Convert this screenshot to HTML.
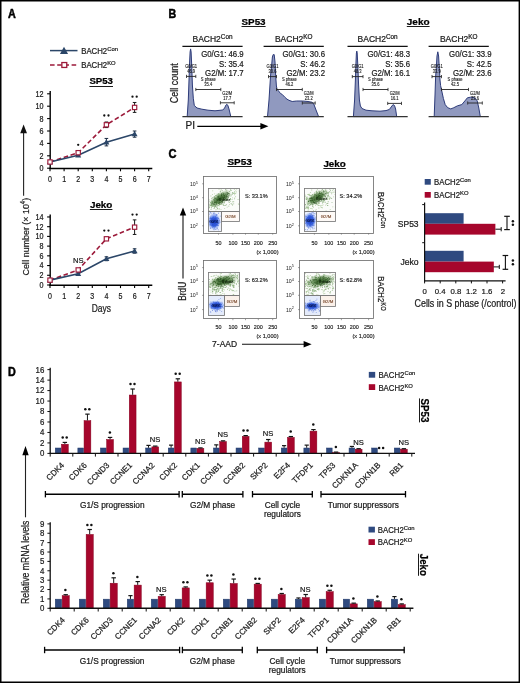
<!DOCTYPE html>
<html><head><meta charset="utf-8"><title>Figure</title>
<style>html,body{margin:0;padding:0;background:#fff;}svg{display:block;filter:blur(0.3px);}</style>
</head><body>
<svg width="520" height="683" viewBox="0 0 520 683" font-family='"Liberation Sans", sans-serif'>
<rect x="0" y="0" width="520" height="683" fill="#ffffff" stroke="none" stroke-width="0"/>
<rect x="0" y="0" width="520" height="1.5" fill="#000" stroke="none" stroke-width="0"/>
<rect x="0" y="0" width="1.5" height="683" fill="#000" stroke="none" stroke-width="0"/>
<rect x="518.6" y="0" width="1.4" height="683" fill="#000" stroke="none" stroke-width="0"/>
<rect x="0" y="681.5" width="520" height="1.5" fill="#000" stroke="none" stroke-width="0"/>
<text x="8" y="17.8" font-size="12" text-anchor="start" font-weight="bold" fill="#000" textLength="7.8" lengthAdjust="spacingAndGlyphs" stroke="#000" stroke-width="0.5">A</text>
<text x="168.6" y="17.5" font-size="12" text-anchor="start" font-weight="bold" fill="#000" textLength="7.7" lengthAdjust="spacingAndGlyphs" stroke="#000" stroke-width="0.5">B</text>
<text x="168.5" y="158.3" font-size="12.4" text-anchor="start" font-weight="bold" fill="#000" textLength="8" lengthAdjust="spacingAndGlyphs" stroke="#000" stroke-width="0.5">C</text>
<text x="8" y="375.6" font-size="12.4" text-anchor="start" font-weight="bold" fill="#000" textLength="7.8" lengthAdjust="spacingAndGlyphs" stroke="#000" stroke-width="0.5">D</text>
<line x1="50" y1="50.6" x2="77.5" y2="50.6" stroke="#2b4668" stroke-width="1.5"/>
<path d="M64 46.78L68.08 54.06L59.92 54.06Z" fill="#2b4668"/>
<text x="81.2" y="53.6" font-size="8.3" text-anchor="start" fill="#1a1a1a" stroke="#1a1a1a" stroke-width="0.22" textLength="36.75" lengthAdjust="spacingAndGlyphs">BACH2<tspan font-size="6.23" dy="-2.99">Con</tspan></text>
<line x1="50" y1="65" x2="77.5" y2="65" stroke="#9c1a3a" stroke-width="1.5" stroke-dasharray="4.6 2.6"/>
<rect x="61.85" y="62.55" width="4.9" height="4.9" fill="#fff" stroke="#9c1a3a" stroke-width="1.3"/>
<text x="81.2" y="68" font-size="8.3" text-anchor="start" fill="#1a1a1a" stroke="#1a1a1a" stroke-width="0.22" textLength="34.47" lengthAdjust="spacingAndGlyphs">BACH2<tspan font-size="6.23" dy="-2.99">KO</tspan></text>
<text x="89.4" y="84.4" font-size="9.3" text-anchor="start" font-weight="bold" fill="#000" stroke="#000" stroke-width="0.22" textLength="23.6" lengthAdjust="spacingAndGlyphs">SP53</text>
<line x1="89.4" y1="86.5" x2="113" y2="86.5" stroke="#000" stroke-width="0.9"/>
<line x1="50.2" y1="90.9" x2="50.2" y2="168.7" stroke="#000" stroke-width="1.4"/>
<line x1="47.1" y1="168.2" x2="50" y2="168.2" stroke="#000" stroke-width="1.1"/>
<text x="43.6" y="171.1" font-size="8.2" text-anchor="end" font-weight="normal" fill="#1a1a1a" stroke="#1a1a1a" stroke-width="0.22" textLength="4.01" lengthAdjust="spacingAndGlyphs">0</text>
<line x1="47.1" y1="155.8" x2="50" y2="155.8" stroke="#000" stroke-width="1.1"/>
<text x="43.6" y="158.7" font-size="8.2" text-anchor="end" font-weight="normal" fill="#1a1a1a" stroke="#1a1a1a" stroke-width="0.22" textLength="4.01" lengthAdjust="spacingAndGlyphs">2</text>
<line x1="47.1" y1="143.4" x2="50" y2="143.4" stroke="#000" stroke-width="1.1"/>
<text x="43.6" y="146.3" font-size="8.2" text-anchor="end" font-weight="normal" fill="#1a1a1a" stroke="#1a1a1a" stroke-width="0.22" textLength="4.01" lengthAdjust="spacingAndGlyphs">4</text>
<line x1="47.1" y1="131" x2="50" y2="131" stroke="#000" stroke-width="1.1"/>
<text x="43.6" y="133.9" font-size="8.2" text-anchor="end" font-weight="normal" fill="#1a1a1a" stroke="#1a1a1a" stroke-width="0.22" textLength="4.01" lengthAdjust="spacingAndGlyphs">6</text>
<line x1="47.1" y1="118.6" x2="50" y2="118.6" stroke="#000" stroke-width="1.1"/>
<text x="43.6" y="121.5" font-size="8.2" text-anchor="end" font-weight="normal" fill="#1a1a1a" stroke="#1a1a1a" stroke-width="0.22" textLength="4.01" lengthAdjust="spacingAndGlyphs">8</text>
<line x1="47.1" y1="106.2" x2="50" y2="106.2" stroke="#000" stroke-width="1.1"/>
<text x="43.6" y="109.1" font-size="8.2" text-anchor="end" font-weight="normal" fill="#1a1a1a" stroke="#1a1a1a" stroke-width="0.22" textLength="8.03" lengthAdjust="spacingAndGlyphs">10</text>
<line x1="47.1" y1="93.8" x2="50" y2="93.8" stroke="#000" stroke-width="1.1"/>
<text x="43.6" y="96.7" font-size="8.2" text-anchor="end" font-weight="normal" fill="#1a1a1a" stroke="#1a1a1a" stroke-width="0.22" textLength="8.03" lengthAdjust="spacingAndGlyphs">12</text>
<line x1="49.5" y1="168.5" x2="152.3" y2="168.5" stroke="#000" stroke-width="1.4"/>
<line x1="50" y1="168.2" x2="50" y2="171.3" stroke="#000" stroke-width="1.1"/>
<text x="50" y="181.8" font-size="8.6" text-anchor="middle" font-weight="normal" fill="#1a1a1a" stroke="#1a1a1a" stroke-width="0.22" textLength="3.92" lengthAdjust="spacingAndGlyphs">0</text>
<line x1="64.1" y1="168.2" x2="64.1" y2="171.3" stroke="#000" stroke-width="1.1"/>
<text x="64.1" y="181.8" font-size="8.6" text-anchor="middle" font-weight="normal" fill="#1a1a1a" stroke="#1a1a1a" stroke-width="0.22" textLength="3.92" lengthAdjust="spacingAndGlyphs">1</text>
<line x1="78.2" y1="168.2" x2="78.2" y2="171.3" stroke="#000" stroke-width="1.1"/>
<text x="78.2" y="181.8" font-size="8.6" text-anchor="middle" font-weight="normal" fill="#1a1a1a" stroke="#1a1a1a" stroke-width="0.22" textLength="3.92" lengthAdjust="spacingAndGlyphs">2</text>
<line x1="92.3" y1="168.2" x2="92.3" y2="171.3" stroke="#000" stroke-width="1.1"/>
<text x="92.3" y="181.8" font-size="8.6" text-anchor="middle" font-weight="normal" fill="#1a1a1a" stroke="#1a1a1a" stroke-width="0.22" textLength="3.92" lengthAdjust="spacingAndGlyphs">3</text>
<line x1="106.4" y1="168.2" x2="106.4" y2="171.3" stroke="#000" stroke-width="1.1"/>
<text x="106.4" y="181.8" font-size="8.6" text-anchor="middle" font-weight="normal" fill="#1a1a1a" stroke="#1a1a1a" stroke-width="0.22" textLength="3.92" lengthAdjust="spacingAndGlyphs">4</text>
<line x1="120.5" y1="168.2" x2="120.5" y2="171.3" stroke="#000" stroke-width="1.1"/>
<text x="120.5" y="181.8" font-size="8.6" text-anchor="middle" font-weight="normal" fill="#1a1a1a" stroke="#1a1a1a" stroke-width="0.22" textLength="3.92" lengthAdjust="spacingAndGlyphs">5</text>
<line x1="134.6" y1="168.2" x2="134.6" y2="171.3" stroke="#000" stroke-width="1.1"/>
<text x="134.6" y="181.8" font-size="8.6" text-anchor="middle" font-weight="normal" fill="#1a1a1a" stroke="#1a1a1a" stroke-width="0.22" textLength="3.92" lengthAdjust="spacingAndGlyphs">6</text>
<line x1="148.7" y1="168.2" x2="148.7" y2="171.3" stroke="#000" stroke-width="1.1"/>
<text x="148.7" y="181.8" font-size="8.6" text-anchor="middle" font-weight="normal" fill="#1a1a1a" stroke="#1a1a1a" stroke-width="0.22" textLength="3.92" lengthAdjust="spacingAndGlyphs">7</text>
<polyline points="50,162 78.2,152.7 106.4,124.8 134.6,107.44" fill="none" stroke="#9c1a3a" stroke-width="1.6" stroke-dasharray="4.6 2.6"/>
<polyline points="50,162 78.2,155.18 106.4,142.16 134.6,134.1" fill="none" stroke="#2b4668" stroke-width="1.6"/>
<path d="M50 158.9L53 164.25L47 164.25Z" fill="#2b4668"/>
<line x1="78.2" y1="154.25" x2="78.2" y2="156.11" stroke="#1a2a40" stroke-width="1"/>
<line x1="76.4" y1="154.25" x2="80" y2="154.25" stroke="#1a2a40" stroke-width="1"/>
<line x1="76.4" y1="156.11" x2="80" y2="156.11" stroke="#1a2a40" stroke-width="1"/>
<path d="M78.2 152.08L81.2 157.43L75.2 157.43Z" fill="#2b4668"/>
<line x1="106.4" y1="138.44" x2="106.4" y2="145.88" stroke="#1a2a40" stroke-width="1"/>
<line x1="104.6" y1="138.44" x2="108.2" y2="138.44" stroke="#1a2a40" stroke-width="1"/>
<line x1="104.6" y1="145.88" x2="108.2" y2="145.88" stroke="#1a2a40" stroke-width="1"/>
<path d="M106.4 139.06L109.4 144.41L103.4 144.41Z" fill="#2b4668"/>
<line x1="134.6" y1="131" x2="134.6" y2="137.2" stroke="#1a2a40" stroke-width="1"/>
<line x1="132.8" y1="131" x2="136.4" y2="131" stroke="#1a2a40" stroke-width="1"/>
<line x1="132.8" y1="137.2" x2="136.4" y2="137.2" stroke="#1a2a40" stroke-width="1"/>
<path d="M134.6 131L137.6 136.35L131.6 136.35Z" fill="#2b4668"/>
<rect x="47.85" y="159.85" width="4.3" height="4.3" fill="#fff" stroke="#9c1a3a" stroke-width="1.15"/>
<line x1="78.2" y1="151.46" x2="78.2" y2="153.94" stroke="#1a1a1a" stroke-width="1"/>
<line x1="76.4" y1="151.46" x2="80" y2="151.46" stroke="#1a1a1a" stroke-width="1"/>
<line x1="76.4" y1="153.94" x2="80" y2="153.94" stroke="#1a1a1a" stroke-width="1"/>
<rect x="76.05" y="150.55" width="4.3" height="4.3" fill="#fff" stroke="#9c1a3a" stroke-width="1.15"/>
<line x1="106.4" y1="122.01" x2="106.4" y2="127.59" stroke="#1a1a1a" stroke-width="1"/>
<line x1="104.6" y1="122.01" x2="108.2" y2="122.01" stroke="#1a1a1a" stroke-width="1"/>
<line x1="104.6" y1="127.59" x2="108.2" y2="127.59" stroke="#1a1a1a" stroke-width="1"/>
<rect x="104.25" y="122.65" width="4.3" height="4.3" fill="#fff" stroke="#9c1a3a" stroke-width="1.15"/>
<line x1="134.6" y1="102.48" x2="134.6" y2="112.4" stroke="#1a1a1a" stroke-width="1"/>
<line x1="132.8" y1="102.48" x2="136.4" y2="102.48" stroke="#1a1a1a" stroke-width="1"/>
<line x1="132.8" y1="112.4" x2="136.4" y2="112.4" stroke="#1a1a1a" stroke-width="1"/>
<rect x="132.45" y="105.29" width="4.3" height="4.3" fill="#fff" stroke="#9c1a3a" stroke-width="1.15"/>
<circle cx="78.2" cy="144.8" r="1.15" fill="#111"/>
<circle cx="104.3" cy="115.5" r="1.15" fill="#111"/>
<circle cx="108.5" cy="115.5" r="1.15" fill="#111"/>
<circle cx="132.5" cy="96.7" r="1.15" fill="#111"/>
<circle cx="136.7" cy="96.7" r="1.15" fill="#111"/>
<text x="89.9" y="207.9" font-size="9.3" text-anchor="start" font-weight="bold" fill="#000" stroke="#000" stroke-width="0.22" textLength="22.5" lengthAdjust="spacingAndGlyphs">Jeko</text>
<line x1="89.9" y1="209.5" x2="112.4" y2="209.5" stroke="#000" stroke-width="0.9"/>
<line x1="50.2" y1="214.6" x2="50.2" y2="285.5" stroke="#000" stroke-width="1.4"/>
<line x1="47.1" y1="285" x2="50" y2="285" stroke="#000" stroke-width="1.1"/>
<text x="43.6" y="287.9" font-size="8.2" text-anchor="end" font-weight="normal" fill="#1a1a1a" stroke="#1a1a1a" stroke-width="0.22" textLength="4.01" lengthAdjust="spacingAndGlyphs">0</text>
<line x1="47.1" y1="275.28" x2="50" y2="275.28" stroke="#000" stroke-width="1.1"/>
<text x="43.6" y="278.18" font-size="8.2" text-anchor="end" font-weight="normal" fill="#1a1a1a" stroke="#1a1a1a" stroke-width="0.22" textLength="4.01" lengthAdjust="spacingAndGlyphs">2</text>
<line x1="47.1" y1="265.56" x2="50" y2="265.56" stroke="#000" stroke-width="1.1"/>
<text x="43.6" y="268.46" font-size="8.2" text-anchor="end" font-weight="normal" fill="#1a1a1a" stroke="#1a1a1a" stroke-width="0.22" textLength="4.01" lengthAdjust="spacingAndGlyphs">4</text>
<line x1="47.1" y1="255.84" x2="50" y2="255.84" stroke="#000" stroke-width="1.1"/>
<text x="43.6" y="258.74" font-size="8.2" text-anchor="end" font-weight="normal" fill="#1a1a1a" stroke="#1a1a1a" stroke-width="0.22" textLength="4.01" lengthAdjust="spacingAndGlyphs">6</text>
<line x1="47.1" y1="246.12" x2="50" y2="246.12" stroke="#000" stroke-width="1.1"/>
<text x="43.6" y="249.02" font-size="8.2" text-anchor="end" font-weight="normal" fill="#1a1a1a" stroke="#1a1a1a" stroke-width="0.22" textLength="4.01" lengthAdjust="spacingAndGlyphs">8</text>
<line x1="47.1" y1="236.4" x2="50" y2="236.4" stroke="#000" stroke-width="1.1"/>
<text x="43.6" y="239.3" font-size="8.2" text-anchor="end" font-weight="normal" fill="#1a1a1a" stroke="#1a1a1a" stroke-width="0.22" textLength="8.03" lengthAdjust="spacingAndGlyphs">10</text>
<line x1="47.1" y1="226.68" x2="50" y2="226.68" stroke="#000" stroke-width="1.1"/>
<text x="43.6" y="229.58" font-size="8.2" text-anchor="end" font-weight="normal" fill="#1a1a1a" stroke="#1a1a1a" stroke-width="0.22" textLength="8.03" lengthAdjust="spacingAndGlyphs">12</text>
<line x1="47.1" y1="216.96" x2="50" y2="216.96" stroke="#000" stroke-width="1.1"/>
<text x="43.6" y="219.86" font-size="8.2" text-anchor="end" font-weight="normal" fill="#1a1a1a" stroke="#1a1a1a" stroke-width="0.22" textLength="8.03" lengthAdjust="spacingAndGlyphs">14</text>
<line x1="49.5" y1="285.3" x2="152.3" y2="285.3" stroke="#000" stroke-width="1.4"/>
<line x1="50" y1="285" x2="50" y2="288.1" stroke="#000" stroke-width="1.1"/>
<text x="50" y="298.6" font-size="8.6" text-anchor="middle" font-weight="normal" fill="#1a1a1a" stroke="#1a1a1a" stroke-width="0.22" textLength="3.92" lengthAdjust="spacingAndGlyphs">0</text>
<line x1="64.1" y1="285" x2="64.1" y2="288.1" stroke="#000" stroke-width="1.1"/>
<text x="64.1" y="298.6" font-size="8.6" text-anchor="middle" font-weight="normal" fill="#1a1a1a" stroke="#1a1a1a" stroke-width="0.22" textLength="3.92" lengthAdjust="spacingAndGlyphs">1</text>
<line x1="78.2" y1="285" x2="78.2" y2="288.1" stroke="#000" stroke-width="1.1"/>
<text x="78.2" y="298.6" font-size="8.6" text-anchor="middle" font-weight="normal" fill="#1a1a1a" stroke="#1a1a1a" stroke-width="0.22" textLength="3.92" lengthAdjust="spacingAndGlyphs">2</text>
<line x1="92.3" y1="285" x2="92.3" y2="288.1" stroke="#000" stroke-width="1.1"/>
<text x="92.3" y="298.6" font-size="8.6" text-anchor="middle" font-weight="normal" fill="#1a1a1a" stroke="#1a1a1a" stroke-width="0.22" textLength="3.92" lengthAdjust="spacingAndGlyphs">3</text>
<line x1="106.4" y1="285" x2="106.4" y2="288.1" stroke="#000" stroke-width="1.1"/>
<text x="106.4" y="298.6" font-size="8.6" text-anchor="middle" font-weight="normal" fill="#1a1a1a" stroke="#1a1a1a" stroke-width="0.22" textLength="3.92" lengthAdjust="spacingAndGlyphs">4</text>
<line x1="120.5" y1="285" x2="120.5" y2="288.1" stroke="#000" stroke-width="1.1"/>
<text x="120.5" y="298.6" font-size="8.6" text-anchor="middle" font-weight="normal" fill="#1a1a1a" stroke="#1a1a1a" stroke-width="0.22" textLength="3.92" lengthAdjust="spacingAndGlyphs">5</text>
<line x1="134.6" y1="285" x2="134.6" y2="288.1" stroke="#000" stroke-width="1.1"/>
<text x="134.6" y="298.6" font-size="8.6" text-anchor="middle" font-weight="normal" fill="#1a1a1a" stroke="#1a1a1a" stroke-width="0.22" textLength="3.92" lengthAdjust="spacingAndGlyphs">6</text>
<line x1="148.7" y1="285" x2="148.7" y2="288.1" stroke="#000" stroke-width="1.1"/>
<text x="148.7" y="298.6" font-size="8.6" text-anchor="middle" font-weight="normal" fill="#1a1a1a" stroke="#1a1a1a" stroke-width="0.22" textLength="3.92" lengthAdjust="spacingAndGlyphs">7</text>
<polyline points="50,280.14 78.2,269.93 106.4,238.83 134.6,227.17" fill="none" stroke="#9c1a3a" stroke-width="1.6" stroke-dasharray="4.6 2.6"/>
<polyline points="50,280.14 78.2,273.82 106.4,258.76 134.6,250.98" fill="none" stroke="#2b4668" stroke-width="1.6"/>
<path d="M50 277.04L53 282.39L47 282.39Z" fill="#2b4668"/>
<line x1="78.2" y1="272.36" x2="78.2" y2="275.28" stroke="#1a2a40" stroke-width="1"/>
<line x1="76.4" y1="272.36" x2="80" y2="272.36" stroke="#1a2a40" stroke-width="1"/>
<line x1="76.4" y1="275.28" x2="80" y2="275.28" stroke="#1a2a40" stroke-width="1"/>
<path d="M78.2 270.72L81.2 276.07L75.2 276.07Z" fill="#2b4668"/>
<line x1="106.4" y1="256.81" x2="106.4" y2="260.7" stroke="#1a2a40" stroke-width="1"/>
<line x1="104.6" y1="256.81" x2="108.2" y2="256.81" stroke="#1a2a40" stroke-width="1"/>
<line x1="104.6" y1="260.7" x2="108.2" y2="260.7" stroke="#1a2a40" stroke-width="1"/>
<path d="M106.4 255.66L109.4 261.01L103.4 261.01Z" fill="#2b4668"/>
<line x1="134.6" y1="248.79" x2="134.6" y2="253.17" stroke="#1a2a40" stroke-width="1"/>
<line x1="132.8" y1="248.79" x2="136.4" y2="248.79" stroke="#1a2a40" stroke-width="1"/>
<line x1="132.8" y1="253.17" x2="136.4" y2="253.17" stroke="#1a2a40" stroke-width="1"/>
<path d="M134.6 247.88L137.6 253.23L131.6 253.23Z" fill="#2b4668"/>
<rect x="47.85" y="277.99" width="4.3" height="4.3" fill="#fff" stroke="#9c1a3a" stroke-width="1.15"/>
<line x1="78.2" y1="268.96" x2="78.2" y2="270.91" stroke="#1a1a1a" stroke-width="1"/>
<line x1="76.4" y1="268.96" x2="80" y2="268.96" stroke="#1a1a1a" stroke-width="1"/>
<line x1="76.4" y1="270.91" x2="80" y2="270.91" stroke="#1a1a1a" stroke-width="1"/>
<rect x="76.05" y="267.78" width="4.3" height="4.3" fill="#fff" stroke="#9c1a3a" stroke-width="1.15"/>
<line x1="106.4" y1="237.37" x2="106.4" y2="240.29" stroke="#1a1a1a" stroke-width="1"/>
<line x1="104.6" y1="237.37" x2="108.2" y2="237.37" stroke="#1a1a1a" stroke-width="1"/>
<line x1="104.6" y1="240.29" x2="108.2" y2="240.29" stroke="#1a1a1a" stroke-width="1"/>
<rect x="104.25" y="236.68" width="4.3" height="4.3" fill="#fff" stroke="#9c1a3a" stroke-width="1.15"/>
<line x1="134.6" y1="219.88" x2="134.6" y2="234.46" stroke="#1a1a1a" stroke-width="1"/>
<line x1="132.8" y1="219.88" x2="136.4" y2="219.88" stroke="#1a1a1a" stroke-width="1"/>
<line x1="132.8" y1="234.46" x2="136.4" y2="234.46" stroke="#1a1a1a" stroke-width="1"/>
<rect x="132.45" y="225.02" width="4.3" height="4.3" fill="#fff" stroke="#9c1a3a" stroke-width="1.15"/>
<text x="78.2" y="263.3" font-size="7.6" text-anchor="middle" font-weight="normal" fill="#1a1a1a" stroke="#1a1a1a" stroke-width="0.21">NS</text>
<circle cx="104.3" cy="230.6" r="1.15" fill="#111"/>
<circle cx="108.5" cy="230.6" r="1.15" fill="#111"/>
<circle cx="132.5" cy="214.6" r="1.15" fill="#111"/>
<circle cx="136.7" cy="214.6" r="1.15" fill="#111"/>
<text x="101.3" y="312.4" font-size="10.2" text-anchor="middle" font-weight="normal" fill="#1a1a1a" stroke="#1a1a1a" stroke-width="0.22" textLength="19.2" lengthAdjust="spacingAndGlyphs">Days</text>
<line x1="23.6" y1="131" x2="23.6" y2="195.7" stroke="#222" stroke-width="1.1"/>
<path d="M23.6 124.6L27 133.2L20.2 133.2Z" fill="#111"/>
<text x="0" y="0" font-size="9.6" fill="#1a1a1a" stroke="#1a1a1a" stroke-width="0.2" text-anchor="middle" textLength="77.6" lengthAdjust="spacingAndGlyphs" transform="translate(28.6 236.7) rotate(-90)">Cel<tspan dx="0.5">l</tspan> number (× 10<tspan font-size="6.4" dy="-3.8">4</tspan><tspan dy="3.8">)</tspan></text>
<text x="241.5" y="25" font-size="9.5" text-anchor="start" font-weight="bold" fill="#000" stroke="#000" stroke-width="0.22" textLength="24.1" lengthAdjust="spacingAndGlyphs">SP53</text>
<line x1="241.5" y1="26.5" x2="265.6" y2="26.5" stroke="#000" stroke-width="0.9"/>
<text x="406.8" y="25.1" font-size="9.6" text-anchor="start" font-weight="bold" fill="#000" stroke="#000" stroke-width="0.22" textLength="22.8" lengthAdjust="spacingAndGlyphs">Jeko</text>
<line x1="406.8" y1="26.5" x2="429.6" y2="26.5" stroke="#000" stroke-width="0.9"/>
<text x="212.5" y="41.6" font-size="8.5" text-anchor="middle" fill="#1a1a1a" stroke="#1a1a1a" stroke-width="0.22">BACH2<tspan font-size="6.38" dy="-3.06">Con</tspan></text>
<line x1="182.4" y1="46.4" x2="242.6" y2="46.4" stroke="#111" stroke-width="1.1"/>
<text x="293.7" y="41.6" font-size="8.5" text-anchor="middle" fill="#1a1a1a" stroke="#1a1a1a" stroke-width="0.22">BACH2<tspan font-size="6.38" dy="-3.06">KO</tspan></text>
<line x1="263.6" y1="46.4" x2="323.8" y2="46.4" stroke="#111" stroke-width="1.1"/>
<text x="377.6" y="41.6" font-size="8.5" text-anchor="middle" fill="#1a1a1a" stroke="#1a1a1a" stroke-width="0.22">BACH2<tspan font-size="6.38" dy="-3.06">Con</tspan></text>
<line x1="347.5" y1="46.4" x2="407.7" y2="46.4" stroke="#111" stroke-width="1.1"/>
<text x="458.7" y="41.6" font-size="8.5" text-anchor="middle" fill="#1a1a1a" stroke="#1a1a1a" stroke-width="0.22">BACH2<tspan font-size="6.38" dy="-3.06">KO</tspan></text>
<line x1="428.6" y1="46.4" x2="488.8" y2="46.4" stroke="#111" stroke-width="1.1"/>
<path d="M187.2 116.6 L188.3 100 L189 80 L189.6 62 L190.1 52 L190.6 48.9 L191.1 52 L191.7 65 L192.4 85 L193.3 98.2 L194.3 105.5 L197 108 L201.9 109.2 L208 110.2 L215 110.8 L222.8 110 L224.6 108 L226 105 L226.8 104.3 L227.8 105.2 L229 109 L230.8 116.6Z" fill="#9099bf" stroke="#2e3c7a" stroke-width="1.0" stroke-linejoin="round"/>
<path d="M267.5 116.6 L269 100 L270.6 75 L271.6 66 L272.4 57 L273.2 54.6 L274.2 54.6 L275 62 L275.7 76 L276.4 86 L277 89 L278.2 90.5 L280.5 93.5 L282.2 94.4 L284.8 97.2 L287 99.2 L289 100.3 L292.2 101.5 L296.5 101 L302.6 101 L308 101.5 L311.8 102.2 L313.7 103.8 L316 110 L318.6 116.6Z" fill="#9099bf" stroke="#2e3c7a" stroke-width="1.0" stroke-linejoin="round"/>
<path d="M353.4 116.6 L354.6 100 L355.4 80 L356 62 L356.4 53 L356.8 51.1 L357.2 53 L357.8 65 L358.6 85 L359.4 100 L360.4 106 L362 108.5 L366 110.2 L372 110.8 L380 111.2 L386 110.6 L389.3 109.5 L391.2 107 L393 104.6 L394.5 105.5 L395.6 109 L396.7 116.6Z" fill="#9099bf" stroke="#2e3c7a" stroke-width="1.0" stroke-linejoin="round"/>
<path d="M434.2 116.6 L435 95 L435.6 77 L436.3 68 L437 56 L437.8 51.8 L438.6 56 L439.3 68 L440 80 L440.6 85.5 L441.5 89.8 L443.4 98.5 L445.2 104.6 L447.7 107.7 L450.8 108.9 L453.8 107.7 L457.5 105.8 L461.8 104.6 L464.9 100.9 L467.4 97.8 L470.5 97.2 L474.8 97.8 L477.2 100.9 L478.8 108 L480.3 116.6Z" fill="#9099bf" stroke="#2e3c7a" stroke-width="1.0" stroke-linejoin="round"/>
<line x1="182.4" y1="116.7" x2="242.6" y2="116.7" stroke="#333" stroke-width="1.3"/>
<text x="243.7" y="57.3" font-size="8.8" text-anchor="end" font-weight="normal" fill="#1a1a1a" stroke="#1a1a1a" stroke-width="0.22" textLength="42.52" lengthAdjust="spacingAndGlyphs">G0/G1: 46.9</text>
<text x="243.7" y="66.8" font-size="8.8" text-anchor="end" font-weight="normal" fill="#1a1a1a" stroke="#1a1a1a" stroke-width="0.22" textLength="24.74" lengthAdjust="spacingAndGlyphs">S: 35.4</text>
<text x="243.7" y="76.2" font-size="8.8" text-anchor="end" font-weight="normal" fill="#1a1a1a" stroke="#1a1a1a" stroke-width="0.22" textLength="38.61" lengthAdjust="spacingAndGlyphs">G2/M: 17.7</text>
<line x1="263.6" y1="116.7" x2="323.8" y2="116.7" stroke="#333" stroke-width="1.3"/>
<text x="325" y="57.3" font-size="8.8" text-anchor="end" font-weight="normal" fill="#1a1a1a" stroke="#1a1a1a" stroke-width="0.22" textLength="42.52" lengthAdjust="spacingAndGlyphs">G0/G1: 30.6</text>
<text x="325" y="66.8" font-size="8.8" text-anchor="end" font-weight="normal" fill="#1a1a1a" stroke="#1a1a1a" stroke-width="0.22" textLength="24.74" lengthAdjust="spacingAndGlyphs">S: 46.2</text>
<text x="325" y="76.2" font-size="8.8" text-anchor="end" font-weight="normal" fill="#1a1a1a" stroke="#1a1a1a" stroke-width="0.22" textLength="38.61" lengthAdjust="spacingAndGlyphs">G2/M: 23.2</text>
<line x1="347.5" y1="116.7" x2="407.7" y2="116.7" stroke="#333" stroke-width="1.3"/>
<text x="410" y="57.3" font-size="8.8" text-anchor="end" font-weight="normal" fill="#1a1a1a" stroke="#1a1a1a" stroke-width="0.22" textLength="42.52" lengthAdjust="spacingAndGlyphs">G0/G1: 48.3</text>
<text x="410" y="66.8" font-size="8.8" text-anchor="end" font-weight="normal" fill="#1a1a1a" stroke="#1a1a1a" stroke-width="0.22" textLength="24.74" lengthAdjust="spacingAndGlyphs">S: 35.6</text>
<text x="410" y="76.2" font-size="8.8" text-anchor="end" font-weight="normal" fill="#1a1a1a" stroke="#1a1a1a" stroke-width="0.22" textLength="38.61" lengthAdjust="spacingAndGlyphs">G2/M: 16.1</text>
<line x1="428.6" y1="116.7" x2="488.8" y2="116.7" stroke="#333" stroke-width="1.3"/>
<text x="491.6" y="57.3" font-size="8.8" text-anchor="end" font-weight="normal" fill="#1a1a1a" stroke="#1a1a1a" stroke-width="0.22" textLength="42.52" lengthAdjust="spacingAndGlyphs">G0/G1: 33.9</text>
<text x="491.6" y="66.8" font-size="8.8" text-anchor="end" font-weight="normal" fill="#1a1a1a" stroke="#1a1a1a" stroke-width="0.22" textLength="24.74" lengthAdjust="spacingAndGlyphs">S: 42.5</text>
<text x="491.6" y="76.2" font-size="8.8" text-anchor="end" font-weight="normal" fill="#1a1a1a" stroke="#1a1a1a" stroke-width="0.22" textLength="38.61" lengthAdjust="spacingAndGlyphs">G2/M: 23.6</text>
<line x1="186.5" y1="76.4" x2="195.8" y2="76.4" stroke="#222" stroke-width="0.9"/>
<line x1="186.5" y1="74.8" x2="186.5" y2="78" stroke="#222" stroke-width="0.8"/>
<line x1="195.8" y1="74.8" x2="195.8" y2="78" stroke="#222" stroke-width="0.8"/>
<text x="191.15" y="68.1" font-size="4.5" text-anchor="middle" font-weight="normal" fill="#1a1a1a" stroke="#1a1a1a" stroke-width="0.12" textLength="11.93" lengthAdjust="spacingAndGlyphs">G0/G1</text>
<text x="191.15" y="73.2" font-size="4.5" text-anchor="middle" font-weight="normal" fill="#1a1a1a" stroke="#1a1a1a" stroke-width="0.12" textLength="7.88" lengthAdjust="spacingAndGlyphs">46.9</text>
<line x1="195.8" y1="89.5" x2="220.8" y2="89.5" stroke="#222" stroke-width="0.9"/>
<line x1="195.8" y1="87.9" x2="195.8" y2="91.1" stroke="#222" stroke-width="0.8"/>
<line x1="220.8" y1="87.9" x2="220.8" y2="91.1" stroke="#222" stroke-width="0.8"/>
<text x="208.3" y="81.2" font-size="4.5" text-anchor="middle" font-weight="normal" fill="#1a1a1a" stroke="#1a1a1a" stroke-width="0.12" textLength="14.86" lengthAdjust="spacingAndGlyphs">S phase</text>
<text x="208.3" y="86.3" font-size="4.5" text-anchor="middle" font-weight="normal" fill="#1a1a1a" stroke="#1a1a1a" stroke-width="0.12" textLength="7.88" lengthAdjust="spacingAndGlyphs">35.4</text>
<line x1="220.4" y1="102.8" x2="234.2" y2="102.8" stroke="#222" stroke-width="0.9"/>
<line x1="220.4" y1="101.2" x2="220.4" y2="104.4" stroke="#222" stroke-width="0.8"/>
<line x1="234.2" y1="101.2" x2="234.2" y2="104.4" stroke="#222" stroke-width="0.8"/>
<text x="227.3" y="94.5" font-size="4.5" text-anchor="middle" font-weight="normal" fill="#1a1a1a" stroke="#1a1a1a" stroke-width="0.12" textLength="9.9" lengthAdjust="spacingAndGlyphs">G2/M</text>
<text x="227.3" y="99.6" font-size="4.5" text-anchor="middle" font-weight="normal" fill="#1a1a1a" stroke="#1a1a1a" stroke-width="0.12" textLength="7.88" lengthAdjust="spacingAndGlyphs">17.7</text>
<line x1="268.5" y1="76.6" x2="276.5" y2="76.6" stroke="#222" stroke-width="0.9"/>
<line x1="268.5" y1="75" x2="268.5" y2="78.2" stroke="#222" stroke-width="0.8"/>
<line x1="276.5" y1="75" x2="276.5" y2="78.2" stroke="#222" stroke-width="0.8"/>
<text x="272.5" y="68.3" font-size="4.5" text-anchor="middle" font-weight="normal" fill="#1a1a1a" stroke="#1a1a1a" stroke-width="0.12" textLength="11.93" lengthAdjust="spacingAndGlyphs">G0/G1</text>
<text x="272.5" y="73.4" font-size="4.5" text-anchor="middle" font-weight="normal" fill="#1a1a1a" stroke="#1a1a1a" stroke-width="0.12" textLength="7.88" lengthAdjust="spacingAndGlyphs">30.6</text>
<line x1="276.5" y1="89.5" x2="302.3" y2="89.5" stroke="#222" stroke-width="0.9"/>
<line x1="276.5" y1="87.9" x2="276.5" y2="91.1" stroke="#222" stroke-width="0.8"/>
<line x1="302.3" y1="87.9" x2="302.3" y2="91.1" stroke="#222" stroke-width="0.8"/>
<text x="289.4" y="81.2" font-size="4.5" text-anchor="middle" font-weight="normal" fill="#1a1a1a" stroke="#1a1a1a" stroke-width="0.12" textLength="14.86" lengthAdjust="spacingAndGlyphs">S phase</text>
<text x="289.4" y="86.3" font-size="4.5" text-anchor="middle" font-weight="normal" fill="#1a1a1a" stroke="#1a1a1a" stroke-width="0.12" textLength="7.88" lengthAdjust="spacingAndGlyphs">46.2</text>
<line x1="302.3" y1="103" x2="315.2" y2="103" stroke="#222" stroke-width="0.9"/>
<line x1="302.3" y1="101.4" x2="302.3" y2="104.6" stroke="#222" stroke-width="0.8"/>
<line x1="315.2" y1="101.4" x2="315.2" y2="104.6" stroke="#222" stroke-width="0.8"/>
<text x="308.75" y="94.7" font-size="4.5" text-anchor="middle" font-weight="normal" fill="#1a1a1a" stroke="#1a1a1a" stroke-width="0.12" textLength="9.9" lengthAdjust="spacingAndGlyphs">G2/M</text>
<text x="308.75" y="99.8" font-size="4.5" text-anchor="middle" font-weight="normal" fill="#1a1a1a" stroke="#1a1a1a" stroke-width="0.12" textLength="7.88" lengthAdjust="spacingAndGlyphs">23.2</text>
<line x1="352.3" y1="76.6" x2="363" y2="76.6" stroke="#222" stroke-width="0.9"/>
<line x1="352.3" y1="75" x2="352.3" y2="78.2" stroke="#222" stroke-width="0.8"/>
<line x1="363" y1="75" x2="363" y2="78.2" stroke="#222" stroke-width="0.8"/>
<text x="357.65" y="68.3" font-size="4.5" text-anchor="middle" font-weight="normal" fill="#1a1a1a" stroke="#1a1a1a" stroke-width="0.12" textLength="11.93" lengthAdjust="spacingAndGlyphs">G0/G1</text>
<text x="357.65" y="73.4" font-size="4.5" text-anchor="middle" font-weight="normal" fill="#1a1a1a" stroke="#1a1a1a" stroke-width="0.12" textLength="7.88" lengthAdjust="spacingAndGlyphs">48.3</text>
<line x1="363" y1="89.5" x2="388" y2="89.5" stroke="#222" stroke-width="0.9"/>
<line x1="363" y1="87.9" x2="363" y2="91.1" stroke="#222" stroke-width="0.8"/>
<line x1="388" y1="87.9" x2="388" y2="91.1" stroke="#222" stroke-width="0.8"/>
<text x="375.5" y="81.2" font-size="4.5" text-anchor="middle" font-weight="normal" fill="#1a1a1a" stroke="#1a1a1a" stroke-width="0.12" textLength="14.86" lengthAdjust="spacingAndGlyphs">S phase</text>
<text x="375.5" y="86.3" font-size="4.5" text-anchor="middle" font-weight="normal" fill="#1a1a1a" stroke="#1a1a1a" stroke-width="0.12" textLength="7.88" lengthAdjust="spacingAndGlyphs">35.6</text>
<line x1="387.7" y1="103.4" x2="401.5" y2="103.4" stroke="#222" stroke-width="0.9"/>
<line x1="387.7" y1="101.8" x2="387.7" y2="105" stroke="#222" stroke-width="0.8"/>
<line x1="401.5" y1="101.8" x2="401.5" y2="105" stroke="#222" stroke-width="0.8"/>
<text x="394.6" y="95.1" font-size="4.5" text-anchor="middle" font-weight="normal" fill="#1a1a1a" stroke="#1a1a1a" stroke-width="0.12" textLength="9.9" lengthAdjust="spacingAndGlyphs">G2/M</text>
<text x="394.6" y="100.2" font-size="4.5" text-anchor="middle" font-weight="normal" fill="#1a1a1a" stroke="#1a1a1a" stroke-width="0.12" textLength="7.88" lengthAdjust="spacingAndGlyphs">16.1</text>
<line x1="432" y1="76.6" x2="441.5" y2="76.6" stroke="#222" stroke-width="0.9"/>
<line x1="432" y1="75" x2="432" y2="78.2" stroke="#222" stroke-width="0.8"/>
<line x1="441.5" y1="75" x2="441.5" y2="78.2" stroke="#222" stroke-width="0.8"/>
<text x="436.75" y="68.3" font-size="4.5" text-anchor="middle" font-weight="normal" fill="#1a1a1a" stroke="#1a1a1a" stroke-width="0.12" textLength="11.93" lengthAdjust="spacingAndGlyphs">G0/G1</text>
<text x="436.75" y="73.4" font-size="4.5" text-anchor="middle" font-weight="normal" fill="#1a1a1a" stroke="#1a1a1a" stroke-width="0.12" textLength="7.88" lengthAdjust="spacingAndGlyphs">33.9</text>
<line x1="441.5" y1="89.5" x2="468.5" y2="89.5" stroke="#222" stroke-width="0.9"/>
<line x1="441.5" y1="87.9" x2="441.5" y2="91.1" stroke="#222" stroke-width="0.8"/>
<line x1="468.5" y1="87.9" x2="468.5" y2="91.1" stroke="#222" stroke-width="0.8"/>
<text x="455" y="81.2" font-size="4.5" text-anchor="middle" font-weight="normal" fill="#1a1a1a" stroke="#1a1a1a" stroke-width="0.12" textLength="14.86" lengthAdjust="spacingAndGlyphs">S phase</text>
<text x="455" y="86.3" font-size="4.5" text-anchor="middle" font-weight="normal" fill="#1a1a1a" stroke="#1a1a1a" stroke-width="0.12" textLength="7.88" lengthAdjust="spacingAndGlyphs">42.5</text>
<line x1="467.7" y1="103" x2="482.3" y2="103" stroke="#222" stroke-width="0.9"/>
<line x1="467.7" y1="101.4" x2="467.7" y2="104.6" stroke="#222" stroke-width="0.8"/>
<line x1="482.3" y1="101.4" x2="482.3" y2="104.6" stroke="#222" stroke-width="0.8"/>
<text x="475" y="94.7" font-size="4.5" text-anchor="middle" font-weight="normal" fill="#1a1a1a" stroke="#1a1a1a" stroke-width="0.12" textLength="9.9" lengthAdjust="spacingAndGlyphs">G2/M</text>
<text x="475" y="99.8" font-size="4.5" text-anchor="middle" font-weight="normal" fill="#1a1a1a" stroke="#1a1a1a" stroke-width="0.12" textLength="7.88" lengthAdjust="spacingAndGlyphs">23.6</text>
<text x="0" y="0" font-size="10.4" text-anchor="middle" font-weight="normal" fill="#1a1a1a" stroke="#1a1a1a" stroke-width="0.22" textLength="40" lengthAdjust="spacingAndGlyphs" transform="translate(178.0 83.3) rotate(-90)">Cell count</text>
<text x="185.6" y="129.3" font-size="10" text-anchor="start" font-weight="normal" fill="#1a1a1a" stroke="#1a1a1a" stroke-width="0.22">PI</text>
<line x1="197.3" y1="126.3" x2="262" y2="126.3" stroke="#000" stroke-width="1.2"/>
<path d="M268.4 126.3L260.4 123.0L260.4 129.6Z" fill="#000"/>
<text x="227.4" y="165.4" font-size="9.5" text-anchor="start" font-weight="bold" fill="#000" stroke="#000" stroke-width="0.22" textLength="24.4" lengthAdjust="spacingAndGlyphs">SP53</text>
<line x1="227.4" y1="166.5" x2="251.8" y2="166.5" stroke="#000" stroke-width="0.9"/>
<text x="323.4" y="167" font-size="9.6" text-anchor="start" font-weight="bold" fill="#000" stroke="#000" stroke-width="0.22" textLength="22.4" lengthAdjust="spacingAndGlyphs">Jeko</text>
<line x1="323.4" y1="168.5" x2="345.8" y2="168.5" stroke="#000" stroke-width="0.9"/>
<rect x="203.5" y="176.5" width="73" height="57" fill="none" stroke="#707070" stroke-width="0.85"/>
<text x="197.9" y="185.7" font-size="5.2" text-anchor="end" fill="#1a1a1a">10<tspan font-size="3.8" dy="-2.1">5</tspan></text>
<line x1="202.1" y1="183.8" x2="203.7" y2="183.8" stroke="#666" stroke-width="0.6"/>
<text x="197.9" y="199.6" font-size="5.2" text-anchor="end" fill="#1a1a1a">10<tspan font-size="3.8" dy="-2.1">4</tspan></text>
<line x1="202.1" y1="197.7" x2="203.7" y2="197.7" stroke="#666" stroke-width="0.6"/>
<text x="197.9" y="213.4" font-size="5.2" text-anchor="end" fill="#1a1a1a">10<tspan font-size="3.8" dy="-2.1">3</tspan></text>
<line x1="202.1" y1="211.5" x2="203.7" y2="211.5" stroke="#666" stroke-width="0.6"/>
<text x="197.9" y="227.7" font-size="5.2" text-anchor="end" fill="#1a1a1a">10<tspan font-size="3.8" dy="-2.1">2</tspan></text>
<line x1="202.1" y1="225.8" x2="203.7" y2="225.8" stroke="#666" stroke-width="0.6"/>
<text x="218.5" y="244.6" font-size="5.4" text-anchor="middle" font-weight="normal" fill="#1a1a1a" stroke="#1a1a1a" stroke-width="0.15">50</text>
<line x1="218.5" y1="233.3" x2="218.5" y2="234.7" stroke="#666" stroke-width="0.6"/>
<text x="232.9" y="244.6" font-size="5.4" text-anchor="middle" font-weight="normal" fill="#1a1a1a" stroke="#1a1a1a" stroke-width="0.15">100</text>
<line x1="232.9" y1="233.3" x2="232.9" y2="234.7" stroke="#666" stroke-width="0.6"/>
<text x="245.5" y="244.6" font-size="5.4" text-anchor="middle" font-weight="normal" fill="#1a1a1a" stroke="#1a1a1a" stroke-width="0.15">150</text>
<line x1="245.5" y1="233.3" x2="245.5" y2="234.7" stroke="#666" stroke-width="0.6"/>
<text x="258.3" y="244.6" font-size="5.4" text-anchor="middle" font-weight="normal" fill="#1a1a1a" stroke="#1a1a1a" stroke-width="0.15">200</text>
<line x1="258.3" y1="233.3" x2="258.3" y2="234.7" stroke="#666" stroke-width="0.6"/>
<text x="272.7" y="244.6" font-size="5.4" text-anchor="middle" font-weight="normal" fill="#1a1a1a" stroke="#1a1a1a" stroke-width="0.15">250</text>
<line x1="272.7" y1="233.3" x2="272.7" y2="234.7" stroke="#666" stroke-width="0.6"/>
<text x="278.5" y="254.1" font-size="5.6" text-anchor="end" font-weight="normal" fill="#1a1a1a" stroke="#1a1a1a" stroke-width="0.15">(x 1,000)</text>
<rect x="208.1" y="211.2" width="13.2" height="19.9" fill="#eef2fc" stroke="none" stroke-width="0"/>
<rect x="221.3" y="211.2" width="18.3" height="10.1" fill="#fefaf7" stroke="none" stroke-width="0"/>
<rect x="208.1" y="188.1" width="31.5" height="23.1" fill="#fbfcfa" stroke="none" stroke-width="0"/>
<defs><radialGradient id="g380G"><stop offset="0" stop-color="#1d4812" stop-opacity="0.95"/><stop offset="0.5" stop-color="#3c7229" stop-opacity="0.7"/><stop offset="1" stop-color="#8fb47a" stop-opacity="0"/></radialGradient><radialGradient id="g380B"><stop offset="0" stop-color="#1638c0" stop-opacity="1"/><stop offset="0.55" stop-color="#2a5ae6" stop-opacity="0.85"/><stop offset="1" stop-color="#7fa2f0" stop-opacity="0.15"/></radialGradient></defs>
<ellipse cx="220" cy="198.6" rx="13.65" ry="5.88" fill="url(#g380G)" transform="rotate(-35 220 198.6)"/>
<path d="M209.13 210.45h.8v.8h-.8zM218.9 207.89h.8v.8h-.8zM236.28 188.81h.8v.8h-.8zM208.65 199.26h.8v.8h-.8zM229.62 199.74h.8v.8h-.8zM216.76 208.6h.8v.8h-.8zM232.24 197.4h.8v.8h-.8zM235.26 195.89h.8v.8h-.8zM233.93 189.06h.8v.8h-.8zM210.52 195.61h.8v.8h-.8zM218.63 189.23h.8v.8h-.8zM229.26 204.13h.8v.8h-.8zM234 190.92h.8v.8h-.8zM234.45 197.45h.8v.8h-.8zM238.79 190.59h.8v.8h-.8zM235.45 192.68h.8v.8h-.8zM235.95 191.45h.8v.8h-.8zM215.65 209.47h.8v.8h-.8zM235.04 192.89h.8v.8h-.8zM224.29 208.22h.8v.8h-.8zM226.74 206.74h.8v.8h-.8zM211.96 194.28h.8v.8h-.8zM235.31 190.43h.8v.8h-.8zM214.33 193.55h.8v.8h-.8zM220.76 189.33h.8v.8h-.8zM234.31 194.35h.8v.8h-.8zM212.32 190.49h.8v.8h-.8zM218.86 193.66h.8v.8h-.8zM215.4 209.57h.8v.8h-.8zM219.14 199.58h.8v.8h-.8zM221.25 204.08h.8v.8h-.8zM220.15 200.93h.8v.8h-.8zM219.8 203.96h.8v.8h-.8zM220.62 208.92h.8v.8h-.8zM219.94 198.71h.8v.8h-.8zM219.11 202h.8v.8h-.8zM214.1 197.74h.8v.8h-.8zM226.16 195.88h.8v.8h-.8zM220.83 201.85h.8v.8h-.8zM237.93 203.61h.8v.8h-.8zM218.7 209.31h.8v.8h-.8zM234.22 193.12h.8v.8h-.8zM220.31 200.92h.8v.8h-.8zM237.66 199.08h.8v.8h-.8zM223.07 195.1h.8v.8h-.8zM221.92 203.7h.8v.8h-.8zM238.82 204.18h.8v.8h-.8zM223.11 196.06h.8v.8h-.8zM221.42 200.97h.8v.8h-.8z" fill="#86b06c" opacity="0.7"/>
<path d="M229.57 194h.8v.8h-.8zM227.08 199.57h.8v.8h-.8zM218.82 205.47h.8v.8h-.8zM219.82 191.34h.8v.8h-.8zM223.42 202.68h.8v.8h-.8zM210.62 209.27h.8v.8h-.8zM227.37 198.13h.8v.8h-.8zM231.97 192.02h.8v.8h-.8zM217.9 193.63h.8v.8h-.8zM213.56 196.84h.8v.8h-.8zM211.29 202.06h.8v.8h-.8zM209.3 207.28h.8v.8h-.8zM232.49 192.72h.8v.8h-.8zM213.63 207.9h.8v.8h-.8zM228.87 193.17h.8v.8h-.8zM233.75 192.04h.8v.8h-.8zM223.6 201.76h.8v.8h-.8zM215.41 206.51h.8v.8h-.8zM230.28 189.2h.8v.8h-.8zM209.03 205.61h.8v.8h-.8zM230.71 195.36h.8v.8h-.8zM211.89 205.49h.8v.8h-.8zM225.07 189.26h.8v.8h-.8zM230.08 198.93h.8v.8h-.8zM221.8 189.94h.8v.8h-.8zM224.14 201.62h.8v.8h-.8zM222.89 204.18h.8v.8h-.8zM222.5 192.07h.8v.8h-.8zM231.52 194.24h.8v.8h-.8zM217.35 194.8h.8v.8h-.8zM230.79 190.15h.8v.8h-.8zM216.63 206.01h.8v.8h-.8zM230.38 190.02h.8v.8h-.8zM223.7 202.58h.8v.8h-.8zM216.86 205.16h.8v.8h-.8zM210.46 205.22h.8v.8h-.8zM226.43 199.06h.8v.8h-.8zM215.54 195.48h.8v.8h-.8zM218.21 205.17h.8v.8h-.8zM229.62 195.79h.8v.8h-.8zM218.54 193.78h.8v.8h-.8zM211.24 200.91h.8v.8h-.8zM211.74 206.19h.8v.8h-.8zM231.83 193.58h.8v.8h-.8zM229.97 198.11h.8v.8h-.8zM214.44 205.91h.8v.8h-.8zM211.45 200.41h.8v.8h-.8zM216.03 195.14h.8v.8h-.8zM225.71 199.83h.8v.8h-.8zM214.54 206.09h.8v.8h-.8zM213.86 196.11h.8v.8h-.8zM233.1 192.93h.8v.8h-.8zM225.38 189.46h.8v.8h-.8zM220.2 203.76h.8v.8h-.8zM229.07 191.18h.8v.8h-.8zM211.43 205.53h.8v.8h-.8zM225.41 200.41h.8v.8h-.8zM210.4 202.21h.8v.8h-.8zM216.63 193.7h.8v.8h-.8zM214.91 195.14h.8v.8h-.8zM226.39 189.75h.8v.8h-.8zM228.2 197.49h.8v.8h-.8zM211.88 197.34h.8v.8h-.8zM208.69 204.01h.8v.8h-.8zM209.31 200.75h.8v.8h-.8zM220.09 190.67h.8v.8h-.8zM210.39 205.21h.8v.8h-.8zM208.85 207.39h.8v.8h-.8zM217.93 193.22h.8v.8h-.8zM211.27 198h.8v.8h-.8zM211.15 204.23h.8v.8h-.8zM228.79 193.05h.8v.8h-.8zM210.73 205.07h.8v.8h-.8zM217.33 208.12h.8v.8h-.8zM216.22 203.32h.8v.8h-.8zM216.21 199.31h.8v.8h-.8zM213.03 204.08h.8v.8h-.8zM219.06 204.11h.8v.8h-.8zM210.49 205.12h.8v.8h-.8zM216.53 207.09h.8v.8h-.8zM215.17 202.14h.8v.8h-.8zM216.93 201.91h.8v.8h-.8zM210.98 207.13h.8v.8h-.8zM211.05 207.53h.8v.8h-.8zM213.78 205.35h.8v.8h-.8zM214.01 207.42h.8v.8h-.8zM211.18 203.81h.8v.8h-.8zM213.74 202.64h.8v.8h-.8zM213.47 199.27h.8v.8h-.8zM213.69 205.34h.8v.8h-.8zM216.03 202.99h.8v.8h-.8zM210.07 204.69h.8v.8h-.8zM217.34 203.5h.8v.8h-.8zM211.95 200.94h.8v.8h-.8zM209.92 202.46h.8v.8h-.8zM215.28 206.24h.8v.8h-.8zM210.93 204.06h.8v.8h-.8zM211.73 204.74h.8v.8h-.8zM214.67 205.77h.8v.8h-.8zM212.96 205.59h.8v.8h-.8zM214.23 207.36h.8v.8h-.8zM213.99 199.51h.8v.8h-.8zM222.94 205.19h.8v.8h-.8zM225.23 205.22h.8v.8h-.8zM233.33 203.56h.8v.8h-.8zM231.95 201.47h.8v.8h-.8zM231.63 199.31h.8v.8h-.8zM228.42 205.8h.8v.8h-.8zM223.91 205.25h.8v.8h-.8zM229.85 201.24h.8v.8h-.8zM234.21 198.5h.8v.8h-.8zM228.91 201.95h.8v.8h-.8zM233.32 201.33h.8v.8h-.8zM231.6 203.86h.8v.8h-.8zM225.99 198.58h.8v.8h-.8zM232.07 204.78h.8v.8h-.8zM230.69 203.26h.8v.8h-.8zM225.85 204.33h.8v.8h-.8zM228.32 201.56h.8v.8h-.8z" fill="#3e7a2a" opacity="0.6"/>
<path d="M219.22 201.68h.8v.8h-.8zM217.52 198.77h.8v.8h-.8zM212.32 202.92h.8v.8h-.8zM228.58 193.82h.8v.8h-.8zM223.48 197.08h.8v.8h-.8zM225.07 197.52h.8v.8h-.8zM212.04 201.85h.8v.8h-.8zM222.25 196.8h.8v.8h-.8zM222.53 193.65h.8v.8h-.8zM223.3 198.24h.8v.8h-.8zM213.49 199.49h.8v.8h-.8zM217.1 200.11h.8v.8h-.8zM225.46 196.01h.8v.8h-.8zM214.32 197.84h.8v.8h-.8zM214.33 203.78h.8v.8h-.8zM217.28 196.46h.8v.8h-.8zM223.7 195.7h.8v.8h-.8zM223.33 193.24h.8v.8h-.8zM221.04 194.22h.8v.8h-.8zM222.91 198.72h.8v.8h-.8zM225.28 197.62h.8v.8h-.8zM228.61 195.2h.8v.8h-.8zM220.95 202.99h.8v.8h-.8zM223.91 195.12h.8v.8h-.8zM224.02 199h.8v.8h-.8zM213.93 200.8h.8v.8h-.8zM228.1 193.06h.8v.8h-.8zM218.16 198.41h.8v.8h-.8zM215.39 204.95h.8v.8h-.8zM223 197.21h.8v.8h-.8zM222.52 199.69h.8v.8h-.8zM219.29 200.48h.8v.8h-.8zM224.42 195.51h.8v.8h-.8zM227.22 196.35h.8v.8h-.8zM215.83 199.67h.8v.8h-.8zM222.05 201.74h.8v.8h-.8zM218.3 201.7h.8v.8h-.8zM223.63 197.24h.8v.8h-.8zM218.2 203.11h.8v.8h-.8zM220.96 195.34h.8v.8h-.8zM215.49 201.27h.8v.8h-.8zM218.11 199.61h.8v.8h-.8zM221.71 202.13h.8v.8h-.8zM218.82 202.52h.8v.8h-.8zM219.29 200.04h.8v.8h-.8zM226.48 194.76h.8v.8h-.8zM227.41 191.95h.8v.8h-.8zM226.44 192.77h.8v.8h-.8zM222.66 200.23h.8v.8h-.8zM223.2 199.52h.8v.8h-.8zM227.21 192.67h.8v.8h-.8zM217.85 197.12h.8v.8h-.8zM224.04 197.8h.8v.8h-.8zM221.18 198.39h.8v.8h-.8zM221.02 194.85h.8v.8h-.8zM221.86 201.42h.8v.8h-.8zM221.95 202.39h.8v.8h-.8zM218.45 199.54h.8v.8h-.8zM215.98 202.57h.8v.8h-.8zM221.93 201.24h.8v.8h-.8zM225.81 191.73h.8v.8h-.8zM224.95 193.77h.8v.8h-.8zM221.18 195.5h.8v.8h-.8zM227.76 196.87h.8v.8h-.8zM225.9 196.08h.8v.8h-.8zM216.61 198.64h.8v.8h-.8zM226.43 198.57h.8v.8h-.8zM212.8 203.2h.8v.8h-.8zM224.18 199.76h.8v.8h-.8zM219.28 198.14h.8v.8h-.8zM211.32 202.9h.8v.8h-.8zM227.12 194.12h.8v.8h-.8zM225.92 196.84h.8v.8h-.8zM220.7 200.7h.8v.8h-.8zM220.87 194.51h.8v.8h-.8zM222.68 197.64h.8v.8h-.8zM214.65 197.51h.8v.8h-.8zM213.87 204.18h.8v.8h-.8zM220.76 200.66h.8v.8h-.8zM214.09 202.12h.8v.8h-.8zM224.42 197.37h.8v.8h-.8zM225.41 195.85h.8v.8h-.8zM219.34 202.98h.8v.8h-.8zM218.46 195.59h.8v.8h-.8zM215.17 201.98h.8v.8h-.8zM219.52 199.71h.8v.8h-.8zM220.41 199.19h.8v.8h-.8zM222.91 195.62h.8v.8h-.8zM221.2 192.97h.8v.8h-.8zM215.32 204.46h.8v.8h-.8zM224.25 196.5h.8v.8h-.8zM221.23 200.7h.8v.8h-.8zM220.55 201.83h.8v.8h-.8zM226.72 198.4h.8v.8h-.8zM219.39 203.36h.8v.8h-.8zM227.58 193.32h.8v.8h-.8zM226.1 194.45h.8v.8h-.8zM227.85 195.78h.8v.8h-.8zM221.72 197.67h.8v.8h-.8zM219.72 202.2h.8v.8h-.8zM216.05 204.18h.8v.8h-.8zM224.25 195.36h.8v.8h-.8zM220.83 199.26h.8v.8h-.8zM226.53 197.51h.8v.8h-.8zM219.39 199.06h.8v.8h-.8zM217.74 198.64h.8v.8h-.8zM217.74 196.41h.8v.8h-.8zM226.24 195.99h.8v.8h-.8zM217.76 196.84h.8v.8h-.8zM212.51 204.03h.8v.8h-.8zM217.33 198.91h.8v.8h-.8zM224.98 198.15h.8v.8h-.8zM217.74 195.97h.8v.8h-.8zM218.73 199.16h.8v.8h-.8zM226.36 195.61h.8v.8h-.8zM215.4 198.15h.8v.8h-.8zM216.45 201.61h.8v.8h-.8zM223.08 194.4h.8v.8h-.8z" fill="#1b4411" opacity="0.7"/>
<ellipse cx="214" cy="221.5" rx="6.4" ry="8.4" fill="url(#g380B)"/>
<path d="M212.76 226.37h.8v.8h-.8zM218.9 219.8h.8v.8h-.8zM216.98 218h.8v.8h-.8zM214.25 224.96h.8v.8h-.8zM219.33 219.73h.8v.8h-.8zM213.74 222.41h.8v.8h-.8zM208.73 221.57h.8v.8h-.8zM211.62 223.22h.8v.8h-.8zM210.02 212.37h.8v.8h-.8zM214.13 222.7h.8v.8h-.8zM212.07 225.61h.8v.8h-.8zM213.04 218.7h.8v.8h-.8zM215.68 214.25h.8v.8h-.8zM211.62 221.4h.8v.8h-.8zM216.99 220.75h.8v.8h-.8zM215.09 218.47h.8v.8h-.8zM215.06 229.19h.8v.8h-.8zM211.73 221.58h.8v.8h-.8zM214.61 226.23h.8v.8h-.8zM209.65 211.8h.8v.8h-.8zM216.13 225.17h.8v.8h-.8zM214.72 222.67h.8v.8h-.8zM217.27 223.2h.8v.8h-.8zM219.86 215.78h.8v.8h-.8zM216.86 219.78h.8v.8h-.8zM213.98 220.32h.8v.8h-.8zM212.24 217.63h.8v.8h-.8zM211.78 224.45h.8v.8h-.8zM214.13 221.81h.8v.8h-.8zM213.39 225.72h.8v.8h-.8zM215.74 220.84h.8v.8h-.8zM216.34 220.8h.8v.8h-.8zM209.94 228.22h.8v.8h-.8zM215.64 217.08h.8v.8h-.8zM217.8 223.09h.8v.8h-.8zM215.17 225.62h.8v.8h-.8zM214.7 220.81h.8v.8h-.8zM214.11 220.18h.8v.8h-.8zM215.24 221.86h.8v.8h-.8zM216.38 219.79h.8v.8h-.8zM212.51 224.62h.8v.8h-.8zM218.71 219.82h.8v.8h-.8zM213.57 228.82h.8v.8h-.8zM212.85 224.89h.8v.8h-.8zM219.91 221.68h.8v.8h-.8zM218.32 218.22h.8v.8h-.8zM214.73 221.14h.8v.8h-.8zM214.4 226.72h.8v.8h-.8zM211.98 223.8h.8v.8h-.8zM210.29 223.8h.8v.8h-.8zM216.01 220.22h.8v.8h-.8zM215.87 214.34h.8v.8h-.8zM216.67 214.36h.8v.8h-.8zM211.55 218.93h.8v.8h-.8zM212.59 225.47h.8v.8h-.8zM214.29 219.66h.8v.8h-.8zM215.91 228.81h.8v.8h-.8zM214.02 223.19h.8v.8h-.8zM218.36 222.74h.8v.8h-.8zM213.86 223.43h.8v.8h-.8zM217.4 224.59h.8v.8h-.8zM213.04 216.63h.8v.8h-.8zM214.36 226.27h.8v.8h-.8zM210.16 216.75h.8v.8h-.8zM213.91 212.55h.8v.8h-.8zM213.08 219.48h.8v.8h-.8zM215.59 218.26h.8v.8h-.8zM210.89 219.68h.8v.8h-.8zM213.82 218.43h.8v.8h-.8zM214.04 224.97h.8v.8h-.8zM218.17 229.38h.8v.8h-.8zM211.24 219.56h.8v.8h-.8zM211.45 221.35h.8v.8h-.8zM215.84 215.22h.8v.8h-.8zM215.63 221.38h.8v.8h-.8zM218.2 212.87h.8v.8h-.8zM216.84 222.47h.8v.8h-.8zM215.67 223.54h.8v.8h-.8zM218.59 220.47h.8v.8h-.8zM217.08 219.61h.8v.8h-.8zM216.56 217.74h.8v.8h-.8zM213.62 229.5h.8v.8h-.8zM215.57 220.77h.8v.8h-.8zM209.97 217.85h.8v.8h-.8zM214.68 225.84h.8v.8h-.8zM215.5 223.92h.8v.8h-.8zM213.85 227.75h.8v.8h-.8zM212.62 218.96h.8v.8h-.8zM217.13 221.79h.8v.8h-.8zM213.02 218.84h.8v.8h-.8zM213.1 224.38h.8v.8h-.8zM215.25 215.91h.8v.8h-.8zM215.5 222.33h.8v.8h-.8zM210.48 225.07h.8v.8h-.8zM213.01 219.95h.8v.8h-.8zM216.8 227.6h.8v.8h-.8zM211.58 223.52h.8v.8h-.8zM212.26 227.02h.8v.8h-.8zM211.72 225.25h.8v.8h-.8zM212.47 223.81h.8v.8h-.8zM213.67 218.41h.8v.8h-.8zM211.97 222.17h.8v.8h-.8zM218.44 222.04h.8v.8h-.8zM209.1 213.66h.8v.8h-.8zM218.16 224.92h.8v.8h-.8zM211.13 225.47h.8v.8h-.8zM215.75 224.49h.8v.8h-.8zM217.17 224.89h.8v.8h-.8zM214.6 223.77h.8v.8h-.8zM212.84 221.67h.8v.8h-.8zM217.12 219.45h.8v.8h-.8zM218.04 217.86h.8v.8h-.8zM214.94 219.06h.8v.8h-.8zM214.56 218.31h.8v.8h-.8zM215.07 218.92h.8v.8h-.8zM214.71 226.07h.8v.8h-.8zM210.56 220.99h.8v.8h-.8zM215.9 223.93h.8v.8h-.8zM212.82 211.77h.8v.8h-.8zM218.38 223.02h.8v.8h-.8zM214.05 220.21h.8v.8h-.8zM214.93 219.53h.8v.8h-.8zM210.39 218.08h.8v.8h-.8zM211.9 218.67h.8v.8h-.8zM209.92 224.44h.8v.8h-.8zM209.39 224.55h.8v.8h-.8zM210.43 223.13h.8v.8h-.8zM218.84 222.44h.8v.8h-.8zM211.43 221.72h.8v.8h-.8zM214.52 213.49h.8v.8h-.8zM211.86 222.25h.8v.8h-.8zM212.35 221.87h.8v.8h-.8zM216.58 225.04h.8v.8h-.8zM217.19 224.22h.8v.8h-.8zM212.99 221.41h.8v.8h-.8zM213.05 220.05h.8v.8h-.8zM213.37 213.53h.8v.8h-.8zM212.83 221.39h.8v.8h-.8zM210.57 221.39h.8v.8h-.8zM215.81 220.74h.8v.8h-.8zM213.27 213.07h.8v.8h-.8zM215.83 220.1h.8v.8h-.8zM217 223.22h.8v.8h-.8zM214.08 218.79h.8v.8h-.8zM216.25 219.26h.8v.8h-.8zM214.79 219.14h.8v.8h-.8zM214.71 224.99h.8v.8h-.8zM210.92 221.35h.8v.8h-.8zM216.17 222.17h.8v.8h-.8zM210.8 212.63h.8v.8h-.8zM217.02 228.57h.8v.8h-.8zM217.25 225.26h.8v.8h-.8zM211.82 218.2h.8v.8h-.8zM217.13 217.29h.8v.8h-.8zM211.58 218.13h.8v.8h-.8zM214.81 218.04h.8v.8h-.8zM218.61 221.14h.8v.8h-.8zM210.18 227.55h.8v.8h-.8zM211.95 222.52h.8v.8h-.8zM213.96 220.05h.8v.8h-.8zM215.14 218.3h.8v.8h-.8zM209.54 218h.8v.8h-.8zM213.92 221.76h.8v.8h-.8zM215.96 222.05h.8v.8h-.8zM211.21 218.22h.8v.8h-.8zM215.71 223.95h.8v.8h-.8zM213.57 220.7h.8v.8h-.8zM217.3 221.57h.8v.8h-.8zM216.6 224.19h.8v.8h-.8z" fill="#1d44c8" opacity="0.55"/>
<rect x="208.5" y="188.5" width="31" height="23" fill="none" stroke="#7a7a7a" stroke-width="0.85"/>
<rect x="208.5" y="211.5" width="13" height="20" fill="none" stroke="#7a7a7a" stroke-width="0.85"/>
<rect x="221.5" y="211.5" width="18" height="10" fill="none" stroke="#7a7a7a" stroke-width="0.85"/>
<text x="224.5" y="200.8" font-size="3.4" text-anchor="middle" font-weight="normal" fill="#10200c" stroke="#10200c" stroke-width="0.09" textLength="11.23" lengthAdjust="spacingAndGlyphs">S phase</text>
<text x="214" y="222.7" font-size="3.4" text-anchor="middle" font-weight="normal" fill="#0a1440" stroke="#0a1440" stroke-width="0.09" textLength="9.01" lengthAdjust="spacingAndGlyphs">G0/G1</text>
<text x="230.45" y="217.85" font-size="4.3" text-anchor="middle" font-weight="normal" fill="#7a4a2e" stroke="#7a4a2e" stroke-width="0.12">G2/M</text>
<text x="245" y="197.8" font-size="5.6" text-anchor="start" font-weight="normal" fill="#1a1a1a" stroke="#1a1a1a" stroke-width="0.15">S: 33.1%</text>
<rect x="299.5" y="176.5" width="74" height="57" fill="none" stroke="#707070" stroke-width="0.85"/>
<text x="293.8" y="185.7" font-size="5.2" text-anchor="end" fill="#1a1a1a">10<tspan font-size="3.8" dy="-2.1">5</tspan></text>
<line x1="298" y1="183.8" x2="299.6" y2="183.8" stroke="#666" stroke-width="0.6"/>
<text x="293.8" y="199.6" font-size="5.2" text-anchor="end" fill="#1a1a1a">10<tspan font-size="3.8" dy="-2.1">4</tspan></text>
<line x1="298" y1="197.7" x2="299.6" y2="197.7" stroke="#666" stroke-width="0.6"/>
<text x="293.8" y="213.4" font-size="5.2" text-anchor="end" fill="#1a1a1a">10<tspan font-size="3.8" dy="-2.1">3</tspan></text>
<line x1="298" y1="211.5" x2="299.6" y2="211.5" stroke="#666" stroke-width="0.6"/>
<text x="293.8" y="227.7" font-size="5.2" text-anchor="end" fill="#1a1a1a">10<tspan font-size="3.8" dy="-2.1">2</tspan></text>
<line x1="298" y1="225.8" x2="299.6" y2="225.8" stroke="#666" stroke-width="0.6"/>
<text x="314.4" y="244.6" font-size="5.4" text-anchor="middle" font-weight="normal" fill="#1a1a1a" stroke="#1a1a1a" stroke-width="0.15">50</text>
<line x1="314.4" y1="233.3" x2="314.4" y2="234.7" stroke="#666" stroke-width="0.6"/>
<text x="328.8" y="244.6" font-size="5.4" text-anchor="middle" font-weight="normal" fill="#1a1a1a" stroke="#1a1a1a" stroke-width="0.15">100</text>
<line x1="328.8" y1="233.3" x2="328.8" y2="234.7" stroke="#666" stroke-width="0.6"/>
<text x="341.4" y="244.6" font-size="5.4" text-anchor="middle" font-weight="normal" fill="#1a1a1a" stroke="#1a1a1a" stroke-width="0.15">150</text>
<line x1="341.4" y1="233.3" x2="341.4" y2="234.7" stroke="#666" stroke-width="0.6"/>
<text x="354.2" y="244.6" font-size="5.4" text-anchor="middle" font-weight="normal" fill="#1a1a1a" stroke="#1a1a1a" stroke-width="0.15">200</text>
<line x1="354.2" y1="233.3" x2="354.2" y2="234.7" stroke="#666" stroke-width="0.6"/>
<text x="368.6" y="244.6" font-size="5.4" text-anchor="middle" font-weight="normal" fill="#1a1a1a" stroke="#1a1a1a" stroke-width="0.15">250</text>
<line x1="368.6" y1="233.3" x2="368.6" y2="234.7" stroke="#666" stroke-width="0.6"/>
<text x="374.5" y="254.1" font-size="5.6" text-anchor="end" font-weight="normal" fill="#1a1a1a" stroke="#1a1a1a" stroke-width="0.15">(x 1,000)</text>
<rect x="304" y="211.1" width="12.5" height="20" fill="#eef2fc" stroke="none" stroke-width="0"/>
<rect x="316.5" y="211.1" width="19.1" height="10" fill="#fefaf7" stroke="none" stroke-width="0"/>
<rect x="304" y="188.2" width="31.6" height="22.9" fill="#fbfcfa" stroke="none" stroke-width="0"/>
<defs><radialGradient id="g476G"><stop offset="0" stop-color="#1d4812" stop-opacity="0.95"/><stop offset="0.5" stop-color="#3c7229" stop-opacity="0.7"/><stop offset="1" stop-color="#8fb47a" stop-opacity="0"/></radialGradient><radialGradient id="g476B"><stop offset="0" stop-color="#1638c0" stop-opacity="1"/><stop offset="0.55" stop-color="#2a5ae6" stop-opacity="0.85"/><stop offset="1" stop-color="#7fa2f0" stop-opacity="0.15"/></radialGradient></defs>
<ellipse cx="317" cy="197.6" rx="13.65" ry="5.88" fill="url(#g476G)" transform="rotate(-30 317 197.6)"/>
<path d="M333.27 196.45h.8v.8h-.8zM321.56 205.11h.8v.8h-.8zM331.5 192.15h.8v.8h-.8zM334.62 190.38h.8v.8h-.8zM332.89 188.79h.8v.8h-.8zM307.98 194.29h.8v.8h-.8zM311.36 189.58h.8v.8h-.8zM322.63 204.56h.8v.8h-.8zM308 194.04h.8v.8h-.8zM334.94 192.08h.8v.8h-.8zM334.61 194.13h.8v.8h-.8zM309.99 208.19h.8v.8h-.8zM333.67 191.77h.8v.8h-.8zM311.3 208.14h.8v.8h-.8zM320.56 206.77h.8v.8h-.8zM331.3 193.36h.8v.8h-.8zM308.95 194.46h.8v.8h-.8zM307.6 209.72h.8v.8h-.8zM329.04 198.12h.8v.8h-.8zM308.7 193.75h.8v.8h-.8zM307.5 208h.8v.8h-.8zM309.96 192.15h.8v.8h-.8zM327.57 198.43h.8v.8h-.8zM323.43 202.16h.8v.8h-.8zM325.33 204.73h.8v.8h-.8zM332.68 191.64h.8v.8h-.8zM329.74 197.07h.8v.8h-.8zM329.2 199.15h.8v.8h-.8zM304.78 196h.8v.8h-.8zM316.93 188.94h.8v.8h-.8zM332.79 188.85h.8v.8h-.8zM305.71 196.38h.8v.8h-.8zM304.95 194.66h.8v.8h-.8zM311.85 208.49h.8v.8h-.8zM305.87 197.17h.8v.8h-.8zM304.87 198.45h.8v.8h-.8zM306.13 196.95h.8v.8h-.8zM317.6 203.2h.8v.8h-.8zM318.47 207.62h.8v.8h-.8zM318.13 205.32h.8v.8h-.8zM309.06 194.67h.8v.8h-.8zM306.28 198.06h.8v.8h-.8zM317.28 203.58h.8v.8h-.8zM308.37 209.52h.8v.8h-.8zM315.35 210.47h.8v.8h-.8zM307.17 207.21h.8v.8h-.8zM304.94 205.46h.8v.8h-.8zM315.77 209.14h.8v.8h-.8zM306.91 207.74h.8v.8h-.8zM305.24 208.03h.8v.8h-.8zM318.17 200.41h.8v.8h-.8zM321.91 207.37h.8v.8h-.8zM308.64 195.2h.8v.8h-.8zM308.07 208.16h.8v.8h-.8zM319.12 201.84h.8v.8h-.8zM306.28 207.62h.8v.8h-.8zM305.89 205.71h.8v.8h-.8zM314.66 194.68h.8v.8h-.8zM318.94 205.16h.8v.8h-.8zM314.31 194.91h.8v.8h-.8zM315.69 196.65h.8v.8h-.8zM307.16 194.17h.8v.8h-.8zM313.22 209.9h.8v.8h-.8zM305.88 198.93h.8v.8h-.8zM325.71 210.46h.8v.8h-.8zM334.96 206.82h.8v.8h-.8zM315.15 196.81h.8v.8h-.8zM318.35 202.99h.8v.8h-.8zM329.8 209.15h.8v.8h-.8zM321.13 206.97h.8v.8h-.8zM332.45 206.44h.8v.8h-.8zM332.25 190.15h.8v.8h-.8zM315.02 198.38h.8v.8h-.8zM312.41 205.19h.8v.8h-.8z" fill="#86b06c" opacity="0.7"/>
<path d="M321.39 201.19h.8v.8h-.8zM308.79 198.6h.8v.8h-.8zM328.23 194.9h.8v.8h-.8zM328.93 191.2h.8v.8h-.8zM327.35 193.2h.8v.8h-.8zM327.5 192h.8v.8h-.8zM323.12 200.16h.8v.8h-.8zM305.19 204.12h.8v.8h-.8zM316.51 190.61h.8v.8h-.8zM314.45 193.83h.8v.8h-.8zM314.31 194.01h.8v.8h-.8zM312.95 206.64h.8v.8h-.8zM316.98 192.07h.8v.8h-.8zM318.77 203.26h.8v.8h-.8zM306.17 198.58h.8v.8h-.8zM306.15 206.76h.8v.8h-.8zM322.45 200.81h.8v.8h-.8zM310.23 195.29h.8v.8h-.8zM309.51 194.69h.8v.8h-.8zM328.08 193.72h.8v.8h-.8zM317.52 204.58h.8v.8h-.8zM325.88 191.23h.8v.8h-.8zM321.47 189.79h.8v.8h-.8zM305.41 207.43h.8v.8h-.8zM312.32 206.31h.8v.8h-.8zM326.54 192.24h.8v.8h-.8zM322.99 199.16h.8v.8h-.8zM311.74 195.4h.8v.8h-.8zM327.79 195.62h.8v.8h-.8zM323.44 190.67h.8v.8h-.8zM320.18 200.95h.8v.8h-.8zM314.29 192.4h.8v.8h-.8zM307.11 196.74h.8v.8h-.8zM315.93 192.11h.8v.8h-.8zM324.99 196.7h.8v.8h-.8zM329.51 189.2h.8v.8h-.8zM323.59 200.1h.8v.8h-.8zM311.41 195.65h.8v.8h-.8zM309.19 198.24h.8v.8h-.8zM326.13 197.29h.8v.8h-.8zM307.8 207.26h.8v.8h-.8zM315.79 191.1h.8v.8h-.8zM321.94 189.09h.8v.8h-.8zM309.61 197.86h.8v.8h-.8zM315.21 204.72h.8v.8h-.8zM316.46 190.65h.8v.8h-.8zM310.05 204h.8v.8h-.8zM324.56 199.47h.8v.8h-.8zM327.53 192.91h.8v.8h-.8zM325.3 190.74h.8v.8h-.8zM327.16 195.37h.8v.8h-.8zM305.16 203.93h.8v.8h-.8zM319.55 191.12h.8v.8h-.8zM323.06 201h.8v.8h-.8zM308.35 207.57h.8v.8h-.8zM307.41 206.61h.8v.8h-.8zM322.44 202.07h.8v.8h-.8zM325.37 190.65h.8v.8h-.8zM329.27 196.41h.8v.8h-.8zM318.55 190.51h.8v.8h-.8zM307.21 204.41h.8v.8h-.8zM312.28 205.66h.8v.8h-.8zM330.11 190.16h.8v.8h-.8zM316.21 203.13h.8v.8h-.8zM307.78 205.82h.8v.8h-.8zM321.94 202.82h.8v.8h-.8zM324.02 200.36h.8v.8h-.8zM307.56 203.35h.8v.8h-.8zM307.24 204.44h.8v.8h-.8zM307.25 198.17h.8v.8h-.8zM328.51 192.1h.8v.8h-.8zM307.47 202.74h.8v.8h-.8zM311.94 194.08h.8v.8h-.8zM312.54 204.14h.8v.8h-.8zM309.04 204.98h.8v.8h-.8zM316.27 203.96h.8v.8h-.8zM330.47 191.69h.8v.8h-.8zM323.04 190.24h.8v.8h-.8zM325.53 189.63h.8v.8h-.8zM324.97 189.53h.8v.8h-.8zM306.58 199.21h.8v.8h-.8zM310.79 195.23h.8v.8h-.8zM310.55 196.82h.8v.8h-.8zM327.84 193.39h.8v.8h-.8zM318.49 191.04h.8v.8h-.8zM325.93 191.8h.8v.8h-.8zM311.45 203.63h.8v.8h-.8zM311.57 203.6h.8v.8h-.8zM310.38 199.82h.8v.8h-.8zM310.71 200.21h.8v.8h-.8zM310.77 201.19h.8v.8h-.8zM310.87 202.36h.8v.8h-.8zM311.73 201.38h.8v.8h-.8zM309.48 203.13h.8v.8h-.8zM307.9 199.71h.8v.8h-.8zM307.7 201.53h.8v.8h-.8zM307.99 200.78h.8v.8h-.8zM312.25 199.68h.8v.8h-.8zM314.4 203.04h.8v.8h-.8zM307.87 201.48h.8v.8h-.8zM309.95 204.5h.8v.8h-.8zM313.89 201.68h.8v.8h-.8zM308.11 203.64h.8v.8h-.8zM327.67 196.56h.8v.8h-.8zM326.59 198.34h.8v.8h-.8zM331.29 197.93h.8v.8h-.8zM327.41 205.08h.8v.8h-.8zM320.27 205.52h.8v.8h-.8zM327.04 203.23h.8v.8h-.8zM331.61 201.91h.8v.8h-.8zM326.79 199.12h.8v.8h-.8zM321.63 199.32h.8v.8h-.8zM324.83 201.87h.8v.8h-.8zM330.46 197.63h.8v.8h-.8zM321.88 200.38h.8v.8h-.8zM327.11 196.74h.8v.8h-.8zM325.96 203.41h.8v.8h-.8zM327.11 205.05h.8v.8h-.8zM327.62 202.82h.8v.8h-.8zM327.78 201.01h.8v.8h-.8zM321.24 199.05h.8v.8h-.8z" fill="#3e7a2a" opacity="0.6"/>
<path d="M311.6 199.04h.8v.8h-.8zM318.34 199.49h.8v.8h-.8zM312.7 202.2h.8v.8h-.8zM309.27 200.4h.8v.8h-.8zM309.87 197.7h.8v.8h-.8zM312.84 201.93h.8v.8h-.8zM320.81 194.46h.8v.8h-.8zM317.8 194.46h.8v.8h-.8zM316.08 201.82h.8v.8h-.8zM318.53 198.9h.8v.8h-.8zM317.82 198.44h.8v.8h-.8zM313.92 195.8h.8v.8h-.8zM308.04 201.11h.8v.8h-.8zM322.26 193.85h.8v.8h-.8zM317.8 196.58h.8v.8h-.8zM318.1 200.4h.8v.8h-.8zM315.02 194.57h.8v.8h-.8zM321.08 192.38h.8v.8h-.8zM309.93 199.96h.8v.8h-.8zM318.55 197.57h.8v.8h-.8zM315.39 200.67h.8v.8h-.8zM319.45 196.43h.8v.8h-.8zM322.19 196.59h.8v.8h-.8zM319 197.25h.8v.8h-.8zM311.22 198.1h.8v.8h-.8zM320.54 196.81h.8v.8h-.8zM315.88 195.07h.8v.8h-.8zM315.33 203.03h.8v.8h-.8zM323.44 194.36h.8v.8h-.8zM313.47 202.68h.8v.8h-.8zM325.67 193.53h.8v.8h-.8zM311.12 200.22h.8v.8h-.8zM318.63 195.1h.8v.8h-.8zM318 194.43h.8v.8h-.8zM322.49 194.45h.8v.8h-.8zM317.19 200.68h.8v.8h-.8zM310.32 198.29h.8v.8h-.8zM311.53 203.49h.8v.8h-.8zM319.13 195.11h.8v.8h-.8zM318.11 196.27h.8v.8h-.8zM320.26 199.24h.8v.8h-.8zM314.26 202.58h.8v.8h-.8zM323.16 198.45h.8v.8h-.8zM320.53 193.28h.8v.8h-.8zM321.09 198.95h.8v.8h-.8zM320.66 197.74h.8v.8h-.8zM318.92 200.66h.8v.8h-.8zM312.04 200.08h.8v.8h-.8zM315.67 201.05h.8v.8h-.8zM324.65 195.94h.8v.8h-.8zM313.93 194.39h.8v.8h-.8zM322.2 196.58h.8v.8h-.8zM315.71 199.14h.8v.8h-.8zM323.07 191.38h.8v.8h-.8zM312.52 201.79h.8v.8h-.8zM325.18 195.7h.8v.8h-.8zM311.63 198.11h.8v.8h-.8zM309.51 198.6h.8v.8h-.8zM316.44 193.34h.8v.8h-.8zM315.83 199.54h.8v.8h-.8zM317.77 201.84h.8v.8h-.8zM325.65 193.02h.8v.8h-.8zM314.44 202.03h.8v.8h-.8zM313.49 201.66h.8v.8h-.8zM310.66 202.04h.8v.8h-.8zM312.66 199.38h.8v.8h-.8zM319.19 192.54h.8v.8h-.8zM319.52 193.16h.8v.8h-.8zM313.64 202.05h.8v.8h-.8zM312.9 201.31h.8v.8h-.8zM317.3 200.87h.8v.8h-.8zM311.2 197.2h.8v.8h-.8zM315.79 197.69h.8v.8h-.8zM312.27 197.38h.8v.8h-.8zM321.31 196.66h.8v.8h-.8zM315.28 200.81h.8v.8h-.8zM310.44 200.14h.8v.8h-.8zM318.55 199.26h.8v.8h-.8zM314.2 199.29h.8v.8h-.8zM312.77 200.58h.8v.8h-.8zM312.48 203.66h.8v.8h-.8zM319.94 195.45h.8v.8h-.8zM318.39 196.06h.8v.8h-.8zM321.24 200.01h.8v.8h-.8zM318.65 193.19h.8v.8h-.8zM319.07 192.19h.8v.8h-.8zM310.46 201.29h.8v.8h-.8zM315.08 202.29h.8v.8h-.8zM324.09 194.72h.8v.8h-.8zM322.35 194.63h.8v.8h-.8zM313.36 196.76h.8v.8h-.8zM316.36 195.81h.8v.8h-.8zM318.44 197.94h.8v.8h-.8zM311.01 197.33h.8v.8h-.8zM310.57 199.93h.8v.8h-.8zM316.27 202.67h.8v.8h-.8zM315.34 203.08h.8v.8h-.8zM321.23 195.73h.8v.8h-.8zM323.66 191.26h.8v.8h-.8zM325.22 193.26h.8v.8h-.8zM314.26 200.32h.8v.8h-.8zM312.42 197.69h.8v.8h-.8z" fill="#1b4411" opacity="0.7"/>
<ellipse cx="310" cy="220.5" rx="6.2" ry="8.2" fill="url(#g476B)"/>
<path d="M309.8 226.31h.8v.8h-.8zM304.59 211.77h.8v.8h-.8zM308.35 216.55h.8v.8h-.8zM308.09 221.35h.8v.8h-.8zM310.17 221.75h.8v.8h-.8zM309.88 224.7h.8v.8h-.8zM310.55 219.3h.8v.8h-.8zM311.21 213.59h.8v.8h-.8zM311.79 221.37h.8v.8h-.8zM308.73 217.09h.8v.8h-.8zM305.18 216.37h.8v.8h-.8zM312.38 222.95h.8v.8h-.8zM309.92 222.82h.8v.8h-.8zM307.94 220.82h.8v.8h-.8zM310.14 223h.8v.8h-.8zM309.76 219.85h.8v.8h-.8zM309.54 217.59h.8v.8h-.8zM314.78 213.48h.8v.8h-.8zM312.37 224.28h.8v.8h-.8zM312.63 215.19h.8v.8h-.8zM307.03 221.71h.8v.8h-.8zM311.72 215.89h.8v.8h-.8zM308.69 218.69h.8v.8h-.8zM310.21 222.02h.8v.8h-.8zM309.02 214.92h.8v.8h-.8zM314.24 227.7h.8v.8h-.8zM309.64 225.12h.8v.8h-.8zM311.51 223.48h.8v.8h-.8zM311.64 217.06h.8v.8h-.8zM311.96 225.06h.8v.8h-.8zM306.94 229.37h.8v.8h-.8zM308.85 217.79h.8v.8h-.8zM307.23 221.02h.8v.8h-.8zM309.89 223.52h.8v.8h-.8zM312.31 222.65h.8v.8h-.8zM310.93 219.56h.8v.8h-.8zM309.58 216.78h.8v.8h-.8zM310.61 220.39h.8v.8h-.8zM311.09 216.64h.8v.8h-.8zM310.13 220.72h.8v.8h-.8zM312.06 215.7h.8v.8h-.8zM311.43 224.93h.8v.8h-.8zM312.04 218.84h.8v.8h-.8zM308.32 219.43h.8v.8h-.8zM312.49 227.5h.8v.8h-.8zM309.46 217.6h.8v.8h-.8zM311.28 221.42h.8v.8h-.8zM306.9 217.17h.8v.8h-.8zM309.65 223.53h.8v.8h-.8zM305.93 215.91h.8v.8h-.8zM311.7 214.98h.8v.8h-.8zM310.37 222.09h.8v.8h-.8zM309.62 215.91h.8v.8h-.8zM309.8 219h.8v.8h-.8zM311.15 216.72h.8v.8h-.8zM313.72 212.94h.8v.8h-.8zM309.4 220.53h.8v.8h-.8zM313.28 217.76h.8v.8h-.8zM311.86 217.94h.8v.8h-.8zM312.52 228.34h.8v.8h-.8zM308.63 222.5h.8v.8h-.8zM306.84 224.89h.8v.8h-.8zM314.13 220.66h.8v.8h-.8zM306.13 222.31h.8v.8h-.8zM313.92 225.41h.8v.8h-.8zM312.77 212.24h.8v.8h-.8zM307.68 226.91h.8v.8h-.8zM305.82 225.6h.8v.8h-.8zM313.82 219h.8v.8h-.8zM305.82 220.04h.8v.8h-.8zM309.32 220.29h.8v.8h-.8zM312.38 219.85h.8v.8h-.8zM310.65 222.41h.8v.8h-.8zM309.98 228.81h.8v.8h-.8zM311.51 220.88h.8v.8h-.8zM309.29 217.68h.8v.8h-.8zM314.58 221.18h.8v.8h-.8zM306.32 217.96h.8v.8h-.8zM309.53 218.49h.8v.8h-.8zM313.7 215.26h.8v.8h-.8zM311.68 221.15h.8v.8h-.8zM305.98 220.71h.8v.8h-.8zM309.68 222.76h.8v.8h-.8zM308.47 221.87h.8v.8h-.8zM312.68 225.2h.8v.8h-.8zM309.96 217.8h.8v.8h-.8zM307.27 223.53h.8v.8h-.8zM312.23 215.84h.8v.8h-.8zM310.52 216.46h.8v.8h-.8zM310.19 224.57h.8v.8h-.8zM312.63 212.47h.8v.8h-.8zM313.89 222.3h.8v.8h-.8zM310.02 225.22h.8v.8h-.8zM307.82 217.32h.8v.8h-.8zM308.73 220.17h.8v.8h-.8zM306.31 222.68h.8v.8h-.8zM311.85 220.82h.8v.8h-.8zM315.8 219.02h.8v.8h-.8zM314.46 218.03h.8v.8h-.8zM312.58 211.77h.8v.8h-.8zM310.68 219.71h.8v.8h-.8zM308.31 217.75h.8v.8h-.8zM308.82 217.25h.8v.8h-.8zM308.13 218.14h.8v.8h-.8zM306.39 219.89h.8v.8h-.8zM312.68 219.37h.8v.8h-.8zM308.32 226.62h.8v.8h-.8zM313.33 224.66h.8v.8h-.8zM313.94 219.02h.8v.8h-.8zM309.56 225.52h.8v.8h-.8zM308.11 219.96h.8v.8h-.8zM311.29 222.18h.8v.8h-.8zM309.06 224.94h.8v.8h-.8zM309.39 223.77h.8v.8h-.8zM313.65 223.47h.8v.8h-.8zM312.5 215.27h.8v.8h-.8zM305.53 217.71h.8v.8h-.8zM311.62 227.27h.8v.8h-.8zM305.83 221.88h.8v.8h-.8zM307.09 217.2h.8v.8h-.8zM309.06 223.62h.8v.8h-.8zM310.73 225.82h.8v.8h-.8zM306.64 224.51h.8v.8h-.8zM313.17 220.81h.8v.8h-.8zM311.63 217.96h.8v.8h-.8zM306.28 218.67h.8v.8h-.8zM308.35 227.94h.8v.8h-.8zM310.69 221.91h.8v.8h-.8zM312.54 216.99h.8v.8h-.8zM313.13 222.2h.8v.8h-.8zM304.83 223.21h.8v.8h-.8zM311.88 222.54h.8v.8h-.8zM315.4 218.63h.8v.8h-.8zM311.75 223.87h.8v.8h-.8zM306.93 225.91h.8v.8h-.8zM305.05 214.64h.8v.8h-.8zM311.78 215.59h.8v.8h-.8zM309.6 213.08h.8v.8h-.8zM310.24 215.39h.8v.8h-.8zM311.17 213.59h.8v.8h-.8zM311.53 219.3h.8v.8h-.8zM310.22 220.2h.8v.8h-.8zM310.45 214.54h.8v.8h-.8zM306.81 218.45h.8v.8h-.8zM307.4 217.75h.8v.8h-.8zM306.39 221.97h.8v.8h-.8zM309.52 216.8h.8v.8h-.8zM306.64 224.14h.8v.8h-.8zM307.75 223.14h.8v.8h-.8zM311.53 211.96h.8v.8h-.8zM306.31 220.51h.8v.8h-.8zM311.17 224.02h.8v.8h-.8zM312.74 225.16h.8v.8h-.8zM308.73 219.55h.8v.8h-.8zM312.65 218.58h.8v.8h-.8zM313.6 213.33h.8v.8h-.8zM312.23 219.72h.8v.8h-.8zM311.06 220.59h.8v.8h-.8zM306.33 218.4h.8v.8h-.8zM315.16 216.77h.8v.8h-.8zM305.91 219.9h.8v.8h-.8zM308.66 216.39h.8v.8h-.8zM307.13 225.23h.8v.8h-.8zM305.08 229.32h.8v.8h-.8zM308.14 215.57h.8v.8h-.8zM312.68 223.04h.8v.8h-.8zM306.44 223.88h.8v.8h-.8zM313.84 219.35h.8v.8h-.8zM305.56 222.82h.8v.8h-.8zM313.13 220.4h.8v.8h-.8zM311.43 223.97h.8v.8h-.8zM308.35 220.33h.8v.8h-.8z" fill="#1d44c8" opacity="0.55"/>
<rect x="304.5" y="188.5" width="31" height="23" fill="none" stroke="#7a7a7a" stroke-width="0.85"/>
<rect x="304.5" y="211.5" width="12" height="20" fill="none" stroke="#7a7a7a" stroke-width="0.85"/>
<rect x="316.5" y="211.5" width="19" height="10" fill="none" stroke="#7a7a7a" stroke-width="0.85"/>
<text x="321.5" y="199.8" font-size="3.4" text-anchor="middle" font-weight="normal" fill="#10200c" stroke="#10200c" stroke-width="0.09" textLength="11.23" lengthAdjust="spacingAndGlyphs">S phase</text>
<text x="310" y="221.7" font-size="3.4" text-anchor="middle" font-weight="normal" fill="#0a1440" stroke="#0a1440" stroke-width="0.09" textLength="9.01" lengthAdjust="spacingAndGlyphs">G0/G1</text>
<text x="326.05" y="217.7" font-size="4.3" text-anchor="middle" font-weight="normal" fill="#7a4a2e" stroke="#7a4a2e" stroke-width="0.12">G2/M</text>
<text x="339.5" y="197.8" font-size="5.6" text-anchor="start" font-weight="normal" fill="#1a1a1a" stroke="#1a1a1a" stroke-width="0.15">S: 34.2%</text>
<rect x="203.5" y="260.5" width="73" height="58" fill="none" stroke="#707070" stroke-width="0.85"/>
<text x="197.9" y="269.5" font-size="5.2" text-anchor="end" fill="#1a1a1a">10<tspan font-size="3.8" dy="-2.1">5</tspan></text>
<line x1="202.1" y1="267.6" x2="203.7" y2="267.6" stroke="#666" stroke-width="0.6"/>
<text x="197.9" y="283.4" font-size="5.2" text-anchor="end" fill="#1a1a1a">10<tspan font-size="3.8" dy="-2.1">4</tspan></text>
<line x1="202.1" y1="281.5" x2="203.7" y2="281.5" stroke="#666" stroke-width="0.6"/>
<text x="197.9" y="297.2" font-size="5.2" text-anchor="end" fill="#1a1a1a">10<tspan font-size="3.8" dy="-2.1">3</tspan></text>
<line x1="202.1" y1="295.3" x2="203.7" y2="295.3" stroke="#666" stroke-width="0.6"/>
<text x="197.9" y="311.5" font-size="5.2" text-anchor="end" fill="#1a1a1a">10<tspan font-size="3.8" dy="-2.1">2</tspan></text>
<line x1="202.1" y1="309.6" x2="203.7" y2="309.6" stroke="#666" stroke-width="0.6"/>
<text x="218.5" y="328.9" font-size="5.4" text-anchor="middle" font-weight="normal" fill="#1a1a1a" stroke="#1a1a1a" stroke-width="0.15">50</text>
<line x1="218.5" y1="318.8" x2="218.5" y2="320.2" stroke="#666" stroke-width="0.6"/>
<text x="232.9" y="328.9" font-size="5.4" text-anchor="middle" font-weight="normal" fill="#1a1a1a" stroke="#1a1a1a" stroke-width="0.15">100</text>
<line x1="232.9" y1="318.8" x2="232.9" y2="320.2" stroke="#666" stroke-width="0.6"/>
<text x="245.5" y="328.9" font-size="5.4" text-anchor="middle" font-weight="normal" fill="#1a1a1a" stroke="#1a1a1a" stroke-width="0.15">150</text>
<line x1="245.5" y1="318.8" x2="245.5" y2="320.2" stroke="#666" stroke-width="0.6"/>
<text x="258.3" y="328.9" font-size="5.4" text-anchor="middle" font-weight="normal" fill="#1a1a1a" stroke="#1a1a1a" stroke-width="0.15">200</text>
<line x1="258.3" y1="318.8" x2="258.3" y2="320.2" stroke="#666" stroke-width="0.6"/>
<text x="272.7" y="328.9" font-size="5.4" text-anchor="middle" font-weight="normal" fill="#1a1a1a" stroke="#1a1a1a" stroke-width="0.15">250</text>
<line x1="272.7" y1="318.8" x2="272.7" y2="320.2" stroke="#666" stroke-width="0.6"/>
<text x="278.5" y="338.4" font-size="5.6" text-anchor="end" font-weight="normal" fill="#1a1a1a" stroke="#1a1a1a" stroke-width="0.15">(x 1,000)</text>
<rect x="208.1" y="295.6" width="16.5" height="20.2" fill="#e4ebfb" stroke="none" stroke-width="0"/>
<rect x="224.6" y="295.6" width="15" height="10.6" fill="#fbf1ea" stroke="none" stroke-width="0"/>
<rect x="208.1" y="272.4" width="31.5" height="23.2" fill="#fbfcfa" stroke="none" stroke-width="0"/>
<defs><radialGradient id="g464G"><stop offset="0" stop-color="#1d4812" stop-opacity="0.95"/><stop offset="0.5" stop-color="#3c7229" stop-opacity="0.7"/><stop offset="1" stop-color="#8fb47a" stop-opacity="0"/></radialGradient><radialGradient id="g464B"><stop offset="0" stop-color="#0e2a9a" stop-opacity="1"/><stop offset="0.55" stop-color="#2a5ae6" stop-opacity="0.85"/><stop offset="1" stop-color="#7fa2f0" stop-opacity="0.15"/></radialGradient></defs>
<ellipse cx="223" cy="281" rx="15.75" ry="6.3" fill="url(#g464G)" transform="rotate(-12 223 281)"/>
<path d="M215.76 291.28h.8v.8h-.8zM216.84 290.77h.8v.8h-.8zM238.4 283.54h.8v.8h-.8zM231.95 289.64h.8v.8h-.8zM233.77 286.49h.8v.8h-.8zM238.45 282.78h.8v.8h-.8zM230.79 288.9h.8v.8h-.8zM221 273.07h.8v.8h-.8zM219.87 273.31h.8v.8h-.8zM215.8 274.83h.8v.8h-.8zM218.04 290.86h.8v.8h-.8zM214.64 289.85h.8v.8h-.8zM233.52 285.56h.8v.8h-.8zM210.58 289.78h.8v.8h-.8zM211.53 276.25h.8v.8h-.8zM212.31 290.97h.8v.8h-.8zM213.06 275.58h.8v.8h-.8zM238.73 282.76h.8v.8h-.8zM214.3 275.34h.8v.8h-.8zM232.63 286.43h.8v.8h-.8zM229.61 288.81h.8v.8h-.8zM209.44 287.01h.8v.8h-.8zM209.01 286.2h.8v.8h-.8zM213.93 280.85h.8v.8h-.8zM217.98 275.86h.8v.8h-.8zM208.68 289.53h.8v.8h-.8zM215.12 278.06h.8v.8h-.8zM222.43 293.23h.8v.8h-.8zM222.7 291.17h.8v.8h-.8zM222.08 290.7h.8v.8h-.8zM222.71 286.29h.8v.8h-.8zM216.42 281.85h.8v.8h-.8zM217.37 294.39h.8v.8h-.8zM216.09 279.87h.8v.8h-.8zM220.06 294.47h.8v.8h-.8zM210.36 294.71h.8v.8h-.8zM226.81 277.14h.8v.8h-.8zM227.16 289.1h.8v.8h-.8zM220.83 294.65h.8v.8h-.8zM213.8 279.12h.8v.8h-.8zM231.42 290.27h.8v.8h-.8zM219.33 294.87h.8v.8h-.8zM220.97 294.59h.8v.8h-.8zM222.11 283.46h.8v.8h-.8zM210.58 291.73h.8v.8h-.8zM213.2 282.25h.8v.8h-.8zM209.84 286.9h.8v.8h-.8zM210.72 276.23h.8v.8h-.8zM221.67 283.25h.8v.8h-.8zM215.8 294.87h.8v.8h-.8zM237.6 281.65h.8v.8h-.8zM227.56 283.64h.8v.8h-.8zM216.28 280.28h.8v.8h-.8zM232.8 294.1h.8v.8h-.8zM224.12 287.02h.8v.8h-.8zM226.99 284.06h.8v.8h-.8zM233.34 293.91h.8v.8h-.8zM222.86 289.16h.8v.8h-.8zM238.39 285.65h.8v.8h-.8zM223.96 289.54h.8v.8h-.8zM237.75 279.85h.8v.8h-.8zM223.95 293.58h.8v.8h-.8zM221.72 289.06h.8v.8h-.8z" fill="#86b06c" opacity="0.7"/>
<path d="M234.98 274.27h.8v.8h-.8zM210.34 283.31h.8v.8h-.8zM212.21 278.88h.8v.8h-.8zM218.61 288.32h.8v.8h-.8zM229.73 274.63h.8v.8h-.8zM209.51 283.94h.8v.8h-.8zM222.76 287.44h.8v.8h-.8zM209.72 286.11h.8v.8h-.8zM233.45 284.55h.8v.8h-.8zM213.89 288.62h.8v.8h-.8zM233.72 275.23h.8v.8h-.8zM209.65 283.38h.8v.8h-.8zM222.2 288.75h.8v.8h-.8zM212.21 287.6h.8v.8h-.8zM217.43 288.1h.8v.8h-.8zM234.32 282.21h.8v.8h-.8zM215.74 286.55h.8v.8h-.8zM235.88 283.29h.8v.8h-.8zM237.6 273.74h.8v.8h-.8zM239.03 278.83h.8v.8h-.8zM210.38 287.09h.8v.8h-.8zM219.9 274.67h.8v.8h-.8zM229.37 274.76h.8v.8h-.8zM208.72 286.72h.8v.8h-.8zM230.87 274.5h.8v.8h-.8zM237.18 275.09h.8v.8h-.8zM214.19 279.35h.8v.8h-.8zM238.99 279.91h.8v.8h-.8zM212 285.66h.8v.8h-.8zM223.19 286.54h.8v.8h-.8zM237.63 276.68h.8v.8h-.8zM217.47 275.79h.8v.8h-.8zM232.51 283.43h.8v.8h-.8zM231.83 284.88h.8v.8h-.8zM212.79 280.3h.8v.8h-.8zM229.73 286.11h.8v.8h-.8zM218.51 286.42h.8v.8h-.8zM238.33 281.3h.8v.8h-.8zM236.45 277.43h.8v.8h-.8zM233.22 282.08h.8v.8h-.8zM235.76 275.19h.8v.8h-.8zM230.14 285.31h.8v.8h-.8zM230.17 273.07h.8v.8h-.8zM214.72 286.9h.8v.8h-.8zM208.82 281.46h.8v.8h-.8zM228.78 273.47h.8v.8h-.8zM210.53 283.84h.8v.8h-.8zM221.05 287.82h.8v.8h-.8zM218.62 286.35h.8v.8h-.8zM237.07 276.54h.8v.8h-.8zM215.39 277.16h.8v.8h-.8zM220.09 287.15h.8v.8h-.8zM234.34 277.1h.8v.8h-.8zM237.13 281.33h.8v.8h-.8zM214.13 287.11h.8v.8h-.8zM212.25 286.03h.8v.8h-.8zM232.6 275.39h.8v.8h-.8zM209.59 284.23h.8v.8h-.8zM226.2 286.06h.8v.8h-.8zM233.39 282.27h.8v.8h-.8zM235.97 276.82h.8v.8h-.8zM237.34 278.52h.8v.8h-.8zM233.53 274.77h.8v.8h-.8zM231.66 275.04h.8v.8h-.8zM232.97 285.28h.8v.8h-.8zM214.48 289.15h.8v.8h-.8zM229.37 274.65h.8v.8h-.8zM229.41 284.83h.8v.8h-.8zM220.3 288.14h.8v.8h-.8zM231.58 275.28h.8v.8h-.8zM232.32 274.65h.8v.8h-.8zM209.57 285.03h.8v.8h-.8zM237.03 278.24h.8v.8h-.8zM222.22 286.35h.8v.8h-.8zM223.12 286.73h.8v.8h-.8zM234.64 273.01h.8v.8h-.8zM211.93 278.67h.8v.8h-.8zM237.39 275.41h.8v.8h-.8zM218.44 289.09h.8v.8h-.8zM221.09 276.11h.8v.8h-.8zM219.9 276.09h.8v.8h-.8zM234.82 275.69h.8v.8h-.8zM212.79 289.18h.8v.8h-.8zM234.58 280.65h.8v.8h-.8zM229.04 284.82h.8v.8h-.8zM232.87 274.42h.8v.8h-.8zM216.13 289.02h.8v.8h-.8zM237.68 279.64h.8v.8h-.8zM217.62 286.62h.8v.8h-.8zM234.7 275.92h.8v.8h-.8zM209.17 279.25h.8v.8h-.8zM212.35 286.02h.8v.8h-.8zM215.78 284.92h.8v.8h-.8zM216.71 284.56h.8v.8h-.8zM212.08 289.59h.8v.8h-.8zM216.46 288.96h.8v.8h-.8zM216.73 284.15h.8v.8h-.8zM219.64 288.28h.8v.8h-.8zM216.09 286.49h.8v.8h-.8zM218.68 288.94h.8v.8h-.8zM221.57 290.52h.8v.8h-.8zM212.98 287.5h.8v.8h-.8zM220.5 286.86h.8v.8h-.8zM217.88 290.84h.8v.8h-.8zM216.65 289.46h.8v.8h-.8zM216.66 285.09h.8v.8h-.8zM221.93 287.9h.8v.8h-.8zM212.94 285.28h.8v.8h-.8zM217.76 283.61h.8v.8h-.8zM216.63 291.99h.8v.8h-.8zM215.58 293.43h.8v.8h-.8zM216.4 291.61h.8v.8h-.8zM218.73 285.82h.8v.8h-.8zM215.07 292.58h.8v.8h-.8zM211.44 285.57h.8v.8h-.8zM218.1 286.27h.8v.8h-.8zM215.67 289.49h.8v.8h-.8zM218.52 290.12h.8v.8h-.8zM215.1 286.66h.8v.8h-.8zM217.3 288.35h.8v.8h-.8zM215.48 287.3h.8v.8h-.8zM212.32 288.4h.8v.8h-.8zM213.84 289.42h.8v.8h-.8zM220.26 292.18h.8v.8h-.8zM219.53 292.2h.8v.8h-.8zM213.52 288.49h.8v.8h-.8zM212.4 292.82h.8v.8h-.8zM220.11 286.4h.8v.8h-.8zM215.54 291.37h.8v.8h-.8zM215.82 290.25h.8v.8h-.8zM221.83 289.98h.8v.8h-.8zM215.52 289.01h.8v.8h-.8zM212.42 290.9h.8v.8h-.8zM212.2 291.48h.8v.8h-.8zM213.62 289.88h.8v.8h-.8zM216.52 288.5h.8v.8h-.8zM228.92 290.25h.8v.8h-.8zM232.92 290.05h.8v.8h-.8zM233.55 287.25h.8v.8h-.8zM230.24 284.38h.8v.8h-.8zM236.19 283.86h.8v.8h-.8zM231.76 283.76h.8v.8h-.8zM230.63 283.77h.8v.8h-.8zM229.74 284.56h.8v.8h-.8zM225.46 287.32h.8v.8h-.8zM232.58 290.37h.8v.8h-.8zM224.98 287.2h.8v.8h-.8zM233.66 285.04h.8v.8h-.8zM233.16 287.04h.8v.8h-.8zM233.23 285.97h.8v.8h-.8zM234.51 290.72h.8v.8h-.8zM236.35 290.46h.8v.8h-.8zM234.31 283.01h.8v.8h-.8zM229.62 288.55h.8v.8h-.8zM229.85 283.53h.8v.8h-.8zM232.18 285.52h.8v.8h-.8zM229.64 284.23h.8v.8h-.8zM227.76 287.58h.8v.8h-.8z" fill="#3e7a2a" opacity="0.6"/>
<path d="M230.87 276.32h.8v.8h-.8zM228.51 282.89h.8v.8h-.8zM226.09 282.95h.8v.8h-.8zM220.75 280.49h.8v.8h-.8zM232.08 279.16h.8v.8h-.8zM219.01 279.29h.8v.8h-.8zM212.81 281.1h.8v.8h-.8zM227.85 281.76h.8v.8h-.8zM222.87 278.92h.8v.8h-.8zM228.59 281.41h.8v.8h-.8zM224.61 280.93h.8v.8h-.8zM223.42 277.02h.8v.8h-.8zM220.03 277.57h.8v.8h-.8zM227.69 283.07h.8v.8h-.8zM214.02 280.87h.8v.8h-.8zM213.29 284.42h.8v.8h-.8zM223.28 282.27h.8v.8h-.8zM225.94 276.91h.8v.8h-.8zM224.37 285.13h.8v.8h-.8zM220.89 278.36h.8v.8h-.8zM223.83 283.57h.8v.8h-.8zM219.15 284.04h.8v.8h-.8zM231.54 278.53h.8v.8h-.8zM217.96 281.24h.8v.8h-.8zM212.55 282.3h.8v.8h-.8zM219.98 282.58h.8v.8h-.8zM218.81 284.57h.8v.8h-.8zM226.83 283.57h.8v.8h-.8zM223.47 282.08h.8v.8h-.8zM217.3 278.72h.8v.8h-.8zM230.44 281.36h.8v.8h-.8zM225.42 278.48h.8v.8h-.8zM224.62 278.19h.8v.8h-.8zM215.35 282.53h.8v.8h-.8zM217.75 282.81h.8v.8h-.8zM220.09 278.29h.8v.8h-.8zM218.1 284.51h.8v.8h-.8zM216.89 280.37h.8v.8h-.8zM226.45 278.63h.8v.8h-.8zM214.32 281.26h.8v.8h-.8zM219.77 282.89h.8v.8h-.8zM222.18 282.75h.8v.8h-.8zM220.74 284.43h.8v.8h-.8zM221.72 285.7h.8v.8h-.8zM229.31 282.3h.8v.8h-.8zM217.17 278.7h.8v.8h-.8zM219.83 278.48h.8v.8h-.8zM227.97 276.54h.8v.8h-.8zM217.94 280.04h.8v.8h-.8zM226.01 280.68h.8v.8h-.8zM227.22 282.62h.8v.8h-.8zM220.43 285.66h.8v.8h-.8zM232.09 280h.8v.8h-.8zM218.24 279.87h.8v.8h-.8zM220.62 278.17h.8v.8h-.8zM222.76 281.21h.8v.8h-.8zM222.55 282.38h.8v.8h-.8zM230.81 280.32h.8v.8h-.8zM222.6 279.2h.8v.8h-.8zM218.52 277.77h.8v.8h-.8zM222.49 283h.8v.8h-.8zM233.23 277.28h.8v.8h-.8zM227.8 278.97h.8v.8h-.8zM222.97 279.68h.8v.8h-.8zM215.06 281.77h.8v.8h-.8zM232.63 280.48h.8v.8h-.8zM217.26 283.79h.8v.8h-.8zM221.31 283.6h.8v.8h-.8zM224.27 284.03h.8v.8h-.8zM211.42 283h.8v.8h-.8zM231.78 277.51h.8v.8h-.8zM230.11 281.91h.8v.8h-.8zM218.84 284.21h.8v.8h-.8zM231.3 280.57h.8v.8h-.8zM218.21 282.72h.8v.8h-.8zM219.21 283.85h.8v.8h-.8zM224.47 280.97h.8v.8h-.8zM216.91 283.45h.8v.8h-.8zM221.65 281.13h.8v.8h-.8zM217.79 279.34h.8v.8h-.8zM223.64 283.29h.8v.8h-.8zM227.12 276.97h.8v.8h-.8zM220.36 284.08h.8v.8h-.8zM226.55 276.77h.8v.8h-.8zM223.47 282.19h.8v.8h-.8zM228.57 282.95h.8v.8h-.8zM219.02 280.96h.8v.8h-.8zM220.08 279.16h.8v.8h-.8zM225.71 281.1h.8v.8h-.8zM216.79 283.39h.8v.8h-.8zM222.8 280.71h.8v.8h-.8zM224.65 276.09h.8v.8h-.8zM211.84 282.95h.8v.8h-.8zM217.78 286.17h.8v.8h-.8zM227.94 278.44h.8v.8h-.8zM220.68 286.11h.8v.8h-.8zM213.61 281.4h.8v.8h-.8zM224.87 282.37h.8v.8h-.8zM224.11 279.31h.8v.8h-.8zM217 279.28h.8v.8h-.8zM229.88 280.04h.8v.8h-.8zM217.09 277.89h.8v.8h-.8zM212.83 281.39h.8v.8h-.8zM228.43 281.69h.8v.8h-.8zM223.3 282.92h.8v.8h-.8zM214.92 282.07h.8v.8h-.8zM219.11 280.87h.8v.8h-.8zM219.71 282.65h.8v.8h-.8zM222.78 278.85h.8v.8h-.8zM218.27 283.72h.8v.8h-.8zM223.42 278.53h.8v.8h-.8zM223.29 279.43h.8v.8h-.8zM224.71 284.91h.8v.8h-.8zM225.81 284.06h.8v.8h-.8zM219.12 277.31h.8v.8h-.8zM230.98 282.3h.8v.8h-.8zM222.17 279.87h.8v.8h-.8zM218.87 280.64h.8v.8h-.8zM218.69 278.88h.8v.8h-.8zM227.97 284.48h.8v.8h-.8zM224.78 281.22h.8v.8h-.8zM218.99 283.54h.8v.8h-.8zM224.63 280.42h.8v.8h-.8zM220.1 283.74h.8v.8h-.8zM223.66 279.72h.8v.8h-.8zM217.63 278.13h.8v.8h-.8zM216.91 282.69h.8v.8h-.8zM228.24 276.21h.8v.8h-.8zM231.82 280.95h.8v.8h-.8zM220.16 280.9h.8v.8h-.8zM228.61 283.49h.8v.8h-.8zM215.97 285.18h.8v.8h-.8zM222.07 281.98h.8v.8h-.8zM228.87 280.45h.8v.8h-.8zM218.32 278.87h.8v.8h-.8zM225.79 280.35h.8v.8h-.8zM217.92 284.82h.8v.8h-.8zM215.84 279.42h.8v.8h-.8zM212.4 281.83h.8v.8h-.8zM232.26 280.53h.8v.8h-.8zM212.99 283.62h.8v.8h-.8zM223.98 284.04h.8v.8h-.8zM220.04 283.58h.8v.8h-.8zM212.23 284.69h.8v.8h-.8zM214.48 281.23h.8v.8h-.8zM225.21 281.97h.8v.8h-.8zM220.83 285.08h.8v.8h-.8zM231.65 277.61h.8v.8h-.8zM229.12 281.04h.8v.8h-.8zM229.46 277.51h.8v.8h-.8zM223.09 281.94h.8v.8h-.8zM227.91 282.98h.8v.8h-.8zM220.28 278.58h.8v.8h-.8zM217.61 283.9h.8v.8h-.8zM218.31 279.64h.8v.8h-.8zM219.3 280.71h.8v.8h-.8zM220.29 283.6h.8v.8h-.8zM229.21 278.25h.8v.8h-.8zM215.82 278.88h.8v.8h-.8zM218.09 278.4h.8v.8h-.8zM233.62 280.37h.8v.8h-.8zM215.9 280.53h.8v.8h-.8zM221.32 281.52h.8v.8h-.8zM226.58 280.12h.8v.8h-.8zM221.1 283.13h.8v.8h-.8zM226.7 282.27h.8v.8h-.8zM223.11 279.06h.8v.8h-.8zM226.5 275.96h.8v.8h-.8z" fill="#1b4411" opacity="0.7"/>
<ellipse cx="216.2" cy="305.5" rx="8" ry="5" fill="url(#g464B)"/>
<path d="M213.44 307.32h.8v.8h-.8zM215.59 305.85h.8v.8h-.8zM217.94 308.91h.8v.8h-.8zM218.78 306.11h.8v.8h-.8zM215.5 303.34h.8v.8h-.8zM214.73 307.33h.8v.8h-.8zM217.17 304.46h.8v.8h-.8zM210.49 301.39h.8v.8h-.8zM217.58 308.25h.8v.8h-.8zM217.8 301.82h.8v.8h-.8zM215.29 306.09h.8v.8h-.8zM212.26 306.43h.8v.8h-.8zM215.34 303.26h.8v.8h-.8zM210.88 307.67h.8v.8h-.8zM217.73 303.12h.8v.8h-.8zM211.85 307.89h.8v.8h-.8zM218.76 304.68h.8v.8h-.8zM223.03 304.72h.8v.8h-.8zM211.67 308.43h.8v.8h-.8zM215.39 306.43h.8v.8h-.8zM216.36 302.82h.8v.8h-.8zM211.11 304.98h.8v.8h-.8zM222.22 302.81h.8v.8h-.8zM222.02 306.09h.8v.8h-.8zM211.43 306.21h.8v.8h-.8zM218.63 303.09h.8v.8h-.8zM211.45 306.68h.8v.8h-.8zM212.73 301.54h.8v.8h-.8zM215.17 305.96h.8v.8h-.8zM213.81 302.34h.8v.8h-.8zM217.11 300.82h.8v.8h-.8zM218.49 306.81h.8v.8h-.8zM223.38 307.86h.8v.8h-.8zM217.72 306.21h.8v.8h-.8zM216.32 301.96h.8v.8h-.8zM222.46 306.91h.8v.8h-.8zM214.98 302.44h.8v.8h-.8zM222.55 306.92h.8v.8h-.8zM211.13 307.3h.8v.8h-.8zM217.91 304.39h.8v.8h-.8zM213.51 308.37h.8v.8h-.8zM215.67 307.62h.8v.8h-.8zM214.9 307.45h.8v.8h-.8zM219.74 302.79h.8v.8h-.8zM211.62 305.3h.8v.8h-.8zM219.76 306.24h.8v.8h-.8zM221.5 301.82h.8v.8h-.8zM218.31 303.84h.8v.8h-.8zM216.63 306.36h.8v.8h-.8zM212.06 304.89h.8v.8h-.8zM211.23 306.21h.8v.8h-.8zM212.57 304.18h.8v.8h-.8zM217.13 303.76h.8v.8h-.8zM221.1 303.8h.8v.8h-.8zM219.83 306.25h.8v.8h-.8zM211.78 304.92h.8v.8h-.8zM212.63 304.54h.8v.8h-.8zM215.04 310.35h.8v.8h-.8zM214.41 309.68h.8v.8h-.8zM218.11 302.02h.8v.8h-.8zM220.59 306.54h.8v.8h-.8zM215.31 304.83h.8v.8h-.8zM217.31 304.69h.8v.8h-.8zM213.92 304.51h.8v.8h-.8zM221.19 303.85h.8v.8h-.8zM217.82 302.43h.8v.8h-.8zM213.16 301.84h.8v.8h-.8zM215.36 307.32h.8v.8h-.8zM217.5 304.19h.8v.8h-.8zM218.81 304.58h.8v.8h-.8zM217.79 306.23h.8v.8h-.8zM218.51 298.9h.8v.8h-.8zM210.65 307.56h.8v.8h-.8zM215.74 311.47h.8v.8h-.8zM215.2 304.03h.8v.8h-.8zM222.56 306.98h.8v.8h-.8zM215.33 307.43h.8v.8h-.8zM212.85 304.31h.8v.8h-.8zM213.84 304.91h.8v.8h-.8zM219.51 304.22h.8v.8h-.8zM217.57 304.17h.8v.8h-.8zM219.96 298.17h.8v.8h-.8zM215.32 305.95h.8v.8h-.8zM211.61 308.19h.8v.8h-.8zM217.12 308.91h.8v.8h-.8zM220.29 307.2h.8v.8h-.8zM215.56 302.61h.8v.8h-.8zM215.26 304.28h.8v.8h-.8zM217.26 304.26h.8v.8h-.8zM221.19 304.25h.8v.8h-.8zM215.17 307.96h.8v.8h-.8zM216.21 302.28h.8v.8h-.8zM217.96 304.98h.8v.8h-.8zM211.71 303.52h.8v.8h-.8zM218.25 306.3h.8v.8h-.8zM214.97 311.26h.8v.8h-.8zM217.98 303.87h.8v.8h-.8zM217.2 305.18h.8v.8h-.8zM210.29 310.98h.8v.8h-.8zM215.42 304.77h.8v.8h-.8zM213.8 308.1h.8v.8h-.8zM216.32 310.03h.8v.8h-.8zM219.55 309.87h.8v.8h-.8zM215.7 306.5h.8v.8h-.8zM214.36 305.05h.8v.8h-.8zM208.85 303.96h.8v.8h-.8zM212.16 303.77h.8v.8h-.8zM221.36 306.19h.8v.8h-.8zM221.4 307.78h.8v.8h-.8zM220.1 308.16h.8v.8h-.8zM213.63 307.63h.8v.8h-.8zM214.83 304.09h.8v.8h-.8zM221.27 311.24h.8v.8h-.8zM212.05 310.11h.8v.8h-.8zM219.72 303.25h.8v.8h-.8zM217.36 306.48h.8v.8h-.8zM217.79 304.55h.8v.8h-.8zM210.75 305.58h.8v.8h-.8zM219.85 307.58h.8v.8h-.8zM219 308.42h.8v.8h-.8zM212 305.39h.8v.8h-.8zM217.64 308.15h.8v.8h-.8zM216.86 306.87h.8v.8h-.8zM216.77 311.06h.8v.8h-.8zM210.12 303.7h.8v.8h-.8zM217.15 310.04h.8v.8h-.8zM218.16 307.27h.8v.8h-.8zM220.52 306.03h.8v.8h-.8zM212.57 305.24h.8v.8h-.8zM217.63 304.77h.8v.8h-.8zM213.37 304.55h.8v.8h-.8zM209.84 302.79h.8v.8h-.8zM215.82 304.54h.8v.8h-.8zM216.36 309.22h.8v.8h-.8zM217.47 305.41h.8v.8h-.8zM211.23 302.65h.8v.8h-.8zM217.79 303.19h.8v.8h-.8zM218.02 302.66h.8v.8h-.8zM216.77 305.31h.8v.8h-.8zM220.42 304.46h.8v.8h-.8zM214.62 306.15h.8v.8h-.8zM216.43 309.97h.8v.8h-.8zM215.11 304.08h.8v.8h-.8zM214.85 306.75h.8v.8h-.8zM217.19 307.34h.8v.8h-.8zM210.34 312.06h.8v.8h-.8zM223.99 305.42h.8v.8h-.8z" fill="#1d44c8" opacity="0.55"/>
<rect x="208.5" y="272.5" width="31" height="23" fill="none" stroke="#7a7a7a" stroke-width="0.85"/>
<rect x="208.5" y="295.5" width="16" height="20" fill="none" stroke="#7a7a7a" stroke-width="0.85"/>
<rect x="224.5" y="295.5" width="15" height="11" fill="none" stroke="#7a7a7a" stroke-width="0.85"/>
<text x="227.5" y="283.2" font-size="3.4" text-anchor="middle" font-weight="normal" fill="#10200c" stroke="#10200c" stroke-width="0.09" textLength="11.23" lengthAdjust="spacingAndGlyphs">S phase</text>
<text x="216.2" y="306.7" font-size="3.4" text-anchor="middle" font-weight="normal" fill="#0a1440" stroke="#0a1440" stroke-width="0.09" textLength="9.01" lengthAdjust="spacingAndGlyphs">G0/G1</text>
<text x="232.1" y="302.5" font-size="4.3" text-anchor="middle" font-weight="normal" fill="#7a4a2e" stroke="#7a4a2e" stroke-width="0.12">G2/M</text>
<text x="245" y="281.6" font-size="5.6" text-anchor="start" font-weight="normal" fill="#1a1a1a" stroke="#1a1a1a" stroke-width="0.15">S: 63.2%</text>
<rect x="299.5" y="260.5" width="74" height="58" fill="none" stroke="#707070" stroke-width="0.85"/>
<text x="293.8" y="269.5" font-size="5.2" text-anchor="end" fill="#1a1a1a">10<tspan font-size="3.8" dy="-2.1">5</tspan></text>
<line x1="298" y1="267.6" x2="299.6" y2="267.6" stroke="#666" stroke-width="0.6"/>
<text x="293.8" y="283.4" font-size="5.2" text-anchor="end" fill="#1a1a1a">10<tspan font-size="3.8" dy="-2.1">4</tspan></text>
<line x1="298" y1="281.5" x2="299.6" y2="281.5" stroke="#666" stroke-width="0.6"/>
<text x="293.8" y="297.2" font-size="5.2" text-anchor="end" fill="#1a1a1a">10<tspan font-size="3.8" dy="-2.1">3</tspan></text>
<line x1="298" y1="295.3" x2="299.6" y2="295.3" stroke="#666" stroke-width="0.6"/>
<text x="293.8" y="311.5" font-size="5.2" text-anchor="end" fill="#1a1a1a">10<tspan font-size="3.8" dy="-2.1">2</tspan></text>
<line x1="298" y1="309.6" x2="299.6" y2="309.6" stroke="#666" stroke-width="0.6"/>
<text x="314.4" y="328.9" font-size="5.4" text-anchor="middle" font-weight="normal" fill="#1a1a1a" stroke="#1a1a1a" stroke-width="0.15">50</text>
<line x1="314.4" y1="318.8" x2="314.4" y2="320.2" stroke="#666" stroke-width="0.6"/>
<text x="328.8" y="328.9" font-size="5.4" text-anchor="middle" font-weight="normal" fill="#1a1a1a" stroke="#1a1a1a" stroke-width="0.15">100</text>
<line x1="328.8" y1="318.8" x2="328.8" y2="320.2" stroke="#666" stroke-width="0.6"/>
<text x="341.4" y="328.9" font-size="5.4" text-anchor="middle" font-weight="normal" fill="#1a1a1a" stroke="#1a1a1a" stroke-width="0.15">150</text>
<line x1="341.4" y1="318.8" x2="341.4" y2="320.2" stroke="#666" stroke-width="0.6"/>
<text x="354.2" y="328.9" font-size="5.4" text-anchor="middle" font-weight="normal" fill="#1a1a1a" stroke="#1a1a1a" stroke-width="0.15">200</text>
<line x1="354.2" y1="318.8" x2="354.2" y2="320.2" stroke="#666" stroke-width="0.6"/>
<text x="368.6" y="328.9" font-size="5.4" text-anchor="middle" font-weight="normal" fill="#1a1a1a" stroke="#1a1a1a" stroke-width="0.15">250</text>
<line x1="368.6" y1="318.8" x2="368.6" y2="320.2" stroke="#666" stroke-width="0.6"/>
<text x="374.5" y="338.4" font-size="5.6" text-anchor="end" font-weight="normal" fill="#1a1a1a" stroke="#1a1a1a" stroke-width="0.15">(x 1,000)</text>
<rect x="304" y="295.6" width="16.6" height="20.2" fill="#e4ebfb" stroke="none" stroke-width="0"/>
<rect x="320.6" y="295.6" width="14.8" height="10.6" fill="#fbf1ea" stroke="none" stroke-width="0"/>
<rect x="304" y="272.4" width="31.4" height="23.2" fill="#fbfcfa" stroke="none" stroke-width="0"/>
<defs><radialGradient id="g560G"><stop offset="0" stop-color="#1d4812" stop-opacity="0.95"/><stop offset="0.5" stop-color="#3c7229" stop-opacity="0.7"/><stop offset="1" stop-color="#8fb47a" stop-opacity="0"/></radialGradient><radialGradient id="g560B"><stop offset="0" stop-color="#0e2a9a" stop-opacity="1"/><stop offset="0.55" stop-color="#2a5ae6" stop-opacity="0.85"/><stop offset="1" stop-color="#7fa2f0" stop-opacity="0.15"/></radialGradient></defs>
<ellipse cx="320" cy="281" rx="15.75" ry="6.3" fill="url(#g560G)" transform="rotate(-10 320 281)"/>
<path d="M329.56 272.91h.8v.8h-.8zM321.18 289.22h.8v.8h-.8zM306.24 288.28h.8v.8h-.8zM307.11 276.4h.8v.8h-.8zM308.63 289.78h.8v.8h-.8zM308.53 276.23h.8v.8h-.8zM325.2 289.24h.8v.8h-.8zM333.28 288.15h.8v.8h-.8zM328.27 288.81h.8v.8h-.8zM306.89 277.49h.8v.8h-.8zM305.72 291.01h.8v.8h-.8zM306.03 291.79h.8v.8h-.8zM329.93 287.48h.8v.8h-.8zM307.39 274.91h.8v.8h-.8zM318.36 289.72h.8v.8h-.8zM317.73 273.22h.8v.8h-.8zM305.69 276.22h.8v.8h-.8zM305.14 272.91h.8v.8h-.8zM325.13 287.78h.8v.8h-.8zM326.62 288h.8v.8h-.8zM324.7 288.96h.8v.8h-.8zM307.19 290.72h.8v.8h-.8zM331.62 285.25h.8v.8h-.8zM324.47 293.18h.8v.8h-.8zM323.23 290.62h.8v.8h-.8zM328.76 286.85h.8v.8h-.8zM315.95 273.18h.8v.8h-.8zM316.59 273.77h.8v.8h-.8zM309.89 274.98h.8v.8h-.8zM332.57 288.34h.8v.8h-.8zM316.17 291.03h.8v.8h-.8zM308.2 283.58h.8v.8h-.8zM321.89 289.34h.8v.8h-.8zM306.68 294.12h.8v.8h-.8zM317.77 294.74h.8v.8h-.8zM307.01 280.94h.8v.8h-.8zM317.95 286.21h.8v.8h-.8zM311.76 282.53h.8v.8h-.8zM320.91 279.84h.8v.8h-.8zM314.07 295.08h.8v.8h-.8zM311.62 282.75h.8v.8h-.8zM306.18 284.38h.8v.8h-.8zM319.85 285.94h.8v.8h-.8zM312.99 294.7h.8v.8h-.8zM305.75 292.54h.8v.8h-.8zM324.32 289.39h.8v.8h-.8zM307.83 294.25h.8v.8h-.8zM318.94 288.51h.8v.8h-.8zM304.59 285.73h.8v.8h-.8zM305.37 287.65h.8v.8h-.8zM306.7 280.68h.8v.8h-.8zM322.68 291.78h.8v.8h-.8zM322.04 286.56h.8v.8h-.8zM306.54 291.24h.8v.8h-.8zM317.36 281.65h.8v.8h-.8zM324.79 283.16h.8v.8h-.8zM332.91 279.16h.8v.8h-.8zM320.37 287.02h.8v.8h-.8zM324.11 281.12h.8v.8h-.8zM325.01 281.85h.8v.8h-.8zM316.54 294h.8v.8h-.8zM323.87 281.65h.8v.8h-.8zM323.42 293.35h.8v.8h-.8zM330.16 279.78h.8v.8h-.8zM323.84 283.19h.8v.8h-.8zM324.78 277.12h.8v.8h-.8zM332.27 295h.8v.8h-.8zM332.42 282.69h.8v.8h-.8z" fill="#86b06c" opacity="0.7"/>
<path d="M307.65 283.84h.8v.8h-.8zM319.07 274.88h.8v.8h-.8zM325.73 285.86h.8v.8h-.8zM334.9 282.22h.8v.8h-.8zM333.93 274.43h.8v.8h-.8zM332.57 277.46h.8v.8h-.8zM312.24 275.98h.8v.8h-.8zM323.29 273.98h.8v.8h-.8zM313.18 287.22h.8v.8h-.8zM332.43 278.95h.8v.8h-.8zM310.12 279.75h.8v.8h-.8zM332.57 283.39h.8v.8h-.8zM310.62 285.86h.8v.8h-.8zM332 277.44h.8v.8h-.8zM331.51 282.29h.8v.8h-.8zM327.65 275.61h.8v.8h-.8zM331.77 274.87h.8v.8h-.8zM333.79 281.4h.8v.8h-.8zM310.67 287.61h.8v.8h-.8zM330.01 276.38h.8v.8h-.8zM313.57 276.98h.8v.8h-.8zM332.64 274.26h.8v.8h-.8zM329.56 283.95h.8v.8h-.8zM306.94 287.89h.8v.8h-.8zM324.37 273.98h.8v.8h-.8zM314.77 275.37h.8v.8h-.8zM328.93 283.52h.8v.8h-.8zM319.69 276.08h.8v.8h-.8zM304.71 281.32h.8v.8h-.8zM325.55 274.96h.8v.8h-.8zM332.63 281.14h.8v.8h-.8zM319.24 274.49h.8v.8h-.8zM308.18 278.03h.8v.8h-.8zM307.08 282.21h.8v.8h-.8zM312.19 277.33h.8v.8h-.8zM309.06 286.21h.8v.8h-.8zM330.22 284.56h.8v.8h-.8zM319.44 275.9h.8v.8h-.8zM332.21 283.91h.8v.8h-.8zM314.78 276.09h.8v.8h-.8zM314.09 287.04h.8v.8h-.8zM323.92 275.2h.8v.8h-.8zM332.65 279.7h.8v.8h-.8zM307.34 278.06h.8v.8h-.8zM305.69 283.08h.8v.8h-.8zM304.77 285.59h.8v.8h-.8zM316.15 276.98h.8v.8h-.8zM327.16 286.51h.8v.8h-.8zM326.51 286.37h.8v.8h-.8zM315.88 274.79h.8v.8h-.8zM316.31 275.52h.8v.8h-.8zM328.74 284.81h.8v.8h-.8zM323.18 275.86h.8v.8h-.8zM307.9 281.09h.8v.8h-.8zM324.16 285.98h.8v.8h-.8zM329.55 275.81h.8v.8h-.8zM304.88 284.28h.8v.8h-.8zM331.99 282.48h.8v.8h-.8zM306.59 284.95h.8v.8h-.8zM308.12 277.86h.8v.8h-.8zM311.05 276.4h.8v.8h-.8zM322.09 287.02h.8v.8h-.8zM314.89 277.24h.8v.8h-.8zM307.33 277.82h.8v.8h-.8zM324.14 286.74h.8v.8h-.8zM333.38 275.97h.8v.8h-.8zM327.46 284.2h.8v.8h-.8zM305.09 283.53h.8v.8h-.8zM333.17 277.86h.8v.8h-.8zM313.93 276.49h.8v.8h-.8zM308.18 282.47h.8v.8h-.8zM308.27 286.4h.8v.8h-.8zM304.77 286.16h.8v.8h-.8zM312.42 289.01h.8v.8h-.8zM322.76 275.28h.8v.8h-.8zM315.12 287.57h.8v.8h-.8zM311.77 286.52h.8v.8h-.8zM304.56 282.49h.8v.8h-.8zM312.6 276.06h.8v.8h-.8zM318.29 273.92h.8v.8h-.8zM334.75 276.99h.8v.8h-.8zM306.25 279.93h.8v.8h-.8zM305.85 279.57h.8v.8h-.8zM330.06 282.58h.8v.8h-.8zM318.59 288.73h.8v.8h-.8zM311.47 277.56h.8v.8h-.8zM312.31 290.17h.8v.8h-.8zM311.95 292.93h.8v.8h-.8zM309.56 288.17h.8v.8h-.8zM310.91 292.93h.8v.8h-.8zM312.34 285.21h.8v.8h-.8zM313.23 291.56h.8v.8h-.8zM308.39 291.44h.8v.8h-.8zM308.38 284.43h.8v.8h-.8zM313.12 287.41h.8v.8h-.8zM312.12 289.63h.8v.8h-.8zM309.67 289.37h.8v.8h-.8zM314.11 289.79h.8v.8h-.8zM308.89 288.87h.8v.8h-.8zM312.66 293.46h.8v.8h-.8zM313.4 289.68h.8v.8h-.8zM308.33 292.5h.8v.8h-.8zM315.24 289.93h.8v.8h-.8zM313.54 286.76h.8v.8h-.8zM317.81 286.54h.8v.8h-.8zM312.2 291.33h.8v.8h-.8zM314.31 286.09h.8v.8h-.8zM315.45 290.32h.8v.8h-.8zM317.01 286.13h.8v.8h-.8zM311.77 286.69h.8v.8h-.8zM307.75 289.68h.8v.8h-.8zM310.35 290.29h.8v.8h-.8zM317.79 287.97h.8v.8h-.8zM312.32 289.12h.8v.8h-.8zM308.51 283.93h.8v.8h-.8zM317.65 289.3h.8v.8h-.8zM312.6 293.93h.8v.8h-.8zM315.03 285.03h.8v.8h-.8zM314.63 286.81h.8v.8h-.8zM313.71 287.39h.8v.8h-.8zM312.28 289.73h.8v.8h-.8zM309.41 289.45h.8v.8h-.8zM312.61 293.75h.8v.8h-.8zM309.44 286.26h.8v.8h-.8zM313.72 285.81h.8v.8h-.8zM317.6 288.49h.8v.8h-.8zM309.74 292.77h.8v.8h-.8zM316.86 289.15h.8v.8h-.8zM311.72 293.6h.8v.8h-.8zM314.44 291.12h.8v.8h-.8zM313.63 290.53h.8v.8h-.8zM313.31 287.46h.8v.8h-.8zM312.3 291.3h.8v.8h-.8zM307.22 285.89h.8v.8h-.8zM315.87 287.52h.8v.8h-.8zM316.85 286.81h.8v.8h-.8zM312.76 289.03h.8v.8h-.8zM310.97 292.21h.8v.8h-.8zM308.53 283.93h.8v.8h-.8zM314.82 290.82h.8v.8h-.8zM332.69 287.33h.8v.8h-.8zM325.68 286.82h.8v.8h-.8zM327.41 284.88h.8v.8h-.8zM329.47 292.14h.8v.8h-.8zM324.35 284.54h.8v.8h-.8zM326.8 285.81h.8v.8h-.8zM329.66 292.59h.8v.8h-.8zM332.81 287.23h.8v.8h-.8zM332.41 286.14h.8v.8h-.8zM328.49 283.91h.8v.8h-.8zM331.86 290.22h.8v.8h-.8zM330 291.34h.8v.8h-.8zM332.06 288.52h.8v.8h-.8zM323.96 290.53h.8v.8h-.8zM325.67 289.04h.8v.8h-.8zM327.91 288.09h.8v.8h-.8zM327.46 285.7h.8v.8h-.8zM327.6 291.17h.8v.8h-.8zM325.73 286.47h.8v.8h-.8z" fill="#3e7a2a" opacity="0.6"/>
<path d="M316.65 283.73h.8v.8h-.8zM319.43 278.72h.8v.8h-.8zM309.91 280.24h.8v.8h-.8zM325.75 277.29h.8v.8h-.8zM324.89 279.41h.8v.8h-.8zM321.3 283.69h.8v.8h-.8zM312.55 283.16h.8v.8h-.8zM316.38 282.69h.8v.8h-.8zM325.2 280.3h.8v.8h-.8zM323.53 276.13h.8v.8h-.8zM316.65 284.22h.8v.8h-.8zM313.05 279.72h.8v.8h-.8zM327.56 281.51h.8v.8h-.8zM315.73 277.2h.8v.8h-.8zM323.98 283.52h.8v.8h-.8zM329.62 278.2h.8v.8h-.8zM326.89 279.58h.8v.8h-.8zM322.7 278.23h.8v.8h-.8zM319.72 281.03h.8v.8h-.8zM320.65 285h.8v.8h-.8zM312.43 279.17h.8v.8h-.8zM319.79 279.86h.8v.8h-.8zM317.72 283.54h.8v.8h-.8zM316.96 280.9h.8v.8h-.8zM314.04 279.27h.8v.8h-.8zM320.07 277.33h.8v.8h-.8zM309.02 281.67h.8v.8h-.8zM319.35 283.7h.8v.8h-.8zM322.01 276.72h.8v.8h-.8zM324.26 278.42h.8v.8h-.8zM319.06 278.47h.8v.8h-.8zM318.88 282.55h.8v.8h-.8zM317.61 285.57h.8v.8h-.8zM324.15 283.78h.8v.8h-.8zM326.49 278.84h.8v.8h-.8zM315.78 286.03h.8v.8h-.8zM326.83 281.96h.8v.8h-.8zM312.15 285.08h.8v.8h-.8zM328.08 278.79h.8v.8h-.8zM317.96 283.69h.8v.8h-.8zM319.54 277.54h.8v.8h-.8zM311.2 281.88h.8v.8h-.8zM313.89 279.58h.8v.8h-.8zM320.2 279.69h.8v.8h-.8zM319.78 284.32h.8v.8h-.8zM327.44 282.12h.8v.8h-.8zM320.9 276.47h.8v.8h-.8zM314.8 285.61h.8v.8h-.8zM322.75 276.67h.8v.8h-.8zM327.02 282.75h.8v.8h-.8zM330.44 281h.8v.8h-.8zM319.65 282.69h.8v.8h-.8zM319.45 284.12h.8v.8h-.8zM321.11 282.74h.8v.8h-.8zM322.58 276.6h.8v.8h-.8zM318.43 279.65h.8v.8h-.8zM324.45 276.89h.8v.8h-.8zM325.99 282.66h.8v.8h-.8zM331.14 280.78h.8v.8h-.8zM326.21 281.92h.8v.8h-.8zM312.79 279.34h.8v.8h-.8zM316.69 282.32h.8v.8h-.8zM310.29 280.44h.8v.8h-.8zM329.13 278.44h.8v.8h-.8zM324.08 280.13h.8v.8h-.8zM314.37 282.32h.8v.8h-.8zM316.62 284h.8v.8h-.8zM313.2 284.26h.8v.8h-.8zM308.47 282.55h.8v.8h-.8zM323.32 283.69h.8v.8h-.8zM326.91 280.93h.8v.8h-.8zM319.84 285.15h.8v.8h-.8zM329.1 279.19h.8v.8h-.8zM326.52 280.6h.8v.8h-.8zM324.29 281.5h.8v.8h-.8zM323.82 281.86h.8v.8h-.8zM322.62 283.79h.8v.8h-.8zM331.29 278.43h.8v.8h-.8zM318.1 277.01h.8v.8h-.8zM321.24 281.31h.8v.8h-.8zM319.02 281.59h.8v.8h-.8zM316.95 281.83h.8v.8h-.8zM328.83 281.13h.8v.8h-.8zM322.74 283.69h.8v.8h-.8zM328.31 277.11h.8v.8h-.8zM325.38 282.15h.8v.8h-.8zM316.38 282.25h.8v.8h-.8zM319.18 279.69h.8v.8h-.8zM309.49 283.67h.8v.8h-.8zM316.71 280.65h.8v.8h-.8zM322.17 284.99h.8v.8h-.8zM324.7 280.64h.8v.8h-.8zM323.34 280.74h.8v.8h-.8zM327.03 278.09h.8v.8h-.8zM321.29 281.47h.8v.8h-.8zM319.87 278.96h.8v.8h-.8zM323.28 281.11h.8v.8h-.8zM311.3 281.5h.8v.8h-.8zM319 281.51h.8v.8h-.8zM319.76 280.07h.8v.8h-.8zM314.82 282.5h.8v.8h-.8zM315.3 279.39h.8v.8h-.8zM315.48 282.72h.8v.8h-.8zM317.41 283.03h.8v.8h-.8zM322.58 278.88h.8v.8h-.8zM314.35 284.77h.8v.8h-.8zM320.05 278.5h.8v.8h-.8zM320.06 280.47h.8v.8h-.8zM324.86 281.13h.8v.8h-.8zM319.26 280.05h.8v.8h-.8zM320.49 284.65h.8v.8h-.8zM315.04 285.06h.8v.8h-.8zM330.05 281.91h.8v.8h-.8zM319.54 277.55h.8v.8h-.8zM320.8 285.41h.8v.8h-.8zM327.76 280.05h.8v.8h-.8zM326.11 279.36h.8v.8h-.8zM326.54 281.48h.8v.8h-.8zM328.33 279.82h.8v.8h-.8zM325.86 284.21h.8v.8h-.8zM320.66 284.29h.8v.8h-.8zM322.67 283.84h.8v.8h-.8zM318.97 282.7h.8v.8h-.8zM321.73 281h.8v.8h-.8zM316.5 283.49h.8v.8h-.8zM322.46 282.39h.8v.8h-.8zM317.13 285.79h.8v.8h-.8zM314.93 277.44h.8v.8h-.8zM319.02 279.22h.8v.8h-.8zM328.65 277.81h.8v.8h-.8zM321.16 279.84h.8v.8h-.8zM323.17 277.66h.8v.8h-.8zM315.34 278.69h.8v.8h-.8zM326.97 279.95h.8v.8h-.8zM324.94 278.67h.8v.8h-.8zM316.02 279.34h.8v.8h-.8zM323.27 281.99h.8v.8h-.8zM330.38 278.7h.8v.8h-.8z" fill="#1b4411" opacity="0.7"/>
<ellipse cx="312" cy="306" rx="8" ry="4.6" fill="url(#g560B)"/>
<path d="M317.42 306.29h.8v.8h-.8zM311.46 304.01h.8v.8h-.8zM312.39 306.11h.8v.8h-.8zM315.15 309.46h.8v.8h-.8zM315.18 306.05h.8v.8h-.8zM311.34 309.97h.8v.8h-.8zM312.87 305.96h.8v.8h-.8zM319.74 309.89h.8v.8h-.8zM314.45 305.73h.8v.8h-.8zM309.27 308.64h.8v.8h-.8zM310.05 308.38h.8v.8h-.8zM308.63 306.26h.8v.8h-.8zM313.73 306.36h.8v.8h-.8zM313.01 306.94h.8v.8h-.8zM307.17 303.25h.8v.8h-.8zM311.37 310.47h.8v.8h-.8zM311.46 303.71h.8v.8h-.8zM309.16 306.08h.8v.8h-.8zM317.09 304.6h.8v.8h-.8zM314.41 306.46h.8v.8h-.8zM310.47 303.66h.8v.8h-.8zM311.35 304.21h.8v.8h-.8zM314.31 301.65h.8v.8h-.8zM316.85 307.88h.8v.8h-.8zM314.49 309.7h.8v.8h-.8zM314.59 301.78h.8v.8h-.8zM312.23 307.11h.8v.8h-.8zM309.06 303.21h.8v.8h-.8zM313.86 307.26h.8v.8h-.8zM310.17 305.4h.8v.8h-.8zM309.82 304.6h.8v.8h-.8zM311.75 308.65h.8v.8h-.8zM305.09 305.16h.8v.8h-.8zM318.93 306.78h.8v.8h-.8zM312.66 308.06h.8v.8h-.8zM307.69 303.01h.8v.8h-.8zM304.88 302.4h.8v.8h-.8zM313.07 308.1h.8v.8h-.8zM310.21 304.32h.8v.8h-.8zM313.73 307.51h.8v.8h-.8zM313.1 301.3h.8v.8h-.8zM309.66 299.76h.8v.8h-.8zM313.04 303.91h.8v.8h-.8zM309.19 309.71h.8v.8h-.8zM317.67 307.19h.8v.8h-.8zM313.18 306.43h.8v.8h-.8zM309.49 305.88h.8v.8h-.8zM309.16 306.4h.8v.8h-.8zM315.82 308.05h.8v.8h-.8zM307.86 305.68h.8v.8h-.8zM310.87 302.96h.8v.8h-.8zM312.33 304.82h.8v.8h-.8zM315.94 307.07h.8v.8h-.8zM308.66 306.2h.8v.8h-.8zM310.47 304.44h.8v.8h-.8zM309.92 308.62h.8v.8h-.8zM310.23 301.78h.8v.8h-.8zM308.69 307.99h.8v.8h-.8zM310.48 305.19h.8v.8h-.8zM305.98 306.99h.8v.8h-.8zM311.78 306.69h.8v.8h-.8zM315.4 308.05h.8v.8h-.8zM309.28 304.54h.8v.8h-.8zM318.66 307.76h.8v.8h-.8zM312.61 303.31h.8v.8h-.8zM315.78 307.3h.8v.8h-.8zM315.44 306.66h.8v.8h-.8zM312.27 304.65h.8v.8h-.8zM313.32 306.6h.8v.8h-.8zM314.79 308.67h.8v.8h-.8zM313.34 304.67h.8v.8h-.8zM315.45 309.82h.8v.8h-.8zM308.43 307.03h.8v.8h-.8zM314.35 307.32h.8v.8h-.8zM314.16 305.78h.8v.8h-.8zM311.57 310.15h.8v.8h-.8zM319.41 302.55h.8v.8h-.8zM309.12 304.73h.8v.8h-.8zM305.18 306.87h.8v.8h-.8zM311.77 304.67h.8v.8h-.8zM315.84 311.98h.8v.8h-.8zM318.31 308.89h.8v.8h-.8zM310.24 307.62h.8v.8h-.8zM311.84 308.85h.8v.8h-.8zM314.49 305.92h.8v.8h-.8zM314.36 304.24h.8v.8h-.8zM315.39 309.7h.8v.8h-.8zM310.46 307.37h.8v.8h-.8zM304.88 308.3h.8v.8h-.8zM315.75 303.49h.8v.8h-.8zM319.45 306.28h.8v.8h-.8zM304.6 302.64h.8v.8h-.8zM315.74 305.33h.8v.8h-.8zM316.72 302.19h.8v.8h-.8zM311.58 308.4h.8v.8h-.8zM309.1 307.67h.8v.8h-.8zM310.47 306.85h.8v.8h-.8zM313.38 311.49h.8v.8h-.8zM306.71 307.92h.8v.8h-.8zM317.61 303.24h.8v.8h-.8zM312.35 311.68h.8v.8h-.8zM316.49 298.71h.8v.8h-.8zM310.99 301.8h.8v.8h-.8zM313.3 304.22h.8v.8h-.8zM309.6 303.94h.8v.8h-.8zM313.26 304.85h.8v.8h-.8zM308.13 305.44h.8v.8h-.8zM313.74 303.9h.8v.8h-.8zM316.75 301.92h.8v.8h-.8zM313.74 305.04h.8v.8h-.8zM318.73 304.42h.8v.8h-.8zM309.17 302.7h.8v.8h-.8zM307.36 305.17h.8v.8h-.8zM307.91 309.74h.8v.8h-.8zM313.79 301h.8v.8h-.8zM312.9 308.25h.8v.8h-.8zM312.01 307.16h.8v.8h-.8zM311.53 306.51h.8v.8h-.8zM312.91 304.26h.8v.8h-.8zM313.49 306.41h.8v.8h-.8zM311.84 304.32h.8v.8h-.8zM307.67 306.61h.8v.8h-.8zM315.53 300.06h.8v.8h-.8zM309.71 309.33h.8v.8h-.8zM315.92 304.25h.8v.8h-.8zM317.78 303.57h.8v.8h-.8zM308.62 310.77h.8v.8h-.8zM310.14 305.47h.8v.8h-.8zM304.95 303.52h.8v.8h-.8zM306.97 305.66h.8v.8h-.8zM310.48 304.51h.8v.8h-.8zM309.29 307.83h.8v.8h-.8zM318.56 305h.8v.8h-.8zM318.9 309.96h.8v.8h-.8zM317.74 306.74h.8v.8h-.8zM305.63 307.66h.8v.8h-.8zM310.25 306.48h.8v.8h-.8zM313 303.69h.8v.8h-.8zM313.26 310.12h.8v.8h-.8zM312.99 304.31h.8v.8h-.8zM308.06 307.01h.8v.8h-.8zM309.47 300.35h.8v.8h-.8zM313.11 308.05h.8v.8h-.8zM308.6 309.61h.8v.8h-.8zM314.14 308.94h.8v.8h-.8zM305.46 305.99h.8v.8h-.8zM318.85 310.97h.8v.8h-.8zM317.65 306h.8v.8h-.8zM312.78 304.45h.8v.8h-.8zM316.71 304.29h.8v.8h-.8zM312.53 300.91h.8v.8h-.8z" fill="#1d44c8" opacity="0.55"/>
<rect x="304.5" y="272.5" width="31" height="23" fill="none" stroke="#7a7a7a" stroke-width="0.85"/>
<rect x="304.5" y="295.5" width="16" height="20" fill="none" stroke="#7a7a7a" stroke-width="0.85"/>
<rect x="320.5" y="295.5" width="15" height="11" fill="none" stroke="#7a7a7a" stroke-width="0.85"/>
<text x="324.5" y="283.2" font-size="3.4" text-anchor="middle" font-weight="normal" fill="#10200c" stroke="#10200c" stroke-width="0.09" textLength="11.23" lengthAdjust="spacingAndGlyphs">S phase</text>
<text x="312" y="307.2" font-size="3.4" text-anchor="middle" font-weight="normal" fill="#0a1440" stroke="#0a1440" stroke-width="0.09" textLength="9.01" lengthAdjust="spacingAndGlyphs">G0/G1</text>
<text x="328" y="302.5" font-size="4.3" text-anchor="middle" font-weight="normal" fill="#7a4a2e" stroke="#7a4a2e" stroke-width="0.12">G2/M</text>
<text x="339.5" y="281.6" font-size="5.6" text-anchor="start" font-weight="normal" fill="#1a1a1a" stroke="#1a1a1a" stroke-width="0.15">S: 62.8%</text>
<text x="0" y="0" transform="translate(377.7 209.9) rotate(90)" font-size="9" text-anchor="middle" fill="#1a1a1a" stroke="#1a1a1a" stroke-width="0.22" textLength="35.9" lengthAdjust="spacingAndGlyphs">BACH2<tspan font-size="6.75" dy="-3.24">Con</tspan></text>
<text x="0" y="0" transform="translate(377.7 293.5) rotate(90)" font-size="9" text-anchor="middle" fill="#1a1a1a" stroke="#1a1a1a" stroke-width="0.22" textLength="34.6" lengthAdjust="spacingAndGlyphs">BACH2<tspan font-size="6.75" dy="-3.24">KO</tspan></text>
<line x1="183" y1="214" x2="183" y2="278.5" stroke="#111" stroke-width="1.1"/>
<path d="M183 207.6L186.2 215.5L179.8 215.5Z" fill="#000"/>
<text x="0" y="0" font-size="10" text-anchor="middle" font-weight="normal" fill="#1a1a1a" stroke="#1a1a1a" stroke-width="0.22" textLength="19" lengthAdjust="spacingAndGlyphs" transform="translate(186.1 291.3) rotate(-90)">BrdU</text>
<text x="224.6" y="347" font-size="9.6" text-anchor="middle" font-weight="normal" fill="#1a1a1a" stroke="#1a1a1a" stroke-width="0.22" textLength="25" lengthAdjust="spacingAndGlyphs">7-AAD</text>
<line x1="242" y1="344.3" x2="305" y2="344.3" stroke="#111" stroke-width="1.1"/>
<path d="M311.6 344.3L303.6 341.1L303.6 347.5Z" fill="#000"/>
<rect x="424.7" y="179" width="6.1" height="5.7" fill="#2f4a80" stroke="none" stroke-width="0"/>
<rect x="424.7" y="192" width="6.1" height="5.7" fill="#a6062c" stroke="none" stroke-width="0"/>
<text x="434" y="184.9" font-size="8.3" text-anchor="start" fill="#1a1a1a" stroke="#1a1a1a" stroke-width="0.22" textLength="36.75" lengthAdjust="spacingAndGlyphs">BACH2<tspan font-size="6.23" dy="-2.99">Con</tspan></text>
<text x="434" y="197.6" font-size="8.3" text-anchor="start" fill="#1a1a1a" stroke="#1a1a1a" stroke-width="0.22" textLength="34.47" lengthAdjust="spacingAndGlyphs">BACH2<tspan font-size="6.23" dy="-2.99">KO</tspan></text>
<rect x="424.6" y="213.2" width="39" height="10.6" fill="#2f4a80" stroke="none" stroke-width="0"/>
<rect x="424.6" y="223.8" width="70.78" height="10.8" fill="#a6062c" stroke="none" stroke-width="0"/>
<rect x="424.6" y="250.8" width="39" height="10.8" fill="#2f4a80" stroke="none" stroke-width="0"/>
<rect x="424.6" y="261.6" width="69.22" height="10.6" fill="#a6062c" stroke="none" stroke-width="0"/>
<line x1="424.6" y1="202.6" x2="424.6" y2="281.4" stroke="#111" stroke-width="1.2"/>
<line x1="422.2" y1="204.6" x2="424.6" y2="204.6" stroke="#111" stroke-width="1"/>
<line x1="422.2" y1="242.7" x2="424.6" y2="242.7" stroke="#111" stroke-width="1"/>
<line x1="424" y1="280.8" x2="505.6" y2="280.8" stroke="#111" stroke-width="1.2"/>
<line x1="424.6" y1="280.8" x2="424.6" y2="283.4" stroke="#111" stroke-width="1"/>
<text x="424.6" y="294.2" font-size="7.8" text-anchor="middle" font-weight="normal" fill="#1a1a1a" stroke="#1a1a1a" stroke-width="0.21">0</text>
<line x1="440.2" y1="280.8" x2="440.2" y2="283.4" stroke="#111" stroke-width="1"/>
<text x="440.2" y="294.2" font-size="7.8" text-anchor="middle" font-weight="normal" fill="#1a1a1a" stroke="#1a1a1a" stroke-width="0.21">0.4</text>
<line x1="455.8" y1="280.8" x2="455.8" y2="283.4" stroke="#111" stroke-width="1"/>
<text x="455.8" y="294.2" font-size="7.8" text-anchor="middle" font-weight="normal" fill="#1a1a1a" stroke="#1a1a1a" stroke-width="0.21">0.8</text>
<line x1="471.4" y1="280.8" x2="471.4" y2="283.4" stroke="#111" stroke-width="1"/>
<text x="471.4" y="294.2" font-size="7.8" text-anchor="middle" font-weight="normal" fill="#1a1a1a" stroke="#1a1a1a" stroke-width="0.21">1.2</text>
<line x1="487" y1="280.8" x2="487" y2="283.4" stroke="#111" stroke-width="1"/>
<text x="487" y="294.2" font-size="7.8" text-anchor="middle" font-weight="normal" fill="#1a1a1a" stroke="#1a1a1a" stroke-width="0.21">1.6</text>
<line x1="502.6" y1="280.8" x2="502.6" y2="283.4" stroke="#111" stroke-width="1"/>
<text x="502.9" y="294.2" font-size="7.8" text-anchor="middle" font-weight="normal" fill="#1a1a1a" stroke="#1a1a1a" stroke-width="0.21">2</text>
<line x1="495.4" y1="229.2" x2="501.2" y2="229.2" stroke="#111" stroke-width="1"/>
<line x1="501.2" y1="227.1" x2="501.2" y2="231.3" stroke="#111" stroke-width="1"/>
<line x1="493.5" y1="266.9" x2="499.3" y2="266.9" stroke="#111" stroke-width="1"/>
<line x1="499.3" y1="264.8" x2="499.3" y2="269" stroke="#111" stroke-width="1"/>
<line x1="507" y1="216.3" x2="507" y2="229.6" stroke="#111" stroke-width="1.1"/>
<line x1="504.2" y1="216.3" x2="509.8" y2="216.3" stroke="#111" stroke-width="1.2"/>
<line x1="504.2" y1="229.6" x2="509.8" y2="229.6" stroke="#111" stroke-width="1.2"/>
<circle cx="512.9" cy="221.15" r="1.25" fill="#111"/>
<circle cx="512.9" cy="224.75" r="1.25" fill="#111"/>
<line x1="505.4" y1="255.5" x2="505.4" y2="269.3" stroke="#111" stroke-width="1.1"/>
<line x1="502.6" y1="255.5" x2="508.2" y2="255.5" stroke="#111" stroke-width="1.2"/>
<line x1="502.6" y1="269.3" x2="508.2" y2="269.3" stroke="#111" stroke-width="1.2"/>
<circle cx="512.9" cy="260.6" r="1.25" fill="#111"/>
<circle cx="512.9" cy="264.2" r="1.25" fill="#111"/>
<text x="418.6" y="227.4" font-size="8.5" text-anchor="end" font-weight="normal" fill="#1a1a1a" stroke="#1a1a1a" stroke-width="0.22">SP53</text>
<text x="418.6" y="265" font-size="8.6" text-anchor="end" font-weight="normal" fill="#1a1a1a" stroke="#1a1a1a" stroke-width="0.22">Jeko</text>
<text x="465.5" y="307.2" font-size="10" text-anchor="middle" font-weight="normal" fill="#1a1a1a" stroke="#1a1a1a" stroke-width="0.22" textLength="102" lengthAdjust="spacingAndGlyphs">Cells in S phase (/control)</text>
<rect x="55.25" y="448" width="5.7" height="5.4" fill="#2f4a80" stroke="#223a68" stroke-width="0.5"/>
<rect x="61.45" y="444.23" width="6.8" height="9.17" fill="#a6062c" stroke="#85001f" stroke-width="0.5"/>
<line x1="64.85" y1="442.41" x2="64.85" y2="443.98" stroke="#151515" stroke-width="1"/>
<line x1="62.65" y1="442.41" x2="67.05" y2="442.41" stroke="#151515" stroke-width="1.2"/>
<circle cx="62.7" cy="437.41" r="1.25" fill="#111"/>
<circle cx="66.7" cy="437.41" r="1.25" fill="#111"/>
<text x="64.8" y="465.7" font-size="8.1" text-anchor="end" font-weight="normal" fill="#1a1a1a" stroke="#1a1a1a" stroke-width="0.22" transform="rotate(-45 64.8 465.7)">CDK4</text>
<rect x="77.85" y="448" width="5.7" height="5.4" fill="#2f4a80" stroke="#223a68" stroke-width="0.5"/>
<rect x="84.05" y="420.67" width="6.8" height="32.73" fill="#a6062c" stroke="#85001f" stroke-width="0.5"/>
<line x1="87.45" y1="414.14" x2="87.45" y2="420.42" stroke="#151515" stroke-width="1"/>
<line x1="85.25" y1="414.14" x2="89.65" y2="414.14" stroke="#151515" stroke-width="1.2"/>
<circle cx="85.3" cy="409.14" r="1.25" fill="#111"/>
<circle cx="89.3" cy="409.14" r="1.25" fill="#111"/>
<text x="87.4" y="465.7" font-size="8.1" text-anchor="end" font-weight="normal" fill="#1a1a1a" stroke="#1a1a1a" stroke-width="0.22" transform="rotate(-45 87.4 465.7)">CDK6</text>
<rect x="100.45" y="448" width="5.7" height="5.4" fill="#2f4a80" stroke="#223a68" stroke-width="0.5"/>
<rect x="106.65" y="439.52" width="6.8" height="13.88" fill="#a6062c" stroke="#85001f" stroke-width="0.5"/>
<line x1="110.05" y1="437.43" x2="110.05" y2="439.27" stroke="#151515" stroke-width="1"/>
<line x1="107.85" y1="437.43" x2="112.25" y2="437.43" stroke="#151515" stroke-width="1.2"/>
<circle cx="109.9" cy="432.43" r="1.25" fill="#111"/>
<text x="110" y="465.7" font-size="8.1" text-anchor="end" font-weight="normal" fill="#1a1a1a" stroke="#1a1a1a" stroke-width="0.22" transform="rotate(-45 110 465.7)">CCND3</text>
<rect x="123.05" y="448" width="5.7" height="5.4" fill="#2f4a80" stroke="#223a68" stroke-width="0.5"/>
<rect x="129.25" y="395.02" width="6.8" height="58.38" fill="#a6062c" stroke="#85001f" stroke-width="0.5"/>
<line x1="132.65" y1="389.01" x2="132.65" y2="394.77" stroke="#151515" stroke-width="1"/>
<line x1="130.45" y1="389.01" x2="134.85" y2="389.01" stroke="#151515" stroke-width="1.2"/>
<circle cx="130.5" cy="384.01" r="1.25" fill="#111"/>
<circle cx="134.5" cy="384.01" r="1.25" fill="#111"/>
<text x="132.6" y="465.7" font-size="8.1" text-anchor="end" font-weight="normal" fill="#1a1a1a" stroke="#1a1a1a" stroke-width="0.22" transform="rotate(-45 132.6 465.7)">CCNE1</text>
<rect x="145.65" y="448" width="5.7" height="5.4" fill="#2f4a80" stroke="#223a68" stroke-width="0.5"/>
<rect x="151.85" y="446.84" width="6.8" height="6.56" fill="#a6062c" stroke="#85001f" stroke-width="0.5"/>
<line x1="148.5" y1="445.39" x2="148.5" y2="447.75" stroke="#151515" stroke-width="1"/>
<line x1="146.4" y1="445.39" x2="150.6" y2="445.39" stroke="#151515" stroke-width="1.2"/>
<line x1="155.25" y1="446.07" x2="155.25" y2="446.59" stroke="#151515" stroke-width="1"/>
<line x1="153.05" y1="446.07" x2="157.45" y2="446.07" stroke="#151515" stroke-width="1.2"/>
<text x="155.1" y="442.07" font-size="7.6" text-anchor="middle" font-weight="normal" fill="#1a1a1a" stroke="#1a1a1a" stroke-width="0.21">NS</text>
<text x="155.2" y="465.7" font-size="8.1" text-anchor="end" font-weight="normal" fill="#1a1a1a" stroke="#1a1a1a" stroke-width="0.22" transform="rotate(-45 155.2 465.7)">CCNA2</text>
<rect x="168.25" y="448" width="5.7" height="5.4" fill="#2f4a80" stroke="#223a68" stroke-width="0.5"/>
<rect x="174.45" y="381.93" width="6.8" height="71.47" fill="#a6062c" stroke="#85001f" stroke-width="0.5"/>
<line x1="171.1" y1="445.13" x2="171.1" y2="447.75" stroke="#151515" stroke-width="1"/>
<line x1="169" y1="445.13" x2="173.2" y2="445.13" stroke="#151515" stroke-width="1.2"/>
<line x1="177.85" y1="378.8" x2="177.85" y2="381.68" stroke="#151515" stroke-width="1"/>
<line x1="175.65" y1="378.8" x2="180.05" y2="378.8" stroke="#151515" stroke-width="1.2"/>
<circle cx="175.7" cy="373.8" r="1.25" fill="#111"/>
<circle cx="179.7" cy="373.8" r="1.25" fill="#111"/>
<text x="177.8" y="465.7" font-size="8.1" text-anchor="end" font-weight="normal" fill="#1a1a1a" stroke="#1a1a1a" stroke-width="0.22" transform="rotate(-45 177.8 465.7)">CDK2</text>
<rect x="190.85" y="448" width="5.7" height="5.4" fill="#2f4a80" stroke="#223a68" stroke-width="0.5"/>
<rect x="197.05" y="448.41" width="6.8" height="4.99" fill="#a6062c" stroke="#85001f" stroke-width="0.5"/>
<line x1="200.45" y1="447.9" x2="200.45" y2="448.16" stroke="#151515" stroke-width="1"/>
<line x1="198.25" y1="447.9" x2="202.65" y2="447.9" stroke="#151515" stroke-width="1.2"/>
<text x="200.3" y="443.9" font-size="7.6" text-anchor="middle" font-weight="normal" fill="#1a1a1a" stroke="#1a1a1a" stroke-width="0.21">NS</text>
<text x="200.4" y="465.7" font-size="8.1" text-anchor="end" font-weight="normal" fill="#1a1a1a" stroke="#1a1a1a" stroke-width="0.22" transform="rotate(-45 200.4 465.7)">CDK1</text>
<rect x="213.45" y="448" width="5.7" height="5.4" fill="#2f4a80" stroke="#223a68" stroke-width="0.5"/>
<rect x="219.65" y="441.61" width="6.8" height="11.79" fill="#a6062c" stroke="#85001f" stroke-width="0.5"/>
<line x1="216.3" y1="444.87" x2="216.3" y2="447.75" stroke="#151515" stroke-width="1"/>
<line x1="214.2" y1="444.87" x2="218.4" y2="444.87" stroke="#151515" stroke-width="1.2"/>
<line x1="223.05" y1="440.84" x2="223.05" y2="441.36" stroke="#151515" stroke-width="1"/>
<line x1="220.85" y1="440.84" x2="225.25" y2="440.84" stroke="#151515" stroke-width="1.2"/>
<text x="222.9" y="436.84" font-size="7.6" text-anchor="middle" font-weight="normal" fill="#1a1a1a" stroke="#1a1a1a" stroke-width="0.21">NS</text>
<text x="223" y="465.7" font-size="8.1" text-anchor="end" font-weight="normal" fill="#1a1a1a" stroke="#1a1a1a" stroke-width="0.22" transform="rotate(-45 223 465.7)">CCNB1</text>
<rect x="236.05" y="448" width="5.7" height="5.4" fill="#2f4a80" stroke="#223a68" stroke-width="0.5"/>
<rect x="242.25" y="436.37" width="6.8" height="17.03" fill="#a6062c" stroke="#85001f" stroke-width="0.5"/>
<line x1="245.65" y1="435.6" x2="245.65" y2="436.12" stroke="#151515" stroke-width="1"/>
<line x1="243.45" y1="435.6" x2="247.85" y2="435.6" stroke="#151515" stroke-width="1.2"/>
<circle cx="243.5" cy="430.6" r="1.25" fill="#111"/>
<circle cx="247.5" cy="430.6" r="1.25" fill="#111"/>
<text x="245.6" y="465.7" font-size="8.1" text-anchor="end" font-weight="normal" fill="#1a1a1a" stroke="#1a1a1a" stroke-width="0.22" transform="rotate(-45 245.6 465.7)">CCNB2</text>
<rect x="258.65" y="448" width="5.7" height="5.4" fill="#2f4a80" stroke="#223a68" stroke-width="0.5"/>
<rect x="264.85" y="442.13" width="6.8" height="11.27" fill="#a6062c" stroke="#85001f" stroke-width="0.5"/>
<line x1="268.25" y1="439.53" x2="268.25" y2="441.88" stroke="#151515" stroke-width="1"/>
<line x1="266.05" y1="439.53" x2="270.45" y2="439.53" stroke="#151515" stroke-width="1.2"/>
<text x="268.1" y="435.53" font-size="7.6" text-anchor="middle" font-weight="normal" fill="#1a1a1a" stroke="#1a1a1a" stroke-width="0.21">NS</text>
<text x="268.2" y="465.7" font-size="8.1" text-anchor="end" font-weight="normal" fill="#1a1a1a" stroke="#1a1a1a" stroke-width="0.22" transform="rotate(-45 268.2 465.7)">SKP2</text>
<rect x="281.25" y="448" width="5.7" height="5.4" fill="#2f4a80" stroke="#223a68" stroke-width="0.5"/>
<rect x="287.45" y="437.42" width="6.8" height="15.98" fill="#a6062c" stroke="#85001f" stroke-width="0.5"/>
<line x1="284.1" y1="445.65" x2="284.1" y2="447.75" stroke="#151515" stroke-width="1"/>
<line x1="282" y1="445.65" x2="286.2" y2="445.65" stroke="#151515" stroke-width="1.2"/>
<line x1="290.85" y1="436.54" x2="290.85" y2="437.17" stroke="#151515" stroke-width="1"/>
<line x1="288.65" y1="436.54" x2="293.05" y2="436.54" stroke="#151515" stroke-width="1.2"/>
<circle cx="290.7" cy="431.54" r="1.25" fill="#111"/>
<text x="290.8" y="465.7" font-size="8.1" text-anchor="end" font-weight="normal" fill="#1a1a1a" stroke="#1a1a1a" stroke-width="0.22" transform="rotate(-45 290.8 465.7)">E2F4</text>
<rect x="303.85" y="448" width="5.7" height="5.4" fill="#2f4a80" stroke="#223a68" stroke-width="0.5"/>
<rect x="310.05" y="431.14" width="6.8" height="22.26" fill="#a6062c" stroke="#85001f" stroke-width="0.5"/>
<line x1="306.7" y1="445.13" x2="306.7" y2="447.75" stroke="#151515" stroke-width="1"/>
<line x1="304.6" y1="445.13" x2="308.8" y2="445.13" stroke="#151515" stroke-width="1.2"/>
<line x1="313.45" y1="429.58" x2="313.45" y2="430.89" stroke="#151515" stroke-width="1"/>
<line x1="311.25" y1="429.58" x2="315.65" y2="429.58" stroke="#151515" stroke-width="1.2"/>
<circle cx="313.3" cy="424.58" r="1.25" fill="#111"/>
<text x="313.4" y="465.7" font-size="8.1" text-anchor="end" font-weight="normal" fill="#1a1a1a" stroke="#1a1a1a" stroke-width="0.22" transform="rotate(-45 313.4 465.7)">TFDP1</text>
<rect x="326.45" y="448" width="5.7" height="5.4" fill="#2f4a80" stroke="#223a68" stroke-width="0.5"/>
<rect x="332.65" y="452.6" width="6.8" height="0.8" fill="#a6062c" stroke="#85001f" stroke-width="0.5"/>
<line x1="336.05" y1="452.09" x2="336.05" y2="452.35" stroke="#151515" stroke-width="1"/>
<line x1="333.85" y1="452.09" x2="338.25" y2="452.09" stroke="#151515" stroke-width="1.2"/>
<circle cx="335.9" cy="447.09" r="1.25" fill="#111"/>
<text x="336" y="465.7" font-size="8.1" text-anchor="end" font-weight="normal" fill="#1a1a1a" stroke="#1a1a1a" stroke-width="0.22" transform="rotate(-45 336 465.7)">TP53</text>
<rect x="349.05" y="448" width="5.7" height="5.4" fill="#2f4a80" stroke="#223a68" stroke-width="0.5"/>
<rect x="355.25" y="449.2" width="6.8" height="4.2" fill="#a6062c" stroke="#85001f" stroke-width="0.5"/>
<line x1="351.9" y1="446.44" x2="351.9" y2="447.75" stroke="#151515" stroke-width="1"/>
<line x1="349.8" y1="446.44" x2="354" y2="446.44" stroke="#151515" stroke-width="1.2"/>
<line x1="358.65" y1="448.69" x2="358.65" y2="448.95" stroke="#151515" stroke-width="1"/>
<line x1="356.45" y1="448.69" x2="360.85" y2="448.69" stroke="#151515" stroke-width="1.2"/>
<text x="358.5" y="444.69" font-size="7.6" text-anchor="middle" font-weight="normal" fill="#1a1a1a" stroke="#1a1a1a" stroke-width="0.21">NS</text>
<text x="358.6" y="465.7" font-size="8.1" text-anchor="end" font-weight="normal" fill="#1a1a1a" stroke="#1a1a1a" stroke-width="0.22" transform="rotate(-45 358.6 465.7)">CDKN1A</text>
<rect x="371.65" y="448" width="5.7" height="5.4" fill="#2f4a80" stroke="#223a68" stroke-width="0.5"/>
<rect x="377.85" y="453.23" width="6.8" height="0.17" fill="#a6062c" stroke="#85001f" stroke-width="0.5"/>
<circle cx="379.1" cy="447.98" r="1.25" fill="#111"/>
<circle cx="383.1" cy="447.98" r="1.25" fill="#111"/>
<text x="381.2" y="465.7" font-size="8.1" text-anchor="end" font-weight="normal" fill="#1a1a1a" stroke="#1a1a1a" stroke-width="0.22" transform="rotate(-45 381.2 465.7)">CDKN1B</text>
<rect x="394.25" y="448" width="5.7" height="5.4" fill="#2f4a80" stroke="#223a68" stroke-width="0.5"/>
<rect x="400.45" y="449.2" width="6.8" height="4.2" fill="#a6062c" stroke="#85001f" stroke-width="0.5"/>
<line x1="403.85" y1="448.69" x2="403.85" y2="448.95" stroke="#151515" stroke-width="1"/>
<line x1="401.65" y1="448.69" x2="406.05" y2="448.69" stroke="#151515" stroke-width="1.2"/>
<text x="403.7" y="444.69" font-size="7.6" text-anchor="middle" font-weight="normal" fill="#1a1a1a" stroke="#1a1a1a" stroke-width="0.21">NS</text>
<text x="403.8" y="465.7" font-size="8.1" text-anchor="end" font-weight="normal" fill="#1a1a1a" stroke="#1a1a1a" stroke-width="0.22" transform="rotate(-45 403.8 465.7)">RB1</text>
<line x1="50.2" y1="367.7" x2="50.2" y2="454" stroke="#111" stroke-width="1.3"/>
<line x1="47.4" y1="453.4" x2="50.2" y2="453.4" stroke="#111" stroke-width="1"/>
<text x="44.3" y="456.3" font-size="8.2" text-anchor="end" font-weight="normal" fill="#1a1a1a" stroke="#1a1a1a" stroke-width="0.22" textLength="4.38" lengthAdjust="spacingAndGlyphs">0</text>
<line x1="47.4" y1="442.93" x2="50.2" y2="442.93" stroke="#111" stroke-width="1"/>
<text x="44.3" y="445.83" font-size="8.2" text-anchor="end" font-weight="normal" fill="#1a1a1a" stroke="#1a1a1a" stroke-width="0.22" textLength="4.38" lengthAdjust="spacingAndGlyphs">2</text>
<line x1="47.4" y1="432.46" x2="50.2" y2="432.46" stroke="#111" stroke-width="1"/>
<text x="44.3" y="435.36" font-size="8.2" text-anchor="end" font-weight="normal" fill="#1a1a1a" stroke="#1a1a1a" stroke-width="0.22" textLength="4.38" lengthAdjust="spacingAndGlyphs">4</text>
<line x1="47.4" y1="421.99" x2="50.2" y2="421.99" stroke="#111" stroke-width="1"/>
<text x="44.3" y="424.89" font-size="8.2" text-anchor="end" font-weight="normal" fill="#1a1a1a" stroke="#1a1a1a" stroke-width="0.22" textLength="4.38" lengthAdjust="spacingAndGlyphs">6</text>
<line x1="47.4" y1="411.52" x2="50.2" y2="411.52" stroke="#111" stroke-width="1"/>
<text x="44.3" y="414.42" font-size="8.2" text-anchor="end" font-weight="normal" fill="#1a1a1a" stroke="#1a1a1a" stroke-width="0.22" textLength="4.38" lengthAdjust="spacingAndGlyphs">8</text>
<line x1="47.4" y1="401.05" x2="50.2" y2="401.05" stroke="#111" stroke-width="1"/>
<text x="44.3" y="403.95" font-size="8.2" text-anchor="end" font-weight="normal" fill="#1a1a1a" stroke="#1a1a1a" stroke-width="0.22" textLength="8.76" lengthAdjust="spacingAndGlyphs">10</text>
<line x1="47.4" y1="390.58" x2="50.2" y2="390.58" stroke="#111" stroke-width="1"/>
<text x="44.3" y="393.48" font-size="8.2" text-anchor="end" font-weight="normal" fill="#1a1a1a" stroke="#1a1a1a" stroke-width="0.22" textLength="8.76" lengthAdjust="spacingAndGlyphs">12</text>
<line x1="47.4" y1="380.11" x2="50.2" y2="380.11" stroke="#111" stroke-width="1"/>
<text x="44.3" y="383.01" font-size="8.2" text-anchor="end" font-weight="normal" fill="#1a1a1a" stroke="#1a1a1a" stroke-width="0.22" textLength="8.76" lengthAdjust="spacingAndGlyphs">14</text>
<line x1="47.4" y1="369.64" x2="50.2" y2="369.64" stroke="#111" stroke-width="1"/>
<text x="44.3" y="372.54" font-size="8.2" text-anchor="end" font-weight="normal" fill="#1a1a1a" stroke="#1a1a1a" stroke-width="0.22" textLength="8.76" lengthAdjust="spacingAndGlyphs">16</text>
<line x1="49.6" y1="453.4" x2="415" y2="453.4" stroke="#111" stroke-width="1.4"/>
<line x1="50.2" y1="453.4" x2="50.2" y2="456.6" stroke="#111" stroke-width="1"/>
<line x1="72.8" y1="453.4" x2="72.8" y2="456.6" stroke="#111" stroke-width="1"/>
<line x1="95.4" y1="453.4" x2="95.4" y2="456.6" stroke="#111" stroke-width="1"/>
<line x1="118" y1="453.4" x2="118" y2="456.6" stroke="#111" stroke-width="1"/>
<line x1="140.6" y1="453.4" x2="140.6" y2="456.6" stroke="#111" stroke-width="1"/>
<line x1="163.2" y1="453.4" x2="163.2" y2="456.6" stroke="#111" stroke-width="1"/>
<line x1="185.8" y1="453.4" x2="185.8" y2="456.6" stroke="#111" stroke-width="1"/>
<line x1="208.4" y1="453.4" x2="208.4" y2="456.6" stroke="#111" stroke-width="1"/>
<line x1="231" y1="453.4" x2="231" y2="456.6" stroke="#111" stroke-width="1"/>
<line x1="253.6" y1="453.4" x2="253.6" y2="456.6" stroke="#111" stroke-width="1"/>
<line x1="276.2" y1="453.4" x2="276.2" y2="456.6" stroke="#111" stroke-width="1"/>
<line x1="298.8" y1="453.4" x2="298.8" y2="456.6" stroke="#111" stroke-width="1"/>
<line x1="321.4" y1="453.4" x2="321.4" y2="456.6" stroke="#111" stroke-width="1"/>
<line x1="344" y1="453.4" x2="344" y2="456.6" stroke="#111" stroke-width="1"/>
<line x1="366.6" y1="453.4" x2="366.6" y2="456.6" stroke="#111" stroke-width="1"/>
<line x1="389.2" y1="453.4" x2="389.2" y2="456.6" stroke="#111" stroke-width="1"/>
<line x1="411.8" y1="453.4" x2="411.8" y2="456.6" stroke="#111" stroke-width="1"/>
<rect x="55.25" y="599.17" width="6.4" height="9.13" fill="#2f4a80" stroke="#223a68" stroke-width="0.5"/>
<rect x="62.15" y="595.7" width="7.1" height="12.6" fill="#a6062c" stroke="#85001f" stroke-width="0.5"/>
<line x1="65.7" y1="594.7" x2="65.7" y2="595.45" stroke="#151515" stroke-width="1"/>
<line x1="63.5" y1="594.7" x2="67.9" y2="594.7" stroke="#151515" stroke-width="1.2"/>
<circle cx="65.4" cy="590.1" r="1.25" fill="#111"/>
<text x="65.5" y="620.6" font-size="8.1" text-anchor="end" font-weight="normal" fill="#1a1a1a" stroke="#1a1a1a" stroke-width="0.22" transform="rotate(-45 65.5 620.6)">CDK4</text>
<rect x="79.25" y="599.17" width="6.4" height="9.13" fill="#2f4a80" stroke="#223a68" stroke-width="0.5"/>
<rect x="86.15" y="534.45" width="7.1" height="73.85" fill="#a6062c" stroke="#85001f" stroke-width="0.5"/>
<line x1="89.7" y1="529.51" x2="89.7" y2="534.2" stroke="#151515" stroke-width="1"/>
<line x1="87.5" y1="529.51" x2="91.9" y2="529.51" stroke="#151515" stroke-width="1.2"/>
<circle cx="87.4" cy="524.91" r="1.25" fill="#111"/>
<circle cx="91.4" cy="524.91" r="1.25" fill="#111"/>
<text x="89.5" y="620.6" font-size="8.1" text-anchor="end" font-weight="normal" fill="#1a1a1a" stroke="#1a1a1a" stroke-width="0.22" transform="rotate(-45 89.5 620.6)">CDK6</text>
<rect x="103.25" y="599.17" width="6.4" height="9.13" fill="#2f4a80" stroke="#223a68" stroke-width="0.5"/>
<rect x="110.15" y="583.22" width="7.1" height="25.08" fill="#a6062c" stroke="#85001f" stroke-width="0.5"/>
<line x1="113.7" y1="577.81" x2="113.7" y2="582.97" stroke="#151515" stroke-width="1"/>
<line x1="111.5" y1="577.81" x2="115.9" y2="577.81" stroke="#151515" stroke-width="1.2"/>
<circle cx="113.4" cy="573.21" r="1.25" fill="#111"/>
<text x="113.5" y="620.6" font-size="8.1" text-anchor="end" font-weight="normal" fill="#1a1a1a" stroke="#1a1a1a" stroke-width="0.22" transform="rotate(-45 113.5 620.6)">CCND3</text>
<rect x="127.25" y="599.17" width="6.4" height="9.13" fill="#2f4a80" stroke="#223a68" stroke-width="0.5"/>
<rect x="134.15" y="585.1" width="7.1" height="23.2" fill="#a6062c" stroke="#85001f" stroke-width="0.5"/>
<line x1="130.45" y1="595.64" x2="130.45" y2="598.92" stroke="#151515" stroke-width="1"/>
<line x1="128.35" y1="595.64" x2="132.55" y2="595.64" stroke="#151515" stroke-width="1.2"/>
<line x1="137.7" y1="581.57" x2="137.7" y2="584.85" stroke="#151515" stroke-width="1"/>
<line x1="135.5" y1="581.57" x2="139.9" y2="581.57" stroke="#151515" stroke-width="1.2"/>
<circle cx="137.4" cy="576.97" r="1.25" fill="#111"/>
<text x="137.5" y="620.6" font-size="8.1" text-anchor="end" font-weight="normal" fill="#1a1a1a" stroke="#1a1a1a" stroke-width="0.22" transform="rotate(-45 137.5 620.6)">CCNE1</text>
<rect x="151.25" y="599.17" width="6.4" height="9.13" fill="#2f4a80" stroke="#223a68" stroke-width="0.5"/>
<rect x="158.15" y="596.36" width="7.1" height="11.94" fill="#a6062c" stroke="#85001f" stroke-width="0.5"/>
<line x1="161.7" y1="594.7" x2="161.7" y2="596.11" stroke="#151515" stroke-width="1"/>
<line x1="159.5" y1="594.7" x2="163.9" y2="594.7" stroke="#151515" stroke-width="1.2"/>
<text x="161.4" y="592.3" font-size="7.6" text-anchor="middle" font-weight="normal" fill="#1a1a1a" stroke="#1a1a1a" stroke-width="0.21">NS</text>
<text x="161.5" y="620.6" font-size="8.1" text-anchor="end" font-weight="normal" fill="#1a1a1a" stroke="#1a1a1a" stroke-width="0.22" transform="rotate(-45 161.5 620.6)">CCNA2</text>
<rect x="175.25" y="599.17" width="6.4" height="9.13" fill="#2f4a80" stroke="#223a68" stroke-width="0.5"/>
<rect x="182.15" y="587.91" width="7.1" height="20.39" fill="#a6062c" stroke="#85001f" stroke-width="0.5"/>
<line x1="185.7" y1="586.91" x2="185.7" y2="587.66" stroke="#151515" stroke-width="1"/>
<line x1="183.5" y1="586.91" x2="187.9" y2="586.91" stroke="#151515" stroke-width="1.2"/>
<circle cx="183.4" cy="582.31" r="1.25" fill="#111"/>
<circle cx="187.4" cy="582.31" r="1.25" fill="#111"/>
<text x="185.5" y="620.6" font-size="8.1" text-anchor="end" font-weight="normal" fill="#1a1a1a" stroke="#1a1a1a" stroke-width="0.22" transform="rotate(-45 185.5 620.6)">CDK2</text>
<rect x="199.25" y="599.17" width="6.4" height="9.13" fill="#2f4a80" stroke="#223a68" stroke-width="0.5"/>
<rect x="206.15" y="582.75" width="7.1" height="25.55" fill="#a6062c" stroke="#85001f" stroke-width="0.5"/>
<line x1="209.7" y1="580.16" x2="209.7" y2="582.5" stroke="#151515" stroke-width="1"/>
<line x1="207.5" y1="580.16" x2="211.9" y2="580.16" stroke="#151515" stroke-width="1.2"/>
<circle cx="207.4" cy="575.56" r="1.25" fill="#111"/>
<circle cx="211.4" cy="575.56" r="1.25" fill="#111"/>
<text x="209.5" y="620.6" font-size="8.1" text-anchor="end" font-weight="normal" fill="#1a1a1a" stroke="#1a1a1a" stroke-width="0.22" transform="rotate(-45 209.5 620.6)">CDK1</text>
<rect x="223.25" y="599.17" width="6.4" height="9.13" fill="#2f4a80" stroke="#223a68" stroke-width="0.5"/>
<rect x="230.15" y="583.51" width="7.1" height="24.79" fill="#a6062c" stroke="#85001f" stroke-width="0.5"/>
<line x1="233.7" y1="579.03" x2="233.7" y2="583.26" stroke="#151515" stroke-width="1"/>
<line x1="231.5" y1="579.03" x2="235.9" y2="579.03" stroke="#151515" stroke-width="1.2"/>
<circle cx="233.4" cy="574.43" r="1.25" fill="#111"/>
<text x="233.5" y="620.6" font-size="8.1" text-anchor="end" font-weight="normal" fill="#1a1a1a" stroke="#1a1a1a" stroke-width="0.22" transform="rotate(-45 233.5 620.6)">CCNB1</text>
<rect x="247.25" y="599.17" width="6.4" height="9.13" fill="#2f4a80" stroke="#223a68" stroke-width="0.5"/>
<rect x="254.15" y="584.16" width="7.1" height="24.14" fill="#a6062c" stroke="#85001f" stroke-width="0.5"/>
<line x1="257.7" y1="583.44" x2="257.7" y2="583.91" stroke="#151515" stroke-width="1"/>
<line x1="255.5" y1="583.44" x2="259.9" y2="583.44" stroke="#151515" stroke-width="1.2"/>
<circle cx="255.4" cy="578.84" r="1.25" fill="#111"/>
<circle cx="259.4" cy="578.84" r="1.25" fill="#111"/>
<text x="257.5" y="620.6" font-size="8.1" text-anchor="end" font-weight="normal" fill="#1a1a1a" stroke="#1a1a1a" stroke-width="0.22" transform="rotate(-45 257.5 620.6)">CCNB2</text>
<rect x="271.25" y="599.17" width="6.4" height="9.13" fill="#2f4a80" stroke="#223a68" stroke-width="0.5"/>
<rect x="278.15" y="594.48" width="7.1" height="13.82" fill="#a6062c" stroke="#85001f" stroke-width="0.5"/>
<line x1="281.7" y1="593.48" x2="281.7" y2="594.23" stroke="#151515" stroke-width="1"/>
<line x1="279.5" y1="593.48" x2="283.9" y2="593.48" stroke="#151515" stroke-width="1.2"/>
<circle cx="281.4" cy="588.88" r="1.25" fill="#111"/>
<text x="281.5" y="620.6" font-size="8.1" text-anchor="end" font-weight="normal" fill="#1a1a1a" stroke="#1a1a1a" stroke-width="0.22" transform="rotate(-45 281.5 620.6)">SKP2</text>
<rect x="295.25" y="599.17" width="6.4" height="9.13" fill="#2f4a80" stroke="#223a68" stroke-width="0.5"/>
<rect x="302.15" y="597.58" width="7.1" height="10.72" fill="#a6062c" stroke="#85001f" stroke-width="0.5"/>
<line x1="298.45" y1="597.98" x2="298.45" y2="598.92" stroke="#151515" stroke-width="1"/>
<line x1="296.35" y1="597.98" x2="300.55" y2="597.98" stroke="#151515" stroke-width="1.2"/>
<line x1="305.7" y1="594.51" x2="305.7" y2="597.33" stroke="#151515" stroke-width="1"/>
<line x1="303.5" y1="594.51" x2="307.9" y2="594.51" stroke="#151515" stroke-width="1.2"/>
<text x="305.4" y="592.11" font-size="7.6" text-anchor="middle" font-weight="normal" fill="#1a1a1a" stroke="#1a1a1a" stroke-width="0.21">NS</text>
<text x="305.5" y="620.6" font-size="8.1" text-anchor="end" font-weight="normal" fill="#1a1a1a" stroke="#1a1a1a" stroke-width="0.22" transform="rotate(-45 305.5 620.6)">E2F4</text>
<rect x="319.25" y="599.17" width="6.4" height="9.13" fill="#2f4a80" stroke="#223a68" stroke-width="0.5"/>
<rect x="326.15" y="591.67" width="7.1" height="16.63" fill="#a6062c" stroke="#85001f" stroke-width="0.5"/>
<line x1="329.7" y1="590.29" x2="329.7" y2="591.42" stroke="#151515" stroke-width="1"/>
<line x1="327.5" y1="590.29" x2="331.9" y2="590.29" stroke="#151515" stroke-width="1.2"/>
<circle cx="327.4" cy="585.69" r="1.25" fill="#111"/>
<circle cx="331.4" cy="585.69" r="1.25" fill="#111"/>
<text x="329.5" y="620.6" font-size="8.1" text-anchor="end" font-weight="normal" fill="#1a1a1a" stroke="#1a1a1a" stroke-width="0.22" transform="rotate(-45 329.5 620.6)">TFDP1</text>
<rect x="343.25" y="599.17" width="6.4" height="9.13" fill="#2f4a80" stroke="#223a68" stroke-width="0.5"/>
<rect x="350.15" y="603.86" width="7.1" height="4.44" fill="#a6062c" stroke="#85001f" stroke-width="0.5"/>
<line x1="353.7" y1="603.14" x2="353.7" y2="603.61" stroke="#151515" stroke-width="1"/>
<line x1="351.5" y1="603.14" x2="355.9" y2="603.14" stroke="#151515" stroke-width="1.2"/>
<circle cx="353.4" cy="598.54" r="1.25" fill="#111"/>
<text x="353.5" y="620.6" font-size="8.1" text-anchor="end" font-weight="normal" fill="#1a1a1a" stroke="#1a1a1a" stroke-width="0.22" transform="rotate(-45 353.5 620.6)">CDKN1A</text>
<rect x="367.25" y="599.17" width="6.4" height="9.13" fill="#2f4a80" stroke="#223a68" stroke-width="0.5"/>
<rect x="374.15" y="601.7" width="7.1" height="6.6" fill="#a6062c" stroke="#85001f" stroke-width="0.5"/>
<line x1="377.7" y1="600.98" x2="377.7" y2="601.45" stroke="#151515" stroke-width="1"/>
<line x1="375.5" y1="600.98" x2="379.9" y2="600.98" stroke="#151515" stroke-width="1.2"/>
<circle cx="377.4" cy="596.38" r="1.25" fill="#111"/>
<text x="377.5" y="620.6" font-size="8.1" text-anchor="end" font-weight="normal" fill="#1a1a1a" stroke="#1a1a1a" stroke-width="0.22" transform="rotate(-45 377.5 620.6)">CDKN1B</text>
<rect x="391.25" y="599.17" width="6.4" height="9.13" fill="#2f4a80" stroke="#223a68" stroke-width="0.5"/>
<rect x="398.15" y="604.61" width="7.1" height="3.69" fill="#a6062c" stroke="#85001f" stroke-width="0.5"/>
<line x1="394.45" y1="596.57" x2="394.45" y2="598.92" stroke="#151515" stroke-width="1"/>
<line x1="392.35" y1="596.57" x2="396.55" y2="596.57" stroke="#151515" stroke-width="1.2"/>
<line x1="401.7" y1="603.89" x2="401.7" y2="604.36" stroke="#151515" stroke-width="1"/>
<line x1="399.5" y1="603.89" x2="403.9" y2="603.89" stroke="#151515" stroke-width="1.2"/>
<circle cx="401.4" cy="599.29" r="1.25" fill="#111"/>
<text x="401.5" y="620.6" font-size="8.1" text-anchor="end" font-weight="normal" fill="#1a1a1a" stroke="#1a1a1a" stroke-width="0.22" transform="rotate(-45 401.5 620.6)">RB1</text>
<line x1="50.2" y1="522.3" x2="50.2" y2="608.9" stroke="#111" stroke-width="1.3"/>
<line x1="47.4" y1="608.3" x2="50.2" y2="608.3" stroke="#111" stroke-width="1"/>
<text x="44.3" y="611.2" font-size="8.2" text-anchor="end" font-weight="normal" fill="#1a1a1a" stroke="#1a1a1a" stroke-width="0.22" textLength="4.38" lengthAdjust="spacingAndGlyphs">0</text>
<line x1="47.4" y1="598.92" x2="50.2" y2="598.92" stroke="#111" stroke-width="1"/>
<text x="44.3" y="601.82" font-size="8.2" text-anchor="end" font-weight="normal" fill="#1a1a1a" stroke="#1a1a1a" stroke-width="0.22" textLength="4.38" lengthAdjust="spacingAndGlyphs">1</text>
<line x1="47.4" y1="589.54" x2="50.2" y2="589.54" stroke="#111" stroke-width="1"/>
<text x="44.3" y="592.44" font-size="8.2" text-anchor="end" font-weight="normal" fill="#1a1a1a" stroke="#1a1a1a" stroke-width="0.22" textLength="4.38" lengthAdjust="spacingAndGlyphs">2</text>
<line x1="47.4" y1="580.16" x2="50.2" y2="580.16" stroke="#111" stroke-width="1"/>
<text x="44.3" y="583.06" font-size="8.2" text-anchor="end" font-weight="normal" fill="#1a1a1a" stroke="#1a1a1a" stroke-width="0.22" textLength="4.38" lengthAdjust="spacingAndGlyphs">3</text>
<line x1="47.4" y1="570.78" x2="50.2" y2="570.78" stroke="#111" stroke-width="1"/>
<text x="44.3" y="573.68" font-size="8.2" text-anchor="end" font-weight="normal" fill="#1a1a1a" stroke="#1a1a1a" stroke-width="0.22" textLength="4.38" lengthAdjust="spacingAndGlyphs">4</text>
<line x1="47.4" y1="561.4" x2="50.2" y2="561.4" stroke="#111" stroke-width="1"/>
<text x="44.3" y="564.3" font-size="8.2" text-anchor="end" font-weight="normal" fill="#1a1a1a" stroke="#1a1a1a" stroke-width="0.22" textLength="4.38" lengthAdjust="spacingAndGlyphs">5</text>
<line x1="47.4" y1="552.02" x2="50.2" y2="552.02" stroke="#111" stroke-width="1"/>
<text x="44.3" y="554.92" font-size="8.2" text-anchor="end" font-weight="normal" fill="#1a1a1a" stroke="#1a1a1a" stroke-width="0.22" textLength="4.38" lengthAdjust="spacingAndGlyphs">6</text>
<line x1="47.4" y1="542.64" x2="50.2" y2="542.64" stroke="#111" stroke-width="1"/>
<text x="44.3" y="545.54" font-size="8.2" text-anchor="end" font-weight="normal" fill="#1a1a1a" stroke="#1a1a1a" stroke-width="0.22" textLength="4.38" lengthAdjust="spacingAndGlyphs">7</text>
<line x1="47.4" y1="533.26" x2="50.2" y2="533.26" stroke="#111" stroke-width="1"/>
<text x="44.3" y="536.16" font-size="8.2" text-anchor="end" font-weight="normal" fill="#1a1a1a" stroke="#1a1a1a" stroke-width="0.22" textLength="4.38" lengthAdjust="spacingAndGlyphs">8</text>
<line x1="47.4" y1="523.88" x2="50.2" y2="523.88" stroke="#111" stroke-width="1"/>
<text x="44.3" y="526.78" font-size="8.2" text-anchor="end" font-weight="normal" fill="#1a1a1a" stroke="#1a1a1a" stroke-width="0.22" textLength="4.38" lengthAdjust="spacingAndGlyphs">9</text>
<line x1="49.6" y1="608.3" x2="413.4" y2="608.3" stroke="#111" stroke-width="1.4"/>
<line x1="50.2" y1="608.3" x2="50.2" y2="611.5" stroke="#111" stroke-width="1"/>
<line x1="74.2" y1="608.3" x2="74.2" y2="611.5" stroke="#111" stroke-width="1"/>
<line x1="98.2" y1="608.3" x2="98.2" y2="611.5" stroke="#111" stroke-width="1"/>
<line x1="122.2" y1="608.3" x2="122.2" y2="611.5" stroke="#111" stroke-width="1"/>
<line x1="146.2" y1="608.3" x2="146.2" y2="611.5" stroke="#111" stroke-width="1"/>
<line x1="170.2" y1="608.3" x2="170.2" y2="611.5" stroke="#111" stroke-width="1"/>
<line x1="194.2" y1="608.3" x2="194.2" y2="611.5" stroke="#111" stroke-width="1"/>
<line x1="218.2" y1="608.3" x2="218.2" y2="611.5" stroke="#111" stroke-width="1"/>
<line x1="242.2" y1="608.3" x2="242.2" y2="611.5" stroke="#111" stroke-width="1"/>
<line x1="266.2" y1="608.3" x2="266.2" y2="611.5" stroke="#111" stroke-width="1"/>
<line x1="290.2" y1="608.3" x2="290.2" y2="611.5" stroke="#111" stroke-width="1"/>
<line x1="314.2" y1="608.3" x2="314.2" y2="611.5" stroke="#111" stroke-width="1"/>
<line x1="338.2" y1="608.3" x2="338.2" y2="611.5" stroke="#111" stroke-width="1"/>
<line x1="362.2" y1="608.3" x2="362.2" y2="611.5" stroke="#111" stroke-width="1"/>
<line x1="386.2" y1="608.3" x2="386.2" y2="611.5" stroke="#111" stroke-width="1"/>
<line x1="410.2" y1="608.3" x2="410.2" y2="611.5" stroke="#111" stroke-width="1"/>
<line x1="45.4" y1="494.2" x2="179.1" y2="494.2" stroke="#000" stroke-width="1.4"/>
<line x1="45.4" y1="491" x2="45.4" y2="497.4" stroke="#000" stroke-width="1.3"/>
<line x1="179.1" y1="491" x2="179.1" y2="497.4" stroke="#000" stroke-width="1.3"/>
<text x="112.25" y="508" font-size="8.3" text-anchor="middle" font-weight="normal" fill="#1a1a1a" stroke="#1a1a1a" stroke-width="0.22">G1/S progression</text>
<line x1="182.3" y1="494.2" x2="242.9" y2="494.2" stroke="#000" stroke-width="1.4"/>
<line x1="182.3" y1="491" x2="182.3" y2="497.4" stroke="#000" stroke-width="1.3"/>
<line x1="242.9" y1="491" x2="242.9" y2="497.4" stroke="#000" stroke-width="1.3"/>
<text x="212.6" y="508" font-size="8.3" text-anchor="middle" font-weight="normal" fill="#1a1a1a" stroke="#1a1a1a" stroke-width="0.22">G2/M phase</text>
<line x1="252.5" y1="494.2" x2="312.3" y2="494.2" stroke="#000" stroke-width="1.4"/>
<line x1="252.5" y1="491" x2="252.5" y2="497.4" stroke="#000" stroke-width="1.3"/>
<line x1="312.3" y1="491" x2="312.3" y2="497.4" stroke="#000" stroke-width="1.3"/>
<text x="282.4" y="508" font-size="8.3" text-anchor="middle" font-weight="normal" fill="#1a1a1a" stroke="#1a1a1a" stroke-width="0.22">Cell cycle</text>
<text x="282.4" y="517.4" font-size="8.3" text-anchor="middle" font-weight="normal" fill="#1a1a1a" stroke="#1a1a1a" stroke-width="0.22">regulators</text>
<line x1="321" y1="494.2" x2="405.5" y2="494.2" stroke="#000" stroke-width="1.4"/>
<line x1="321" y1="491" x2="321" y2="497.4" stroke="#000" stroke-width="1.3"/>
<line x1="405.5" y1="491" x2="405.5" y2="497.4" stroke="#000" stroke-width="1.3"/>
<text x="363.25" y="508" font-size="8.3" text-anchor="middle" font-weight="normal" fill="#1a1a1a" stroke="#1a1a1a" stroke-width="0.22">Tumor suppressors</text>
<line x1="44.6" y1="650" x2="179.6" y2="650" stroke="#000" stroke-width="1.4"/>
<line x1="44.6" y1="646.8" x2="44.6" y2="653.2" stroke="#000" stroke-width="1.3"/>
<line x1="179.6" y1="646.8" x2="179.6" y2="653.2" stroke="#000" stroke-width="1.3"/>
<text x="112.1" y="663.6" font-size="8.3" text-anchor="middle" font-weight="normal" fill="#1a1a1a" stroke="#1a1a1a" stroke-width="0.22">G1/S progression</text>
<line x1="182.4" y1="650" x2="242.3" y2="650" stroke="#000" stroke-width="1.4"/>
<line x1="182.4" y1="646.8" x2="182.4" y2="653.2" stroke="#000" stroke-width="1.3"/>
<line x1="242.3" y1="646.8" x2="242.3" y2="653.2" stroke="#000" stroke-width="1.3"/>
<text x="212.35" y="663.6" font-size="8.3" text-anchor="middle" font-weight="normal" fill="#1a1a1a" stroke="#1a1a1a" stroke-width="0.22">G2/M phase</text>
<line x1="257.3" y1="650" x2="317.3" y2="650" stroke="#000" stroke-width="1.4"/>
<line x1="257.3" y1="646.8" x2="257.3" y2="653.2" stroke="#000" stroke-width="1.3"/>
<line x1="317.3" y1="646.8" x2="317.3" y2="653.2" stroke="#000" stroke-width="1.3"/>
<text x="287.3" y="663.6" font-size="8.3" text-anchor="middle" font-weight="normal" fill="#1a1a1a" stroke="#1a1a1a" stroke-width="0.22">Cell cycle</text>
<text x="287.3" y="673" font-size="8.3" text-anchor="middle" font-weight="normal" fill="#1a1a1a" stroke="#1a1a1a" stroke-width="0.22">regulators</text>
<line x1="326.6" y1="650" x2="404.2" y2="650" stroke="#000" stroke-width="1.4"/>
<line x1="326.6" y1="646.8" x2="326.6" y2="653.2" stroke="#000" stroke-width="1.3"/>
<line x1="404.2" y1="646.8" x2="404.2" y2="653.2" stroke="#000" stroke-width="1.3"/>
<text x="365.4" y="663.6" font-size="8.3" text-anchor="middle" font-weight="normal" fill="#1a1a1a" stroke="#1a1a1a" stroke-width="0.22">Tumor suppressors</text>
<rect x="368.8" y="371.9" width="6.4" height="5.8" fill="#2f4a80" stroke="none" stroke-width="0"/>
<rect x="368.8" y="384.2" width="6.4" height="5.8" fill="#a6062c" stroke="none" stroke-width="0"/>
<text x="378.4" y="377.9" font-size="8.3" text-anchor="start" fill="#1a1a1a" stroke="#1a1a1a" stroke-width="0.22" textLength="36.75" lengthAdjust="spacingAndGlyphs">BACH2<tspan font-size="6.23" dy="-2.99">Con</tspan></text>
<text x="378.4" y="390.6" font-size="8.3" text-anchor="start" fill="#1a1a1a" stroke="#1a1a1a" stroke-width="0.22" textLength="34.47" lengthAdjust="spacingAndGlyphs">BACH2<tspan font-size="6.23" dy="-2.99">KO</tspan></text>
<rect x="368.5" y="526.7" width="6.4" height="5.8" fill="#2f4a80" stroke="none" stroke-width="0"/>
<rect x="368.5" y="539.2" width="6.4" height="5.8" fill="#a6062c" stroke="none" stroke-width="0"/>
<text x="377.8" y="532.7" font-size="8.3" text-anchor="start" fill="#1a1a1a" stroke="#1a1a1a" stroke-width="0.22" textLength="36.75" lengthAdjust="spacingAndGlyphs">BACH2<tspan font-size="6.23" dy="-2.99">Con</tspan></text>
<text x="377.8" y="545.2" font-size="8.3" text-anchor="start" fill="#1a1a1a" stroke="#1a1a1a" stroke-width="0.22" textLength="34.47" lengthAdjust="spacingAndGlyphs">BACH2<tspan font-size="6.23" dy="-2.99">KO</tspan></text>
<text x="0" y="0" font-size="10" text-anchor="middle" font-weight="bold" fill="#000" stroke="#000" stroke-width="0.22" textLength="24" lengthAdjust="spacingAndGlyphs" transform="translate(420.6 410.4) rotate(90)">SP53</text>
<line x1="419.5" y1="398.4" x2="419.5" y2="422.4" stroke="#000" stroke-width="0.9"/>
<text x="0" y="0" font-size="10" text-anchor="middle" font-weight="bold" fill="#000" stroke="#000" stroke-width="0.22" textLength="22.1" lengthAdjust="spacingAndGlyphs" transform="translate(419.6 564.8) rotate(90)">Jeko</text>
<line x1="418.5" y1="553.7" x2="418.5" y2="575.8" stroke="#000" stroke-width="0.9"/>
<line x1="25.5" y1="453" x2="25.5" y2="517.3" stroke="#222" stroke-width="1.1"/>
<path d="M25.5 446.1L28.7 455.2L22.3 455.2Z" fill="#000"/>
<text x="0" y="0" font-size="10.6" text-anchor="middle" font-weight="normal" fill="#1a1a1a" stroke="#1a1a1a" stroke-width="0.22" textLength="83.3" lengthAdjust="spacingAndGlyphs" transform="translate(29.4 562.3) rotate(-90)">Relative mRNA levels</text>
</svg>
</body></html>
